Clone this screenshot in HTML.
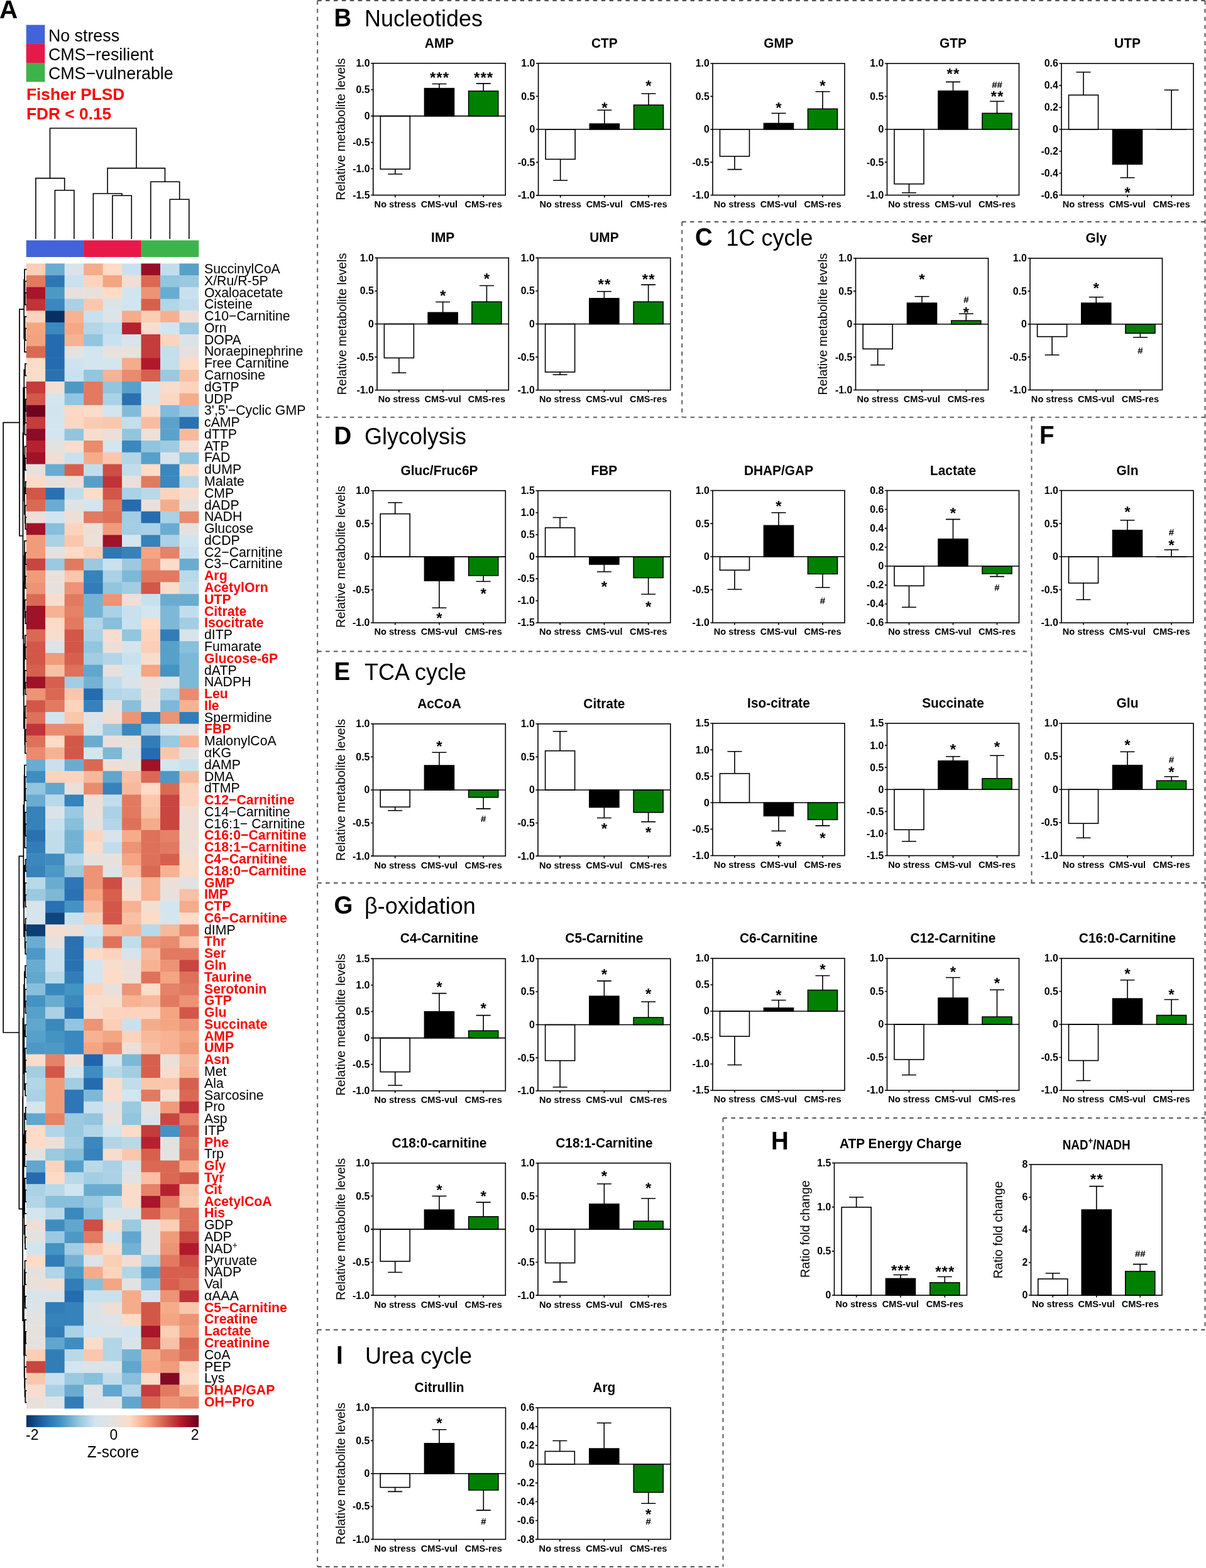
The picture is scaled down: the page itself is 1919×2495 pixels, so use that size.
<!DOCTYPE html><html><head><meta charset="utf-8"><title>Figure</title>
<style>html,body{margin:0;padding:0;background:#fff;}svg{display:block;}text{font-family:'Liberation Sans', Arial, Helvetica, sans-serif;}</style></head><body>
<svg width="1919" height="2495" viewBox="0 0 1919 2495">
<rect width="1919" height="2495" fill="#fff"/>
<text x="-1" y="29.2" font-size="40.5" font-weight="bold">A</text>
<rect x="41.7" y="39.6" width="29.7" height="30.3" fill="#4363d8"/>
<text transform="translate(76.9,65.5) scale(1,1.05)" font-size="26.8">No stress</text>
<rect x="41.7" y="69.8" width="29.7" height="30.3" fill="#e6194b"/>
<text transform="translate(76.9,95.7) scale(1,1.05)" font-size="26.8">CMS−resilient</text>
<rect x="41.7" y="100.0" width="29.7" height="30.3" fill="#3cb44b"/>
<text transform="translate(76.9,125.9) scale(1,1.05)" font-size="26.8">CMS−vulnerable</text>
<text x="42" y="158.5" font-size="26.3" font-weight="bold" fill="#ff0000">Fisher PLSD</text>
<text x="42" y="189.5" font-size="26.3" font-weight="bold" fill="#ff0000">FDR &lt; 0.15</text>
<path d="M79.5,204.0L217.0,204.0M79.5,204.0L79.5,283.6M56.9,283.6L102.7,283.6M56.9,283.6L56.9,379.5M102.7,283.6L102.7,302.7M87.4,302.7L117.9,302.7M87.4,302.7L87.4,379.5M117.9,302.7L117.9,379.5M217.0,204.0L217.0,267.6M171.1,267.6L262.5,267.6M171.1,267.6L171.1,308.0M148.4,308.0L194.0,308.0M148.4,308.0L148.4,379.5M194.0,308.0L194.0,311.3M178.9,311.3L209.3,311.3M178.9,311.3L178.9,379.5M209.3,311.3L209.3,379.5M262.5,267.6L262.5,289.3M239.8,289.3L285.7,289.3M239.8,289.3L239.8,379.5M285.7,289.3L285.7,317.3M270.3,317.3L300.8,317.3M270.3,317.3L270.3,379.5M300.8,317.3L300.8,379.5" stroke="#000" stroke-width="1.6" fill="none" stroke-linecap="square"/>
<rect x="41.70" y="382.4" width="91.74" height="26.6" fill="#4363d8"/>
<rect x="133.14" y="382.4" width="91.74" height="26.6" fill="#e6194b"/>
<rect x="224.58" y="382.4" width="91.74" height="26.6" fill="#3cb44b"/>
<rect x="41.70" y="419.30" width="30.88" height="19.18" fill="#fbceb6"/>
<rect x="72.18" y="419.30" width="30.88" height="19.18" fill="#6aacd0"/>
<rect x="102.66" y="419.30" width="30.88" height="19.18" fill="#d8e4ea"/>
<rect x="133.14" y="419.30" width="30.88" height="19.18" fill="#f5ac8b"/>
<rect x="163.62" y="419.30" width="30.88" height="19.18" fill="#fddbc7"/>
<rect x="194.10" y="419.30" width="30.88" height="19.18" fill="#c9e1ee"/>
<rect x="224.58" y="419.30" width="30.88" height="19.18" fill="#960f26"/>
<rect x="255.06" y="419.30" width="30.88" height="19.18" fill="#c1ddec"/>
<rect x="285.54" y="419.30" width="30.88" height="19.18" fill="#57a0ca"/>
<rect x="41.70" y="438.08" width="30.88" height="19.18" fill="#e17a61"/>
<rect x="72.18" y="438.08" width="30.88" height="19.18" fill="#2e77b5"/>
<rect x="102.66" y="438.08" width="30.88" height="19.18" fill="#c9e1ee"/>
<rect x="133.14" y="438.08" width="30.88" height="19.18" fill="#fcd4be"/>
<rect x="163.62" y="438.08" width="30.88" height="19.18" fill="#f4a582"/>
<rect x="194.10" y="438.08" width="30.88" height="19.18" fill="#f0ded4"/>
<rect x="224.58" y="438.08" width="30.88" height="19.18" fill="#da6954"/>
<rect x="255.06" y="438.08" width="30.88" height="19.18" fill="#92c5de"/>
<rect x="285.54" y="438.08" width="30.88" height="19.18" fill="#9ac9e0"/>
<rect x="41.70" y="456.86" width="30.88" height="19.18" fill="#a9152a"/>
<rect x="72.18" y="456.86" width="30.88" height="19.18" fill="#4d99c6"/>
<rect x="102.66" y="456.86" width="30.88" height="19.18" fill="#e7e1de"/>
<rect x="133.14" y="456.86" width="30.88" height="19.18" fill="#eae0da"/>
<rect x="163.62" y="456.86" width="30.88" height="19.18" fill="#fddbc7"/>
<rect x="194.10" y="456.86" width="30.88" height="19.18" fill="#d1e5f0"/>
<rect x="224.58" y="456.86" width="30.88" height="19.18" fill="#ec9475"/>
<rect x="255.06" y="456.86" width="30.88" height="19.18" fill="#6aacd0"/>
<rect x="285.54" y="456.86" width="30.88" height="19.18" fill="#c9e1ee"/>
<rect x="41.70" y="475.64" width="30.88" height="19.18" fill="#c03338"/>
<rect x="72.18" y="475.64" width="30.88" height="19.18" fill="#3a88bd"/>
<rect x="102.66" y="475.64" width="30.88" height="19.18" fill="#aad1e5"/>
<rect x="133.14" y="475.64" width="30.88" height="19.18" fill="#fac7ad"/>
<rect x="163.62" y="475.64" width="30.88" height="19.18" fill="#dae4e8"/>
<rect x="194.10" y="475.64" width="30.88" height="19.18" fill="#d1e5f0"/>
<rect x="224.58" y="475.64" width="30.88" height="19.18" fill="#d6604d"/>
<rect x="255.06" y="475.64" width="30.88" height="19.18" fill="#b2d5e7"/>
<rect x="285.54" y="475.64" width="30.88" height="19.18" fill="#c1ddec"/>
<rect x="41.70" y="494.42" width="30.88" height="19.18" fill="#fcd4be"/>
<rect x="72.18" y="494.42" width="30.88" height="19.18" fill="#053061"/>
<rect x="102.66" y="494.42" width="30.88" height="19.18" fill="#f6b293"/>
<rect x="133.14" y="494.42" width="30.88" height="19.18" fill="#c9e1ee"/>
<rect x="163.62" y="494.42" width="30.88" height="19.18" fill="#dde3e7"/>
<rect x="194.10" y="494.42" width="30.88" height="19.18" fill="#f5ac8b"/>
<rect x="224.58" y="494.42" width="30.88" height="19.18" fill="#fbceb6"/>
<rect x="255.06" y="494.42" width="30.88" height="19.18" fill="#f6b090"/>
<rect x="285.54" y="494.42" width="30.88" height="19.18" fill="#f0ded4"/>
<rect x="41.70" y="513.20" width="30.88" height="19.18" fill="#f4a582"/>
<rect x="72.18" y="513.20" width="30.88" height="19.18" fill="#3a88bd"/>
<rect x="102.66" y="513.20" width="30.88" height="19.18" fill="#f4a885"/>
<rect x="133.14" y="513.20" width="30.88" height="19.18" fill="#b2d5e7"/>
<rect x="163.62" y="513.20" width="30.88" height="19.18" fill="#c1ddec"/>
<rect x="194.10" y="513.20" width="30.88" height="19.18" fill="#b6212f"/>
<rect x="224.58" y="513.20" width="30.88" height="19.18" fill="#f7ddce"/>
<rect x="255.06" y="513.20" width="30.88" height="19.18" fill="#d1e5f0"/>
<rect x="285.54" y="513.20" width="30.88" height="19.18" fill="#9ac9e0"/>
<rect x="41.70" y="531.98" width="30.88" height="19.18" fill="#f2a27f"/>
<rect x="72.18" y="531.98" width="30.88" height="19.18" fill="#256caf"/>
<rect x="102.66" y="531.98" width="30.88" height="19.18" fill="#f6b293"/>
<rect x="133.14" y="531.98" width="30.88" height="19.18" fill="#92c5de"/>
<rect x="163.62" y="531.98" width="30.88" height="19.18" fill="#c9e1ee"/>
<rect x="194.10" y="531.98" width="30.88" height="19.18" fill="#d8e4ea"/>
<rect x="224.58" y="531.98" width="30.88" height="19.18" fill="#c43c3c"/>
<rect x="255.06" y="531.98" width="30.88" height="19.18" fill="#fcd4be"/>
<rect x="285.54" y="531.98" width="30.88" height="19.18" fill="#dae4e8"/>
<rect x="41.70" y="550.76" width="30.88" height="19.18" fill="#da6954"/>
<rect x="72.18" y="550.76" width="30.88" height="19.18" fill="#256caf"/>
<rect x="102.66" y="550.76" width="30.88" height="19.18" fill="#e4e2e1"/>
<rect x="133.14" y="550.76" width="30.88" height="19.18" fill="#d3e5ee"/>
<rect x="163.62" y="550.76" width="30.88" height="19.18" fill="#e9e1dc"/>
<rect x="194.10" y="550.76" width="30.88" height="19.18" fill="#e9e1dc"/>
<rect x="224.58" y="550.76" width="30.88" height="19.18" fill="#c43c3c"/>
<rect x="255.06" y="550.76" width="30.88" height="19.18" fill="#c4dfec"/>
<rect x="285.54" y="550.76" width="30.88" height="19.18" fill="#e7e1de"/>
<rect x="41.70" y="569.54" width="30.88" height="19.18" fill="#fadcca"/>
<rect x="72.18" y="569.54" width="30.88" height="19.18" fill="#256caf"/>
<rect x="102.66" y="569.54" width="30.88" height="19.18" fill="#cee3ef"/>
<rect x="133.14" y="569.54" width="30.88" height="19.18" fill="#d3e5ee"/>
<rect x="163.62" y="569.54" width="30.88" height="19.18" fill="#d3e5ee"/>
<rect x="194.10" y="569.54" width="30.88" height="19.18" fill="#f5ac8b"/>
<rect x="224.58" y="569.54" width="30.88" height="19.18" fill="#b2182b"/>
<rect x="255.06" y="569.54" width="30.88" height="19.18" fill="#c4dfec"/>
<rect x="285.54" y="569.54" width="30.88" height="19.18" fill="#fddbc7"/>
<rect x="41.70" y="588.32" width="30.88" height="19.18" fill="#fadcca"/>
<rect x="72.18" y="588.32" width="30.88" height="19.18" fill="#2a71b2"/>
<rect x="102.66" y="588.32" width="30.88" height="19.18" fill="#c9e1ee"/>
<rect x="133.14" y="588.32" width="30.88" height="19.18" fill="#92c5de"/>
<rect x="163.62" y="588.32" width="30.88" height="19.18" fill="#f6b293"/>
<rect x="194.10" y="588.32" width="30.88" height="19.18" fill="#e98b6e"/>
<rect x="224.58" y="588.32" width="30.88" height="19.18" fill="#d6604d"/>
<rect x="255.06" y="588.32" width="30.88" height="19.18" fill="#9ac9e0"/>
<rect x="285.54" y="588.32" width="30.88" height="19.18" fill="#f8c0a4"/>
<rect x="41.70" y="607.10" width="30.88" height="19.18" fill="#c43c3c"/>
<rect x="72.18" y="607.10" width="30.88" height="19.18" fill="#f2ded3"/>
<rect x="102.66" y="607.10" width="30.88" height="19.18" fill="#4d99c6"/>
<rect x="133.14" y="607.10" width="30.88" height="19.18" fill="#e17a61"/>
<rect x="163.62" y="607.10" width="30.88" height="19.18" fill="#92c5de"/>
<rect x="194.10" y="607.10" width="30.88" height="19.18" fill="#57a0ca"/>
<rect x="224.58" y="607.10" width="30.88" height="19.18" fill="#d3e5ee"/>
<rect x="255.06" y="607.10" width="30.88" height="19.18" fill="#f8dccc"/>
<rect x="285.54" y="607.10" width="30.88" height="19.18" fill="#fcd4be"/>
<rect x="41.70" y="625.88" width="30.88" height="19.18" fill="#d25749"/>
<rect x="72.18" y="625.88" width="30.88" height="19.18" fill="#d3e5ee"/>
<rect x="102.66" y="625.88" width="30.88" height="19.18" fill="#92c5de"/>
<rect x="133.14" y="625.88" width="30.88" height="19.18" fill="#e17a61"/>
<rect x="163.62" y="625.88" width="30.88" height="19.18" fill="#aad1e5"/>
<rect x="194.10" y="625.88" width="30.88" height="19.18" fill="#2a71b2"/>
<rect x="224.58" y="625.88" width="30.88" height="19.18" fill="#d6e4ec"/>
<rect x="255.06" y="625.88" width="30.88" height="19.18" fill="#fcd7c2"/>
<rect x="285.54" y="625.88" width="30.88" height="19.18" fill="#f5ac8b"/>
<rect x="41.70" y="644.66" width="30.88" height="19.18" fill="#700320"/>
<rect x="72.18" y="644.66" width="30.88" height="19.18" fill="#d2e5ef"/>
<rect x="102.66" y="644.66" width="30.88" height="19.18" fill="#fdd8c4"/>
<rect x="133.14" y="644.66" width="30.88" height="19.18" fill="#fadcca"/>
<rect x="163.62" y="644.66" width="30.88" height="19.18" fill="#d3e5ee"/>
<rect x="194.10" y="644.66" width="30.88" height="19.18" fill="#82bbd9"/>
<rect x="224.58" y="644.66" width="30.88" height="19.18" fill="#fadcca"/>
<rect x="255.06" y="644.66" width="30.88" height="19.18" fill="#82bbd9"/>
<rect x="285.54" y="644.66" width="30.88" height="19.18" fill="#9fcbe2"/>
<rect x="41.70" y="663.44" width="30.88" height="19.18" fill="#c43c3c"/>
<rect x="72.18" y="663.44" width="30.88" height="19.18" fill="#d3e5ee"/>
<rect x="102.66" y="663.44" width="30.88" height="19.18" fill="#fcd7c2"/>
<rect x="133.14" y="663.44" width="30.88" height="19.18" fill="#facbb2"/>
<rect x="163.62" y="663.44" width="30.88" height="19.18" fill="#fac7ad"/>
<rect x="194.10" y="663.44" width="30.88" height="19.18" fill="#c4dfec"/>
<rect x="224.58" y="663.44" width="30.88" height="19.18" fill="#f8bda1"/>
<rect x="255.06" y="663.44" width="30.88" height="19.18" fill="#5ba2cb"/>
<rect x="285.54" y="663.44" width="30.88" height="19.18" fill="#2a71b2"/>
<rect x="41.70" y="682.22" width="30.88" height="19.18" fill="#8c0c25"/>
<rect x="72.18" y="682.22" width="30.88" height="19.18" fill="#d3e5ee"/>
<rect x="102.66" y="682.22" width="30.88" height="19.18" fill="#92c5de"/>
<rect x="133.14" y="682.22" width="30.88" height="19.18" fill="#f7ddce"/>
<rect x="163.62" y="682.22" width="30.88" height="19.18" fill="#eddfd7"/>
<rect x="194.10" y="682.22" width="30.88" height="19.18" fill="#92c5de"/>
<rect x="224.58" y="682.22" width="30.88" height="19.18" fill="#ece0d9"/>
<rect x="255.06" y="682.22" width="30.88" height="19.18" fill="#5ba2cb"/>
<rect x="285.54" y="682.22" width="30.88" height="19.18" fill="#f7b99c"/>
<rect x="41.70" y="701.00" width="30.88" height="19.18" fill="#b6212f"/>
<rect x="72.18" y="701.00" width="30.88" height="19.18" fill="#e2e2e3"/>
<rect x="102.66" y="701.00" width="30.88" height="19.18" fill="#f7ddce"/>
<rect x="133.14" y="701.00" width="30.88" height="19.18" fill="#e98b6e"/>
<rect x="163.62" y="701.00" width="30.88" height="19.18" fill="#d3e5ee"/>
<rect x="194.10" y="701.00" width="30.88" height="19.18" fill="#3a88bd"/>
<rect x="224.58" y="701.00" width="30.88" height="19.18" fill="#92c5de"/>
<rect x="255.06" y="701.00" width="30.88" height="19.18" fill="#9fcbe2"/>
<rect x="285.54" y="701.00" width="30.88" height="19.18" fill="#f4ded1"/>
<rect x="41.70" y="719.78" width="30.88" height="19.18" fill="#9f1228"/>
<rect x="72.18" y="719.78" width="30.88" height="19.18" fill="#f0ded4"/>
<rect x="102.66" y="719.78" width="30.88" height="19.18" fill="#c9e1ee"/>
<rect x="133.14" y="719.78" width="30.88" height="19.18" fill="#f5ac8b"/>
<rect x="163.62" y="719.78" width="30.88" height="19.18" fill="#fac7ad"/>
<rect x="194.10" y="719.78" width="30.88" height="19.18" fill="#b2d5e7"/>
<rect x="224.58" y="719.78" width="30.88" height="19.18" fill="#57a0ca"/>
<rect x="255.06" y="719.78" width="30.88" height="19.18" fill="#d8e4ea"/>
<rect x="285.54" y="719.78" width="30.88" height="19.18" fill="#92c5de"/>
<rect x="41.70" y="738.56" width="30.88" height="19.18" fill="#e7e1de"/>
<rect x="72.18" y="738.56" width="30.88" height="19.18" fill="#6aacd0"/>
<rect x="102.66" y="738.56" width="30.88" height="19.18" fill="#d6604d"/>
<rect x="133.14" y="738.56" width="30.88" height="19.18" fill="#c1ddec"/>
<rect x="163.62" y="738.56" width="30.88" height="19.18" fill="#cd4e44"/>
<rect x="194.10" y="738.56" width="30.88" height="19.18" fill="#c1ddec"/>
<rect x="224.58" y="738.56" width="30.88" height="19.18" fill="#fddbc7"/>
<rect x="255.06" y="738.56" width="30.88" height="19.18" fill="#3a88bd"/>
<rect x="285.54" y="738.56" width="30.88" height="19.18" fill="#fddbc7"/>
<rect x="41.70" y="757.34" width="30.88" height="19.18" fill="#fddbc7"/>
<rect x="72.18" y="757.34" width="30.88" height="19.18" fill="#e7e1de"/>
<rect x="102.66" y="757.34" width="30.88" height="19.18" fill="#eddfd7"/>
<rect x="133.14" y="757.34" width="30.88" height="19.18" fill="#57a0ca"/>
<rect x="163.62" y="757.34" width="30.88" height="19.18" fill="#c03338"/>
<rect x="194.10" y="757.34" width="30.88" height="19.18" fill="#eae0da"/>
<rect x="224.58" y="757.34" width="30.88" height="19.18" fill="#e17a61"/>
<rect x="255.06" y="757.34" width="30.88" height="19.18" fill="#3a88bd"/>
<rect x="285.54" y="757.34" width="30.88" height="19.18" fill="#b9d9e9"/>
<rect x="41.70" y="776.12" width="30.88" height="19.18" fill="#d25749"/>
<rect x="72.18" y="776.12" width="30.88" height="19.18" fill="#2a71b2"/>
<rect x="102.66" y="776.12" width="30.88" height="19.18" fill="#c1ddec"/>
<rect x="133.14" y="776.12" width="30.88" height="19.18" fill="#fadcca"/>
<rect x="163.62" y="776.12" width="30.88" height="19.18" fill="#d25749"/>
<rect x="194.10" y="776.12" width="30.88" height="19.18" fill="#aad1e5"/>
<rect x="224.58" y="776.12" width="30.88" height="19.18" fill="#b9d9e9"/>
<rect x="255.06" y="776.12" width="30.88" height="19.18" fill="#fcd4be"/>
<rect x="285.54" y="776.12" width="30.88" height="19.18" fill="#f7ddce"/>
<rect x="41.70" y="794.90" width="30.88" height="19.18" fill="#da6954"/>
<rect x="72.18" y="794.90" width="30.88" height="19.18" fill="#6aacd0"/>
<rect x="102.66" y="794.90" width="30.88" height="19.18" fill="#dfe3e5"/>
<rect x="133.14" y="794.90" width="30.88" height="19.18" fill="#d3e5ee"/>
<rect x="163.62" y="794.90" width="30.88" height="19.18" fill="#e17a61"/>
<rect x="194.10" y="794.90" width="30.88" height="19.18" fill="#256caf"/>
<rect x="224.58" y="794.90" width="30.88" height="19.18" fill="#eae0da"/>
<rect x="255.06" y="794.90" width="30.88" height="19.18" fill="#f5ac8b"/>
<rect x="285.54" y="794.90" width="30.88" height="19.18" fill="#e7e1de"/>
<rect x="41.70" y="813.68" width="30.88" height="19.18" fill="#eddfd7"/>
<rect x="72.18" y="813.68" width="30.88" height="19.18" fill="#d1e5f0"/>
<rect x="102.66" y="813.68" width="30.88" height="19.18" fill="#f0ded4"/>
<rect x="133.14" y="813.68" width="30.88" height="19.18" fill="#e17a61"/>
<rect x="163.62" y="813.68" width="30.88" height="19.18" fill="#de715a"/>
<rect x="194.10" y="813.68" width="30.88" height="19.18" fill="#a2cde2"/>
<rect x="224.58" y="813.68" width="30.88" height="19.18" fill="#256caf"/>
<rect x="255.06" y="813.68" width="30.88" height="19.18" fill="#aad1e5"/>
<rect x="285.54" y="813.68" width="30.88" height="19.18" fill="#e98b6e"/>
<rect x="41.70" y="832.46" width="30.88" height="19.18" fill="#9f1228"/>
<rect x="72.18" y="832.46" width="30.88" height="19.18" fill="#88bfdb"/>
<rect x="102.66" y="832.46" width="30.88" height="19.18" fill="#fcd4be"/>
<rect x="133.14" y="832.46" width="30.88" height="19.18" fill="#eddfd7"/>
<rect x="163.62" y="832.46" width="30.88" height="19.18" fill="#f09c7b"/>
<rect x="194.10" y="832.46" width="30.88" height="19.18" fill="#a2cde2"/>
<rect x="224.58" y="832.46" width="30.88" height="19.18" fill="#aad1e5"/>
<rect x="255.06" y="832.46" width="30.88" height="19.18" fill="#6aacd0"/>
<rect x="285.54" y="832.46" width="30.88" height="19.18" fill="#e7e1de"/>
<rect x="41.70" y="851.24" width="30.88" height="19.18" fill="#f09c7b"/>
<rect x="72.18" y="851.24" width="30.88" height="19.18" fill="#aad1e5"/>
<rect x="102.66" y="851.24" width="30.88" height="19.18" fill="#fac7ad"/>
<rect x="133.14" y="851.24" width="30.88" height="19.18" fill="#ece0d9"/>
<rect x="163.62" y="851.24" width="30.88" height="19.18" fill="#9f1228"/>
<rect x="194.10" y="851.24" width="30.88" height="19.18" fill="#d3e5ee"/>
<rect x="224.58" y="851.24" width="30.88" height="19.18" fill="#3682ba"/>
<rect x="255.06" y="851.24" width="30.88" height="19.18" fill="#aad1e5"/>
<rect x="285.54" y="851.24" width="30.88" height="19.18" fill="#d1e5f0"/>
<rect x="41.70" y="870.02" width="30.88" height="19.18" fill="#f09c7b"/>
<rect x="72.18" y="870.02" width="30.88" height="19.18" fill="#e7e1de"/>
<rect x="102.66" y="870.02" width="30.88" height="19.18" fill="#fddbc7"/>
<rect x="133.14" y="870.02" width="30.88" height="19.18" fill="#fbceb6"/>
<rect x="163.62" y="870.02" width="30.88" height="19.18" fill="#2e77b5"/>
<rect x="194.10" y="870.02" width="30.88" height="19.18" fill="#3682ba"/>
<rect x="224.58" y="870.02" width="30.88" height="19.18" fill="#f4a582"/>
<rect x="255.06" y="870.02" width="30.88" height="19.18" fill="#e58268"/>
<rect x="285.54" y="870.02" width="30.88" height="19.18" fill="#c9e1ee"/>
<rect x="41.70" y="888.80" width="30.88" height="19.18" fill="#c84540"/>
<rect x="72.18" y="888.80" width="30.88" height="19.18" fill="#9ac9e0"/>
<rect x="102.66" y="888.80" width="30.88" height="19.18" fill="#e17a61"/>
<rect x="133.14" y="888.80" width="30.88" height="19.18" fill="#9ac9e0"/>
<rect x="163.62" y="888.80" width="30.88" height="19.18" fill="#c9e1ee"/>
<rect x="194.10" y="888.80" width="30.88" height="19.18" fill="#9ac9e0"/>
<rect x="224.58" y="888.80" width="30.88" height="19.18" fill="#ec9475"/>
<rect x="255.06" y="888.80" width="30.88" height="19.18" fill="#fadcca"/>
<rect x="285.54" y="888.80" width="30.88" height="19.18" fill="#6aacd0"/>
<rect x="41.70" y="907.58" width="30.88" height="19.18" fill="#f09c7b"/>
<rect x="72.18" y="907.58" width="30.88" height="19.18" fill="#eae0da"/>
<rect x="102.66" y="907.58" width="30.88" height="19.18" fill="#fac7ad"/>
<rect x="133.14" y="907.58" width="30.88" height="19.18" fill="#3682ba"/>
<rect x="163.62" y="907.58" width="30.88" height="19.18" fill="#aad1e5"/>
<rect x="194.10" y="907.58" width="30.88" height="19.18" fill="#7eb8d7"/>
<rect x="224.58" y="907.58" width="30.88" height="19.18" fill="#e17a61"/>
<rect x="255.06" y="907.58" width="30.88" height="19.18" fill="#e17a61"/>
<rect x="285.54" y="907.58" width="30.88" height="19.18" fill="#b9d9e9"/>
<rect x="41.70" y="926.36" width="30.88" height="19.18" fill="#ec9475"/>
<rect x="72.18" y="926.36" width="30.88" height="19.18" fill="#e7e1de"/>
<rect x="102.66" y="926.36" width="30.88" height="19.18" fill="#ec9475"/>
<rect x="133.14" y="926.36" width="30.88" height="19.18" fill="#327db8"/>
<rect x="163.62" y="926.36" width="30.88" height="19.18" fill="#92c5de"/>
<rect x="194.10" y="926.36" width="30.88" height="19.18" fill="#a2cde2"/>
<rect x="224.58" y="926.36" width="30.88" height="19.18" fill="#d25749"/>
<rect x="255.06" y="926.36" width="30.88" height="19.18" fill="#fadcca"/>
<rect x="285.54" y="926.36" width="30.88" height="19.18" fill="#c1ddec"/>
<rect x="41.70" y="945.14" width="30.88" height="19.18" fill="#da6954"/>
<rect x="72.18" y="945.14" width="30.88" height="19.18" fill="#f7ddce"/>
<rect x="102.66" y="945.14" width="30.88" height="19.18" fill="#e17a61"/>
<rect x="133.14" y="945.14" width="30.88" height="19.18" fill="#74b2d4"/>
<rect x="163.62" y="945.14" width="30.88" height="19.18" fill="#ec9475"/>
<rect x="194.10" y="945.14" width="30.88" height="19.18" fill="#eddfd7"/>
<rect x="224.58" y="945.14" width="30.88" height="19.18" fill="#c9e1ee"/>
<rect x="255.06" y="945.14" width="30.88" height="19.18" fill="#6aacd0"/>
<rect x="285.54" y="945.14" width="30.88" height="19.18" fill="#6aacd0"/>
<rect x="41.70" y="963.92" width="30.88" height="19.18" fill="#9f1228"/>
<rect x="72.18" y="963.92" width="30.88" height="19.18" fill="#f6b293"/>
<rect x="102.66" y="963.92" width="30.88" height="19.18" fill="#e58268"/>
<rect x="133.14" y="963.92" width="30.88" height="19.18" fill="#74b2d4"/>
<rect x="163.62" y="963.92" width="30.88" height="19.18" fill="#aad1e5"/>
<rect x="194.10" y="963.92" width="30.88" height="19.18" fill="#c9e1ee"/>
<rect x="224.58" y="963.92" width="30.88" height="19.18" fill="#d3e5ee"/>
<rect x="255.06" y="963.92" width="30.88" height="19.18" fill="#7eb8d7"/>
<rect x="285.54" y="963.92" width="30.88" height="19.18" fill="#c1ddec"/>
<rect x="41.70" y="982.70" width="30.88" height="19.18" fill="#9f1228"/>
<rect x="72.18" y="982.70" width="30.88" height="19.18" fill="#fddbc7"/>
<rect x="102.66" y="982.70" width="30.88" height="19.18" fill="#e17a61"/>
<rect x="133.14" y="982.70" width="30.88" height="19.18" fill="#b2d5e7"/>
<rect x="163.62" y="982.70" width="30.88" height="19.18" fill="#88bfdb"/>
<rect x="194.10" y="982.70" width="30.88" height="19.18" fill="#c9e1ee"/>
<rect x="224.58" y="982.70" width="30.88" height="19.18" fill="#fddbc7"/>
<rect x="255.06" y="982.70" width="30.88" height="19.18" fill="#7eb8d7"/>
<rect x="285.54" y="982.70" width="30.88" height="19.18" fill="#a2cde2"/>
<rect x="41.70" y="1001.48" width="30.88" height="19.18" fill="#da6954"/>
<rect x="72.18" y="1001.48" width="30.88" height="19.18" fill="#f7ddce"/>
<rect x="102.66" y="1001.48" width="30.88" height="19.18" fill="#d25749"/>
<rect x="133.14" y="1001.48" width="30.88" height="19.18" fill="#aad1e5"/>
<rect x="163.62" y="1001.48" width="30.88" height="19.18" fill="#f7ddce"/>
<rect x="194.10" y="1001.48" width="30.88" height="19.18" fill="#92c5de"/>
<rect x="224.58" y="1001.48" width="30.88" height="19.18" fill="#fcd4be"/>
<rect x="255.06" y="1001.48" width="30.88" height="19.18" fill="#327db8"/>
<rect x="285.54" y="1001.48" width="30.88" height="19.18" fill="#d8e4ea"/>
<rect x="41.70" y="1020.26" width="30.88" height="19.18" fill="#d25749"/>
<rect x="72.18" y="1020.26" width="30.88" height="19.18" fill="#dde3e7"/>
<rect x="102.66" y="1020.26" width="30.88" height="19.18" fill="#d25749"/>
<rect x="133.14" y="1020.26" width="30.88" height="19.18" fill="#92c5de"/>
<rect x="163.62" y="1020.26" width="30.88" height="19.18" fill="#eddfd7"/>
<rect x="194.10" y="1020.26" width="30.88" height="19.18" fill="#d6e4ec"/>
<rect x="224.58" y="1020.26" width="30.88" height="19.18" fill="#fbceb6"/>
<rect x="255.06" y="1020.26" width="30.88" height="19.18" fill="#57a0ca"/>
<rect x="285.54" y="1020.26" width="30.88" height="19.18" fill="#88bfdb"/>
<rect x="41.70" y="1039.04" width="30.88" height="19.18" fill="#d25749"/>
<rect x="72.18" y="1039.04" width="30.88" height="19.18" fill="#f09c7b"/>
<rect x="102.66" y="1039.04" width="30.88" height="19.18" fill="#d6604d"/>
<rect x="133.14" y="1039.04" width="30.88" height="19.18" fill="#a2cde2"/>
<rect x="163.62" y="1039.04" width="30.88" height="19.18" fill="#b2d5e7"/>
<rect x="194.10" y="1039.04" width="30.88" height="19.18" fill="#c9e1ee"/>
<rect x="224.58" y="1039.04" width="30.88" height="19.18" fill="#f7ddce"/>
<rect x="255.06" y="1039.04" width="30.88" height="19.18" fill="#57a0ca"/>
<rect x="285.54" y="1039.04" width="30.88" height="19.18" fill="#7eb8d7"/>
<rect x="41.70" y="1057.82" width="30.88" height="19.18" fill="#d6604d"/>
<rect x="72.18" y="1057.82" width="30.88" height="19.18" fill="#f8c0a4"/>
<rect x="102.66" y="1057.82" width="30.88" height="19.18" fill="#de715a"/>
<rect x="133.14" y="1057.82" width="30.88" height="19.18" fill="#61a6cd"/>
<rect x="163.62" y="1057.82" width="30.88" height="19.18" fill="#e7e1de"/>
<rect x="194.10" y="1057.82" width="30.88" height="19.18" fill="#d3e5ee"/>
<rect x="224.58" y="1057.82" width="30.88" height="19.18" fill="#f4a582"/>
<rect x="255.06" y="1057.82" width="30.88" height="19.18" fill="#4393c3"/>
<rect x="285.54" y="1057.82" width="30.88" height="19.18" fill="#7eb8d7"/>
<rect x="41.70" y="1076.60" width="30.88" height="19.18" fill="#9f1228"/>
<rect x="72.18" y="1076.60" width="30.88" height="19.18" fill="#d6604d"/>
<rect x="102.66" y="1076.60" width="30.88" height="19.18" fill="#a2cde2"/>
<rect x="133.14" y="1076.60" width="30.88" height="19.18" fill="#74b2d4"/>
<rect x="163.62" y="1076.60" width="30.88" height="19.18" fill="#c1ddec"/>
<rect x="194.10" y="1076.60" width="30.88" height="19.18" fill="#dae4e8"/>
<rect x="224.58" y="1076.60" width="30.88" height="19.18" fill="#eddfd7"/>
<rect x="255.06" y="1076.60" width="30.88" height="19.18" fill="#dfe3e5"/>
<rect x="285.54" y="1076.60" width="30.88" height="19.18" fill="#7eb8d7"/>
<rect x="41.70" y="1095.38" width="30.88" height="19.18" fill="#ec9475"/>
<rect x="72.18" y="1095.38" width="30.88" height="19.18" fill="#da6954"/>
<rect x="102.66" y="1095.38" width="30.88" height="19.18" fill="#fac7ad"/>
<rect x="133.14" y="1095.38" width="30.88" height="19.18" fill="#256caf"/>
<rect x="163.62" y="1095.38" width="30.88" height="19.18" fill="#b2d5e7"/>
<rect x="194.10" y="1095.38" width="30.88" height="19.18" fill="#b9d9e9"/>
<rect x="224.58" y="1095.38" width="30.88" height="19.18" fill="#eae0da"/>
<rect x="255.06" y="1095.38" width="30.88" height="19.18" fill="#aad1e5"/>
<rect x="285.54" y="1095.38" width="30.88" height="19.18" fill="#e98b6e"/>
<rect x="41.70" y="1114.16" width="30.88" height="19.18" fill="#d25749"/>
<rect x="72.18" y="1114.16" width="30.88" height="19.18" fill="#e17a61"/>
<rect x="102.66" y="1114.16" width="30.88" height="19.18" fill="#fcd4be"/>
<rect x="133.14" y="1114.16" width="30.88" height="19.18" fill="#3682ba"/>
<rect x="163.62" y="1114.16" width="30.88" height="19.18" fill="#e4e2e1"/>
<rect x="194.10" y="1114.16" width="30.88" height="19.18" fill="#88bfdb"/>
<rect x="224.58" y="1114.16" width="30.88" height="19.18" fill="#e4e2e1"/>
<rect x="255.06" y="1114.16" width="30.88" height="19.18" fill="#7eb8d7"/>
<rect x="285.54" y="1114.16" width="30.88" height="19.18" fill="#f6b293"/>
<rect x="41.70" y="1132.94" width="30.88" height="19.18" fill="#de715a"/>
<rect x="72.18" y="1132.94" width="30.88" height="19.18" fill="#d1e5f0"/>
<rect x="102.66" y="1132.94" width="30.88" height="19.18" fill="#fac7ad"/>
<rect x="133.14" y="1132.94" width="30.88" height="19.18" fill="#dde3e7"/>
<rect x="163.62" y="1132.94" width="30.88" height="19.18" fill="#f0ded4"/>
<rect x="194.10" y="1132.94" width="30.88" height="19.18" fill="#ec9475"/>
<rect x="224.58" y="1132.94" width="30.88" height="19.18" fill="#3682ba"/>
<rect x="255.06" y="1132.94" width="30.88" height="19.18" fill="#ec9475"/>
<rect x="285.54" y="1132.94" width="30.88" height="19.18" fill="#327db8"/>
<rect x="41.70" y="1151.72" width="30.88" height="19.18" fill="#c03338"/>
<rect x="72.18" y="1151.72" width="30.88" height="19.18" fill="#e98b6e"/>
<rect x="102.66" y="1151.72" width="30.88" height="19.18" fill="#e98b6e"/>
<rect x="133.14" y="1151.72" width="30.88" height="19.18" fill="#d6e4ec"/>
<rect x="163.62" y="1151.72" width="30.88" height="19.18" fill="#9ac9e0"/>
<rect x="194.10" y="1151.72" width="30.88" height="19.18" fill="#3a88bd"/>
<rect x="224.58" y="1151.72" width="30.88" height="19.18" fill="#a2cde2"/>
<rect x="255.06" y="1151.72" width="30.88" height="19.18" fill="#d3e5ee"/>
<rect x="285.54" y="1151.72" width="30.88" height="19.18" fill="#e7e1de"/>
<rect x="41.70" y="1170.50" width="30.88" height="19.18" fill="#de715a"/>
<rect x="72.18" y="1170.50" width="30.88" height="19.18" fill="#fddbc7"/>
<rect x="102.66" y="1170.50" width="30.88" height="19.18" fill="#d25749"/>
<rect x="133.14" y="1170.50" width="30.88" height="19.18" fill="#6aacd0"/>
<rect x="163.62" y="1170.50" width="30.88" height="19.18" fill="#eae0da"/>
<rect x="194.10" y="1170.50" width="30.88" height="19.18" fill="#eae0da"/>
<rect x="224.58" y="1170.50" width="30.88" height="19.18" fill="#327db8"/>
<rect x="255.06" y="1170.50" width="30.88" height="19.18" fill="#9ac9e0"/>
<rect x="285.54" y="1170.50" width="30.88" height="19.18" fill="#f6b293"/>
<rect x="41.70" y="1189.28" width="30.88" height="19.18" fill="#e98b6e"/>
<rect x="72.18" y="1189.28" width="30.88" height="19.18" fill="#f6b293"/>
<rect x="102.66" y="1189.28" width="30.88" height="19.18" fill="#d25749"/>
<rect x="133.14" y="1189.28" width="30.88" height="19.18" fill="#d6e4ec"/>
<rect x="163.62" y="1189.28" width="30.88" height="19.18" fill="#7eb8d7"/>
<rect x="194.10" y="1189.28" width="30.88" height="19.18" fill="#dae4e8"/>
<rect x="224.58" y="1189.28" width="30.88" height="19.18" fill="#256caf"/>
<rect x="255.06" y="1189.28" width="30.88" height="19.18" fill="#fac7ad"/>
<rect x="285.54" y="1189.28" width="30.88" height="19.18" fill="#e4e2e1"/>
<rect x="41.70" y="1208.06" width="30.88" height="19.18" fill="#6aacd0"/>
<rect x="72.18" y="1208.06" width="30.88" height="19.18" fill="#c9e1ee"/>
<rect x="102.66" y="1208.06" width="30.88" height="19.18" fill="#6aacd0"/>
<rect x="133.14" y="1208.06" width="30.88" height="19.18" fill="#da6954"/>
<rect x="163.62" y="1208.06" width="30.88" height="19.18" fill="#eddfd7"/>
<rect x="194.10" y="1208.06" width="30.88" height="19.18" fill="#eae0da"/>
<rect x="224.58" y="1208.06" width="30.88" height="19.18" fill="#9f1228"/>
<rect x="255.06" y="1208.06" width="30.88" height="19.18" fill="#d3e5ee"/>
<rect x="285.54" y="1208.06" width="30.88" height="19.18" fill="#c9e1ee"/>
<rect x="41.70" y="1226.84" width="30.88" height="19.18" fill="#3f8dc0"/>
<rect x="72.18" y="1226.84" width="30.88" height="19.18" fill="#fcd4be"/>
<rect x="102.66" y="1226.84" width="30.88" height="19.18" fill="#fcd4be"/>
<rect x="133.14" y="1226.84" width="30.88" height="19.18" fill="#f7b99c"/>
<rect x="163.62" y="1226.84" width="30.88" height="19.18" fill="#61a6cd"/>
<rect x="194.10" y="1226.84" width="30.88" height="19.18" fill="#f8c0a4"/>
<rect x="224.58" y="1226.84" width="30.88" height="19.18" fill="#da6954"/>
<rect x="255.06" y="1226.84" width="30.88" height="19.18" fill="#4d99c6"/>
<rect x="285.54" y="1226.84" width="30.88" height="19.18" fill="#f7b99c"/>
<rect x="41.70" y="1245.62" width="30.88" height="19.18" fill="#92c5de"/>
<rect x="72.18" y="1245.62" width="30.88" height="19.18" fill="#61a6cd"/>
<rect x="102.66" y="1245.62" width="30.88" height="19.18" fill="#eae0da"/>
<rect x="133.14" y="1245.62" width="30.88" height="19.18" fill="#e98b6e"/>
<rect x="163.62" y="1245.62" width="30.88" height="19.18" fill="#3682ba"/>
<rect x="194.10" y="1245.62" width="30.88" height="19.18" fill="#f7b99c"/>
<rect x="224.58" y="1245.62" width="30.88" height="19.18" fill="#fddbc7"/>
<rect x="255.06" y="1245.62" width="30.88" height="19.18" fill="#da6954"/>
<rect x="285.54" y="1245.62" width="30.88" height="19.18" fill="#fcd4be"/>
<rect x="41.70" y="1264.40" width="30.88" height="19.18" fill="#6aacd0"/>
<rect x="72.18" y="1264.40" width="30.88" height="19.18" fill="#b9d9e9"/>
<rect x="102.66" y="1264.40" width="30.88" height="19.18" fill="#3682ba"/>
<rect x="133.14" y="1264.40" width="30.88" height="19.18" fill="#eddfd7"/>
<rect x="163.62" y="1264.40" width="30.88" height="19.18" fill="#c1ddec"/>
<rect x="194.10" y="1264.40" width="30.88" height="19.18" fill="#e17a61"/>
<rect x="224.58" y="1264.40" width="30.88" height="19.18" fill="#fac7ad"/>
<rect x="255.06" y="1264.40" width="30.88" height="19.18" fill="#c84540"/>
<rect x="285.54" y="1264.40" width="30.88" height="19.18" fill="#fcd4be"/>
<rect x="41.70" y="1283.18" width="30.88" height="19.18" fill="#3682ba"/>
<rect x="72.18" y="1283.18" width="30.88" height="19.18" fill="#dae4e8"/>
<rect x="102.66" y="1283.18" width="30.88" height="19.18" fill="#9ac9e0"/>
<rect x="133.14" y="1283.18" width="30.88" height="19.18" fill="#eddfd7"/>
<rect x="163.62" y="1283.18" width="30.88" height="19.18" fill="#aad1e5"/>
<rect x="194.10" y="1283.18" width="30.88" height="19.18" fill="#e17a61"/>
<rect x="224.58" y="1283.18" width="30.88" height="19.18" fill="#f8c0a4"/>
<rect x="255.06" y="1283.18" width="30.88" height="19.18" fill="#c84540"/>
<rect x="285.54" y="1283.18" width="30.88" height="19.18" fill="#f0ded4"/>
<rect x="41.70" y="1301.96" width="30.88" height="19.18" fill="#3682ba"/>
<rect x="72.18" y="1301.96" width="30.88" height="19.18" fill="#c9e1ee"/>
<rect x="102.66" y="1301.96" width="30.88" height="19.18" fill="#88bfdb"/>
<rect x="133.14" y="1301.96" width="30.88" height="19.18" fill="#e7e1de"/>
<rect x="163.62" y="1301.96" width="30.88" height="19.18" fill="#b2d5e7"/>
<rect x="194.10" y="1301.96" width="30.88" height="19.18" fill="#de715a"/>
<rect x="224.58" y="1301.96" width="30.88" height="19.18" fill="#f5ac8b"/>
<rect x="255.06" y="1301.96" width="30.88" height="19.18" fill="#c84540"/>
<rect x="285.54" y="1301.96" width="30.88" height="19.18" fill="#eddfd7"/>
<rect x="41.70" y="1320.74" width="30.88" height="19.18" fill="#2a71b2"/>
<rect x="72.18" y="1320.74" width="30.88" height="19.18" fill="#c1ddec"/>
<rect x="102.66" y="1320.74" width="30.88" height="19.18" fill="#74b2d4"/>
<rect x="133.14" y="1320.74" width="30.88" height="19.18" fill="#fcd4be"/>
<rect x="163.62" y="1320.74" width="30.88" height="19.18" fill="#d8e4ea"/>
<rect x="194.10" y="1320.74" width="30.88" height="19.18" fill="#f5ac8b"/>
<rect x="224.58" y="1320.74" width="30.88" height="19.18" fill="#de715a"/>
<rect x="255.06" y="1320.74" width="30.88" height="19.18" fill="#e58268"/>
<rect x="285.54" y="1320.74" width="30.88" height="19.18" fill="#f0ded4"/>
<rect x="41.70" y="1339.52" width="30.88" height="19.18" fill="#327db8"/>
<rect x="72.18" y="1339.52" width="30.88" height="19.18" fill="#c1ddec"/>
<rect x="102.66" y="1339.52" width="30.88" height="19.18" fill="#74b2d4"/>
<rect x="133.14" y="1339.52" width="30.88" height="19.18" fill="#fadcca"/>
<rect x="163.62" y="1339.52" width="30.88" height="19.18" fill="#c1ddec"/>
<rect x="194.10" y="1339.52" width="30.88" height="19.18" fill="#ec9475"/>
<rect x="224.58" y="1339.52" width="30.88" height="19.18" fill="#de715a"/>
<rect x="255.06" y="1339.52" width="30.88" height="19.18" fill="#e17a61"/>
<rect x="285.54" y="1339.52" width="30.88" height="19.18" fill="#eddfd7"/>
<rect x="41.70" y="1358.30" width="30.88" height="19.18" fill="#3a88bd"/>
<rect x="72.18" y="1358.30" width="30.88" height="19.18" fill="#3f8dc0"/>
<rect x="102.66" y="1358.30" width="30.88" height="19.18" fill="#b2d5e7"/>
<rect x="133.14" y="1358.30" width="30.88" height="19.18" fill="#e7e1de"/>
<rect x="163.62" y="1358.30" width="30.88" height="19.18" fill="#e7e1de"/>
<rect x="194.10" y="1358.30" width="30.88" height="19.18" fill="#f4a582"/>
<rect x="224.58" y="1358.30" width="30.88" height="19.18" fill="#de715a"/>
<rect x="255.06" y="1358.30" width="30.88" height="19.18" fill="#d6604d"/>
<rect x="285.54" y="1358.30" width="30.88" height="19.18" fill="#f7ddce"/>
<rect x="41.70" y="1377.08" width="30.88" height="19.18" fill="#3682ba"/>
<rect x="72.18" y="1377.08" width="30.88" height="19.18" fill="#4d99c6"/>
<rect x="102.66" y="1377.08" width="30.88" height="19.18" fill="#9ac9e0"/>
<rect x="133.14" y="1377.08" width="30.88" height="19.18" fill="#ec9475"/>
<rect x="163.62" y="1377.08" width="30.88" height="19.18" fill="#dfe3e5"/>
<rect x="194.10" y="1377.08" width="30.88" height="19.18" fill="#f8c0a4"/>
<rect x="224.58" y="1377.08" width="30.88" height="19.18" fill="#da6954"/>
<rect x="255.06" y="1377.08" width="30.88" height="19.18" fill="#f6b293"/>
<rect x="285.54" y="1377.08" width="30.88" height="19.18" fill="#fadcca"/>
<rect x="41.70" y="1395.86" width="30.88" height="19.18" fill="#b9d9e9"/>
<rect x="72.18" y="1395.86" width="30.88" height="19.18" fill="#6aacd0"/>
<rect x="102.66" y="1395.86" width="30.88" height="19.18" fill="#2e77b5"/>
<rect x="133.14" y="1395.86" width="30.88" height="19.18" fill="#ec9475"/>
<rect x="163.62" y="1395.86" width="30.88" height="19.18" fill="#cd4e44"/>
<rect x="194.10" y="1395.86" width="30.88" height="19.18" fill="#eddfd7"/>
<rect x="224.58" y="1395.86" width="30.88" height="19.18" fill="#f6b293"/>
<rect x="255.06" y="1395.86" width="30.88" height="19.18" fill="#eddfd7"/>
<rect x="285.54" y="1395.86" width="30.88" height="19.18" fill="#e2e2e3"/>
<rect x="41.70" y="1414.64" width="30.88" height="19.18" fill="#9ac9e0"/>
<rect x="72.18" y="1414.64" width="30.88" height="19.18" fill="#7eb8d7"/>
<rect x="102.66" y="1414.64" width="30.88" height="19.18" fill="#2a71b2"/>
<rect x="133.14" y="1414.64" width="30.88" height="19.18" fill="#f4a582"/>
<rect x="163.62" y="1414.64" width="30.88" height="19.18" fill="#d6604d"/>
<rect x="194.10" y="1414.64" width="30.88" height="19.18" fill="#f7ddce"/>
<rect x="224.58" y="1414.64" width="30.88" height="19.18" fill="#f6b293"/>
<rect x="255.06" y="1414.64" width="30.88" height="19.18" fill="#e7e1de"/>
<rect x="285.54" y="1414.64" width="30.88" height="19.18" fill="#f8c0a4"/>
<rect x="41.70" y="1433.42" width="30.88" height="19.18" fill="#d8e4ea"/>
<rect x="72.18" y="1433.42" width="30.88" height="19.18" fill="#2a71b2"/>
<rect x="102.66" y="1433.42" width="30.88" height="19.18" fill="#4393c3"/>
<rect x="133.14" y="1433.42" width="30.88" height="19.18" fill="#f7b99c"/>
<rect x="163.62" y="1433.42" width="30.88" height="19.18" fill="#d25749"/>
<rect x="194.10" y="1433.42" width="30.88" height="19.18" fill="#f6b293"/>
<rect x="224.58" y="1433.42" width="30.88" height="19.18" fill="#f4ded1"/>
<rect x="255.06" y="1433.42" width="30.88" height="19.18" fill="#d3e5ee"/>
<rect x="285.54" y="1433.42" width="30.88" height="19.18" fill="#f5ac8b"/>
<rect x="41.70" y="1452.20" width="30.88" height="19.18" fill="#d6e4ec"/>
<rect x="72.18" y="1452.20" width="30.88" height="19.18" fill="#0f447d"/>
<rect x="102.66" y="1452.20" width="30.88" height="19.18" fill="#c9e1ee"/>
<rect x="133.14" y="1452.20" width="30.88" height="19.18" fill="#fbceb6"/>
<rect x="163.62" y="1452.20" width="30.88" height="19.18" fill="#d25749"/>
<rect x="194.10" y="1452.20" width="30.88" height="19.18" fill="#f8c0a4"/>
<rect x="224.58" y="1452.20" width="30.88" height="19.18" fill="#fddbc7"/>
<rect x="255.06" y="1452.20" width="30.88" height="19.18" fill="#d3e5ee"/>
<rect x="285.54" y="1452.20" width="30.88" height="19.18" fill="#fddbc7"/>
<rect x="41.70" y="1470.98" width="30.88" height="19.18" fill="#0c3e74"/>
<rect x="72.18" y="1470.98" width="30.88" height="19.18" fill="#f4ded1"/>
<rect x="102.66" y="1470.98" width="30.88" height="19.18" fill="#eddfd7"/>
<rect x="133.14" y="1470.98" width="30.88" height="19.18" fill="#d1e5f0"/>
<rect x="163.62" y="1470.98" width="30.88" height="19.18" fill="#f7b99c"/>
<rect x="194.10" y="1470.98" width="30.88" height="19.18" fill="#f6b293"/>
<rect x="224.58" y="1470.98" width="30.88" height="19.18" fill="#b9d9e9"/>
<rect x="255.06" y="1470.98" width="30.88" height="19.18" fill="#f7b99c"/>
<rect x="285.54" y="1470.98" width="30.88" height="19.18" fill="#e98b6e"/>
<rect x="41.70" y="1489.76" width="30.88" height="19.18" fill="#6aacd0"/>
<rect x="72.18" y="1489.76" width="30.88" height="19.18" fill="#e7e1de"/>
<rect x="102.66" y="1489.76" width="30.88" height="19.18" fill="#2a71b2"/>
<rect x="133.14" y="1489.76" width="30.88" height="19.18" fill="#c1ddec"/>
<rect x="163.62" y="1489.76" width="30.88" height="19.18" fill="#de715a"/>
<rect x="194.10" y="1489.76" width="30.88" height="19.18" fill="#c1ddec"/>
<rect x="224.58" y="1489.76" width="30.88" height="19.18" fill="#ec9475"/>
<rect x="255.06" y="1489.76" width="30.88" height="19.18" fill="#e98b6e"/>
<rect x="285.54" y="1489.76" width="30.88" height="19.18" fill="#f8c0a4"/>
<rect x="41.70" y="1508.54" width="30.88" height="19.18" fill="#4d99c6"/>
<rect x="72.18" y="1508.54" width="30.88" height="19.18" fill="#c9e1ee"/>
<rect x="102.66" y="1508.54" width="30.88" height="19.18" fill="#2a71b2"/>
<rect x="133.14" y="1508.54" width="30.88" height="19.18" fill="#fddbc7"/>
<rect x="163.62" y="1508.54" width="30.88" height="19.18" fill="#fcd4be"/>
<rect x="194.10" y="1508.54" width="30.88" height="19.18" fill="#d6e4ec"/>
<rect x="224.58" y="1508.54" width="30.88" height="19.18" fill="#f7b99c"/>
<rect x="255.06" y="1508.54" width="30.88" height="19.18" fill="#e17a61"/>
<rect x="285.54" y="1508.54" width="30.88" height="19.18" fill="#e17a61"/>
<rect x="41.70" y="1527.32" width="30.88" height="19.18" fill="#6aacd0"/>
<rect x="72.18" y="1527.32" width="30.88" height="19.18" fill="#c9e1ee"/>
<rect x="102.66" y="1527.32" width="30.88" height="19.18" fill="#2a71b2"/>
<rect x="133.14" y="1527.32" width="30.88" height="19.18" fill="#d3e5ee"/>
<rect x="163.62" y="1527.32" width="30.88" height="19.18" fill="#f7ddce"/>
<rect x="194.10" y="1527.32" width="30.88" height="19.18" fill="#eddfd7"/>
<rect x="224.58" y="1527.32" width="30.88" height="19.18" fill="#f6b293"/>
<rect x="255.06" y="1527.32" width="30.88" height="19.18" fill="#ec9475"/>
<rect x="285.54" y="1527.32" width="30.88" height="19.18" fill="#c84540"/>
<rect x="41.70" y="1546.10" width="30.88" height="19.18" fill="#61a6cd"/>
<rect x="72.18" y="1546.10" width="30.88" height="19.18" fill="#b9d9e9"/>
<rect x="102.66" y="1546.10" width="30.88" height="19.18" fill="#327db8"/>
<rect x="133.14" y="1546.10" width="30.88" height="19.18" fill="#d3e5ee"/>
<rect x="163.62" y="1546.10" width="30.88" height="19.18" fill="#fddbc7"/>
<rect x="194.10" y="1546.10" width="30.88" height="19.18" fill="#eddfd7"/>
<rect x="224.58" y="1546.10" width="30.88" height="19.18" fill="#de715a"/>
<rect x="255.06" y="1546.10" width="30.88" height="19.18" fill="#f4a582"/>
<rect x="285.54" y="1546.10" width="30.88" height="19.18" fill="#de715a"/>
<rect x="41.70" y="1564.88" width="30.88" height="19.18" fill="#88bfdb"/>
<rect x="72.18" y="1564.88" width="30.88" height="19.18" fill="#3a88bd"/>
<rect x="102.66" y="1564.88" width="30.88" height="19.18" fill="#4393c3"/>
<rect x="133.14" y="1564.88" width="30.88" height="19.18" fill="#fcd4be"/>
<rect x="163.62" y="1564.88" width="30.88" height="19.18" fill="#eae0da"/>
<rect x="194.10" y="1564.88" width="30.88" height="19.18" fill="#ec9475"/>
<rect x="224.58" y="1564.88" width="30.88" height="19.18" fill="#fadcca"/>
<rect x="255.06" y="1564.88" width="30.88" height="19.18" fill="#e58268"/>
<rect x="285.54" y="1564.88" width="30.88" height="19.18" fill="#e17a61"/>
<rect x="41.70" y="1583.66" width="30.88" height="19.18" fill="#4393c3"/>
<rect x="72.18" y="1583.66" width="30.88" height="19.18" fill="#6aacd0"/>
<rect x="102.66" y="1583.66" width="30.88" height="19.18" fill="#3a88bd"/>
<rect x="133.14" y="1583.66" width="30.88" height="19.18" fill="#f7ddce"/>
<rect x="163.62" y="1583.66" width="30.88" height="19.18" fill="#f7ddce"/>
<rect x="194.10" y="1583.66" width="30.88" height="19.18" fill="#f6b293"/>
<rect x="224.58" y="1583.66" width="30.88" height="19.18" fill="#f7b99c"/>
<rect x="255.06" y="1583.66" width="30.88" height="19.18" fill="#e17a61"/>
<rect x="285.54" y="1583.66" width="30.88" height="19.18" fill="#ec9475"/>
<rect x="41.70" y="1602.44" width="30.88" height="19.18" fill="#57a0ca"/>
<rect x="72.18" y="1602.44" width="30.88" height="19.18" fill="#aad1e5"/>
<rect x="102.66" y="1602.44" width="30.88" height="19.18" fill="#2e77b5"/>
<rect x="133.14" y="1602.44" width="30.88" height="19.18" fill="#f4ded1"/>
<rect x="163.62" y="1602.44" width="30.88" height="19.18" fill="#fcd4be"/>
<rect x="194.10" y="1602.44" width="30.88" height="19.18" fill="#fcd4be"/>
<rect x="224.58" y="1602.44" width="30.88" height="19.18" fill="#fcd4be"/>
<rect x="255.06" y="1602.44" width="30.88" height="19.18" fill="#f4a582"/>
<rect x="285.54" y="1602.44" width="30.88" height="19.18" fill="#d25749"/>
<rect x="41.70" y="1621.22" width="30.88" height="19.18" fill="#61a6cd"/>
<rect x="72.18" y="1621.22" width="30.88" height="19.18" fill="#3a88bd"/>
<rect x="102.66" y="1621.22" width="30.88" height="19.18" fill="#92c5de"/>
<rect x="133.14" y="1621.22" width="30.88" height="19.18" fill="#ec9475"/>
<rect x="163.62" y="1621.22" width="30.88" height="19.18" fill="#fbceb6"/>
<rect x="194.10" y="1621.22" width="30.88" height="19.18" fill="#c9e1ee"/>
<rect x="224.58" y="1621.22" width="30.88" height="19.18" fill="#f5ac8b"/>
<rect x="255.06" y="1621.22" width="30.88" height="19.18" fill="#f4a582"/>
<rect x="285.54" y="1621.22" width="30.88" height="19.18" fill="#ec9475"/>
<rect x="41.70" y="1640.00" width="30.88" height="19.18" fill="#57a0ca"/>
<rect x="72.18" y="1640.00" width="30.88" height="19.18" fill="#4393c3"/>
<rect x="102.66" y="1640.00" width="30.88" height="19.18" fill="#3a88bd"/>
<rect x="133.14" y="1640.00" width="30.88" height="19.18" fill="#f6b293"/>
<rect x="163.62" y="1640.00" width="30.88" height="19.18" fill="#f4a582"/>
<rect x="194.10" y="1640.00" width="30.88" height="19.18" fill="#fcd4be"/>
<rect x="224.58" y="1640.00" width="30.88" height="19.18" fill="#f7b99c"/>
<rect x="255.06" y="1640.00" width="30.88" height="19.18" fill="#f6b293"/>
<rect x="285.54" y="1640.00" width="30.88" height="19.18" fill="#f4a582"/>
<rect x="41.70" y="1658.78" width="30.88" height="19.18" fill="#4d99c6"/>
<rect x="72.18" y="1658.78" width="30.88" height="19.18" fill="#4d99c6"/>
<rect x="102.66" y="1658.78" width="30.88" height="19.18" fill="#3a88bd"/>
<rect x="133.14" y="1658.78" width="30.88" height="19.18" fill="#f4a582"/>
<rect x="163.62" y="1658.78" width="30.88" height="19.18" fill="#e98b6e"/>
<rect x="194.10" y="1658.78" width="30.88" height="19.18" fill="#eae0da"/>
<rect x="224.58" y="1658.78" width="30.88" height="19.18" fill="#f8c0a4"/>
<rect x="255.06" y="1658.78" width="30.88" height="19.18" fill="#f6b293"/>
<rect x="285.54" y="1658.78" width="30.88" height="19.18" fill="#f09c7b"/>
<rect x="41.70" y="1677.56" width="30.88" height="19.18" fill="#fadcca"/>
<rect x="72.18" y="1677.56" width="30.88" height="19.18" fill="#e58268"/>
<rect x="102.66" y="1677.56" width="30.88" height="19.18" fill="#eddfd7"/>
<rect x="133.14" y="1677.56" width="30.88" height="19.18" fill="#2166ac"/>
<rect x="163.62" y="1677.56" width="30.88" height="19.18" fill="#d1e5f0"/>
<rect x="194.10" y="1677.56" width="30.88" height="19.18" fill="#7eb8d7"/>
<rect x="224.58" y="1677.56" width="30.88" height="19.18" fill="#d6604d"/>
<rect x="255.06" y="1677.56" width="30.88" height="19.18" fill="#eae0da"/>
<rect x="285.54" y="1677.56" width="30.88" height="19.18" fill="#f7b99c"/>
<rect x="41.70" y="1696.34" width="30.88" height="19.18" fill="#a2cde2"/>
<rect x="72.18" y="1696.34" width="30.88" height="19.18" fill="#d25749"/>
<rect x="102.66" y="1696.34" width="30.88" height="19.18" fill="#d3e5ee"/>
<rect x="133.14" y="1696.34" width="30.88" height="19.18" fill="#3f8dc0"/>
<rect x="163.62" y="1696.34" width="30.88" height="19.18" fill="#b9d9e9"/>
<rect x="194.10" y="1696.34" width="30.88" height="19.18" fill="#a2cde2"/>
<rect x="224.58" y="1696.34" width="30.88" height="19.18" fill="#d6604d"/>
<rect x="255.06" y="1696.34" width="30.88" height="19.18" fill="#f7ddce"/>
<rect x="285.54" y="1696.34" width="30.88" height="19.18" fill="#f6b293"/>
<rect x="41.70" y="1715.12" width="30.88" height="19.18" fill="#b2d5e7"/>
<rect x="72.18" y="1715.12" width="30.88" height="19.18" fill="#f09c7b"/>
<rect x="102.66" y="1715.12" width="30.88" height="19.18" fill="#a2cde2"/>
<rect x="133.14" y="1715.12" width="30.88" height="19.18" fill="#256caf"/>
<rect x="163.62" y="1715.12" width="30.88" height="19.18" fill="#f7ddce"/>
<rect x="194.10" y="1715.12" width="30.88" height="19.18" fill="#c1ddec"/>
<rect x="224.58" y="1715.12" width="30.88" height="19.18" fill="#fac7ad"/>
<rect x="255.06" y="1715.12" width="30.88" height="19.18" fill="#fac7ad"/>
<rect x="285.54" y="1715.12" width="30.88" height="19.18" fill="#d6604d"/>
<rect x="41.70" y="1733.90" width="30.88" height="19.18" fill="#aad1e5"/>
<rect x="72.18" y="1733.90" width="30.88" height="19.18" fill="#f09c7b"/>
<rect x="102.66" y="1733.90" width="30.88" height="19.18" fill="#2e77b5"/>
<rect x="133.14" y="1733.90" width="30.88" height="19.18" fill="#7eb8d7"/>
<rect x="163.62" y="1733.90" width="30.88" height="19.18" fill="#f7ddce"/>
<rect x="194.10" y="1733.90" width="30.88" height="19.18" fill="#d3e5ee"/>
<rect x="224.58" y="1733.90" width="30.88" height="19.18" fill="#e17a61"/>
<rect x="255.06" y="1733.90" width="30.88" height="19.18" fill="#f4ded1"/>
<rect x="285.54" y="1733.90" width="30.88" height="19.18" fill="#da6954"/>
<rect x="41.70" y="1752.68" width="30.88" height="19.18" fill="#d6e4ec"/>
<rect x="72.18" y="1752.68" width="30.88" height="19.18" fill="#f09c7b"/>
<rect x="102.66" y="1752.68" width="30.88" height="19.18" fill="#2e77b5"/>
<rect x="133.14" y="1752.68" width="30.88" height="19.18" fill="#c9e1ee"/>
<rect x="163.62" y="1752.68" width="30.88" height="19.18" fill="#dfe3e5"/>
<rect x="194.10" y="1752.68" width="30.88" height="19.18" fill="#9ac9e0"/>
<rect x="224.58" y="1752.68" width="30.88" height="19.18" fill="#e4e2e1"/>
<rect x="255.06" y="1752.68" width="30.88" height="19.18" fill="#f09c7b"/>
<rect x="285.54" y="1752.68" width="30.88" height="19.18" fill="#c03338"/>
<rect x="41.70" y="1771.46" width="30.88" height="19.18" fill="#61a6cd"/>
<rect x="72.18" y="1771.46" width="30.88" height="19.18" fill="#e58268"/>
<rect x="102.66" y="1771.46" width="30.88" height="19.18" fill="#9ac9e0"/>
<rect x="133.14" y="1771.46" width="30.88" height="19.18" fill="#92c5de"/>
<rect x="163.62" y="1771.46" width="30.88" height="19.18" fill="#e7e1de"/>
<rect x="194.10" y="1771.46" width="30.88" height="19.18" fill="#92c5de"/>
<rect x="224.58" y="1771.46" width="30.88" height="19.18" fill="#dae4e8"/>
<rect x="255.06" y="1771.46" width="30.88" height="19.18" fill="#c84540"/>
<rect x="285.54" y="1771.46" width="30.88" height="19.18" fill="#e58268"/>
<rect x="41.70" y="1790.24" width="30.88" height="19.18" fill="#fddbc7"/>
<rect x="72.18" y="1790.24" width="30.88" height="19.18" fill="#b2d5e7"/>
<rect x="102.66" y="1790.24" width="30.88" height="19.18" fill="#9ac9e0"/>
<rect x="133.14" y="1790.24" width="30.88" height="19.18" fill="#b2d5e7"/>
<rect x="163.62" y="1790.24" width="30.88" height="19.18" fill="#d3e5ee"/>
<rect x="194.10" y="1790.24" width="30.88" height="19.18" fill="#fddbc7"/>
<rect x="224.58" y="1790.24" width="30.88" height="19.18" fill="#c43c3c"/>
<rect x="255.06" y="1790.24" width="30.88" height="19.18" fill="#4393c3"/>
<rect x="285.54" y="1790.24" width="30.88" height="19.18" fill="#d6604d"/>
<rect x="41.70" y="1809.02" width="30.88" height="19.18" fill="#fddbc7"/>
<rect x="72.18" y="1809.02" width="30.88" height="19.18" fill="#eddfd7"/>
<rect x="102.66" y="1809.02" width="30.88" height="19.18" fill="#a2cde2"/>
<rect x="133.14" y="1809.02" width="30.88" height="19.18" fill="#3a88bd"/>
<rect x="163.62" y="1809.02" width="30.88" height="19.18" fill="#b2d5e7"/>
<rect x="194.10" y="1809.02" width="30.88" height="19.18" fill="#b9d9e9"/>
<rect x="224.58" y="1809.02" width="30.88" height="19.18" fill="#b6212f"/>
<rect x="255.06" y="1809.02" width="30.88" height="19.18" fill="#e4e2e1"/>
<rect x="285.54" y="1809.02" width="30.88" height="19.18" fill="#e17a61"/>
<rect x="41.70" y="1827.80" width="30.88" height="19.18" fill="#e4e2e1"/>
<rect x="72.18" y="1827.80" width="30.88" height="19.18" fill="#9ac9e0"/>
<rect x="102.66" y="1827.80" width="30.88" height="19.18" fill="#88bfdb"/>
<rect x="133.14" y="1827.80" width="30.88" height="19.18" fill="#3682ba"/>
<rect x="163.62" y="1827.80" width="30.88" height="19.18" fill="#f7ddce"/>
<rect x="194.10" y="1827.80" width="30.88" height="19.18" fill="#fac7ad"/>
<rect x="224.58" y="1827.80" width="30.88" height="19.18" fill="#d6604d"/>
<rect x="255.06" y="1827.80" width="30.88" height="19.18" fill="#e4e2e1"/>
<rect x="285.54" y="1827.80" width="30.88" height="19.18" fill="#de715a"/>
<rect x="41.70" y="1846.58" width="30.88" height="19.18" fill="#61a6cd"/>
<rect x="72.18" y="1846.58" width="30.88" height="19.18" fill="#fcd4be"/>
<rect x="102.66" y="1846.58" width="30.88" height="19.18" fill="#57a0ca"/>
<rect x="133.14" y="1846.58" width="30.88" height="19.18" fill="#b9d9e9"/>
<rect x="163.62" y="1846.58" width="30.88" height="19.18" fill="#aad1e5"/>
<rect x="194.10" y="1846.58" width="30.88" height="19.18" fill="#d8e4ea"/>
<rect x="224.58" y="1846.58" width="30.88" height="19.18" fill="#da6954"/>
<rect x="255.06" y="1846.58" width="30.88" height="19.18" fill="#da6954"/>
<rect x="285.54" y="1846.58" width="30.88" height="19.18" fill="#f5ac8b"/>
<rect x="41.70" y="1865.36" width="30.88" height="19.18" fill="#256caf"/>
<rect x="72.18" y="1865.36" width="30.88" height="19.18" fill="#fddbc7"/>
<rect x="102.66" y="1865.36" width="30.88" height="19.18" fill="#b9d9e9"/>
<rect x="133.14" y="1865.36" width="30.88" height="19.18" fill="#a2cde2"/>
<rect x="163.62" y="1865.36" width="30.88" height="19.18" fill="#aad1e5"/>
<rect x="194.10" y="1865.36" width="30.88" height="19.18" fill="#e4e2e1"/>
<rect x="224.58" y="1865.36" width="30.88" height="19.18" fill="#f8c0a4"/>
<rect x="255.06" y="1865.36" width="30.88" height="19.18" fill="#da6954"/>
<rect x="285.54" y="1865.36" width="30.88" height="19.18" fill="#d25749"/>
<rect x="41.70" y="1884.14" width="30.88" height="19.18" fill="#aad1e5"/>
<rect x="72.18" y="1884.14" width="30.88" height="19.18" fill="#b9d9e9"/>
<rect x="102.66" y="1884.14" width="30.88" height="19.18" fill="#d1e5f0"/>
<rect x="133.14" y="1884.14" width="30.88" height="19.18" fill="#6aacd0"/>
<rect x="163.62" y="1884.14" width="30.88" height="19.18" fill="#6aacd0"/>
<rect x="194.10" y="1884.14" width="30.88" height="19.18" fill="#fadcca"/>
<rect x="224.58" y="1884.14" width="30.88" height="19.18" fill="#e58268"/>
<rect x="255.06" y="1884.14" width="30.88" height="19.18" fill="#b6212f"/>
<rect x="285.54" y="1884.14" width="30.88" height="19.18" fill="#f8c0a4"/>
<rect x="41.70" y="1902.92" width="30.88" height="19.18" fill="#b2d5e7"/>
<rect x="72.18" y="1902.92" width="30.88" height="19.18" fill="#88bfdb"/>
<rect x="102.66" y="1902.92" width="30.88" height="19.18" fill="#88bfdb"/>
<rect x="133.14" y="1902.92" width="30.88" height="19.18" fill="#9ac9e0"/>
<rect x="163.62" y="1902.92" width="30.88" height="19.18" fill="#c1ddec"/>
<rect x="194.10" y="1902.92" width="30.88" height="19.18" fill="#fadcca"/>
<rect x="224.58" y="1902.92" width="30.88" height="19.18" fill="#a9152a"/>
<rect x="255.06" y="1902.92" width="30.88" height="19.18" fill="#e17a61"/>
<rect x="285.54" y="1902.92" width="30.88" height="19.18" fill="#fac7ad"/>
<rect x="41.70" y="1921.70" width="30.88" height="19.18" fill="#d3e5ee"/>
<rect x="72.18" y="1921.70" width="30.88" height="19.18" fill="#b9d9e9"/>
<rect x="102.66" y="1921.70" width="30.88" height="19.18" fill="#3a88bd"/>
<rect x="133.14" y="1921.70" width="30.88" height="19.18" fill="#88bfdb"/>
<rect x="163.62" y="1921.70" width="30.88" height="19.18" fill="#d6e4ec"/>
<rect x="194.10" y="1921.70" width="30.88" height="19.18" fill="#dae4e8"/>
<rect x="224.58" y="1921.70" width="30.88" height="19.18" fill="#d6604d"/>
<rect x="255.06" y="1921.70" width="30.88" height="19.18" fill="#ec9475"/>
<rect x="285.54" y="1921.70" width="30.88" height="19.18" fill="#de715a"/>
<rect x="41.70" y="1940.48" width="30.88" height="19.18" fill="#eddfd7"/>
<rect x="72.18" y="1940.48" width="30.88" height="19.18" fill="#3f8dc0"/>
<rect x="102.66" y="1940.48" width="30.88" height="19.18" fill="#61a6cd"/>
<rect x="133.14" y="1940.48" width="30.88" height="19.18" fill="#cd4e44"/>
<rect x="163.62" y="1940.48" width="30.88" height="19.18" fill="#f7ddce"/>
<rect x="194.10" y="1940.48" width="30.88" height="19.18" fill="#9ac9e0"/>
<rect x="224.58" y="1940.48" width="30.88" height="19.18" fill="#e4e2e1"/>
<rect x="255.06" y="1940.48" width="30.88" height="19.18" fill="#fbceb6"/>
<rect x="285.54" y="1940.48" width="30.88" height="19.18" fill="#de715a"/>
<rect x="41.70" y="1959.26" width="30.88" height="19.18" fill="#e4e2e1"/>
<rect x="72.18" y="1959.26" width="30.88" height="19.18" fill="#9ac9e0"/>
<rect x="102.66" y="1959.26" width="30.88" height="19.18" fill="#4d99c6"/>
<rect x="133.14" y="1959.26" width="30.88" height="19.18" fill="#e17a61"/>
<rect x="163.62" y="1959.26" width="30.88" height="19.18" fill="#d6e4ec"/>
<rect x="194.10" y="1959.26" width="30.88" height="19.18" fill="#61a6cd"/>
<rect x="224.58" y="1959.26" width="30.88" height="19.18" fill="#e2e2e3"/>
<rect x="255.06" y="1959.26" width="30.88" height="19.18" fill="#f09c7b"/>
<rect x="285.54" y="1959.26" width="30.88" height="19.18" fill="#c84540"/>
<rect x="41.70" y="1978.04" width="30.88" height="19.18" fill="#d1e5f0"/>
<rect x="72.18" y="1978.04" width="30.88" height="19.18" fill="#4393c3"/>
<rect x="102.66" y="1978.04" width="30.88" height="19.18" fill="#a2cde2"/>
<rect x="133.14" y="1978.04" width="30.88" height="19.18" fill="#fac7ad"/>
<rect x="163.62" y="1978.04" width="30.88" height="19.18" fill="#fadcca"/>
<rect x="194.10" y="1978.04" width="30.88" height="19.18" fill="#74b2d4"/>
<rect x="224.58" y="1978.04" width="30.88" height="19.18" fill="#e4e2e1"/>
<rect x="255.06" y="1978.04" width="30.88" height="19.18" fill="#ec9475"/>
<rect x="285.54" y="1978.04" width="30.88" height="19.18" fill="#b2182b"/>
<rect x="41.70" y="1996.82" width="30.88" height="19.18" fill="#fddbc7"/>
<rect x="72.18" y="1996.82" width="30.88" height="19.18" fill="#327db8"/>
<rect x="102.66" y="1996.82" width="30.88" height="19.18" fill="#74b2d4"/>
<rect x="133.14" y="1996.82" width="30.88" height="19.18" fill="#dde3e7"/>
<rect x="163.62" y="1996.82" width="30.88" height="19.18" fill="#fbceb6"/>
<rect x="194.10" y="1996.82" width="30.88" height="19.18" fill="#f0ded4"/>
<rect x="224.58" y="1996.82" width="30.88" height="19.18" fill="#aad1e5"/>
<rect x="255.06" y="1996.82" width="30.88" height="19.18" fill="#e17a61"/>
<rect x="285.54" y="1996.82" width="30.88" height="19.18" fill="#cd4e44"/>
<rect x="41.70" y="2015.60" width="30.88" height="19.18" fill="#e7e1de"/>
<rect x="72.18" y="2015.60" width="30.88" height="19.18" fill="#b2d5e7"/>
<rect x="102.66" y="2015.60" width="30.88" height="19.18" fill="#4d99c6"/>
<rect x="133.14" y="2015.60" width="30.88" height="19.18" fill="#f5ac8b"/>
<rect x="163.62" y="2015.60" width="30.88" height="19.18" fill="#fcd4be"/>
<rect x="194.10" y="2015.60" width="30.88" height="19.18" fill="#b2d5e7"/>
<rect x="224.58" y="2015.60" width="30.88" height="19.18" fill="#57a0ca"/>
<rect x="255.06" y="2015.60" width="30.88" height="19.18" fill="#d6604d"/>
<rect x="285.54" y="2015.60" width="30.88" height="19.18" fill="#d6604d"/>
<rect x="41.70" y="2034.38" width="30.88" height="19.18" fill="#eae0da"/>
<rect x="72.18" y="2034.38" width="30.88" height="19.18" fill="#f0ded4"/>
<rect x="102.66" y="2034.38" width="30.88" height="19.18" fill="#327db8"/>
<rect x="133.14" y="2034.38" width="30.88" height="19.18" fill="#88bfdb"/>
<rect x="163.62" y="2034.38" width="30.88" height="19.18" fill="#f4a582"/>
<rect x="194.10" y="2034.38" width="30.88" height="19.18" fill="#e2e2e3"/>
<rect x="224.58" y="2034.38" width="30.88" height="19.18" fill="#88bfdb"/>
<rect x="255.06" y="2034.38" width="30.88" height="19.18" fill="#d6604d"/>
<rect x="285.54" y="2034.38" width="30.88" height="19.18" fill="#de715a"/>
<rect x="41.70" y="2053.16" width="30.88" height="19.18" fill="#d8e4ea"/>
<rect x="72.18" y="2053.16" width="30.88" height="19.18" fill="#d6e4ec"/>
<rect x="102.66" y="2053.16" width="30.88" height="19.18" fill="#256caf"/>
<rect x="133.14" y="2053.16" width="30.88" height="19.18" fill="#c9e1ee"/>
<rect x="163.62" y="2053.16" width="30.88" height="19.18" fill="#c9e1ee"/>
<rect x="194.10" y="2053.16" width="30.88" height="19.18" fill="#f5ac8b"/>
<rect x="224.58" y="2053.16" width="30.88" height="19.18" fill="#d6e4ec"/>
<rect x="255.06" y="2053.16" width="30.88" height="19.18" fill="#ec9475"/>
<rect x="285.54" y="2053.16" width="30.88" height="19.18" fill="#c03338"/>
<rect x="41.70" y="2071.94" width="30.88" height="19.18" fill="#dde3e7"/>
<rect x="72.18" y="2071.94" width="30.88" height="19.18" fill="#327db8"/>
<rect x="102.66" y="2071.94" width="30.88" height="19.18" fill="#3682ba"/>
<rect x="133.14" y="2071.94" width="30.88" height="19.18" fill="#dae4e8"/>
<rect x="163.62" y="2071.94" width="30.88" height="19.18" fill="#f0ded4"/>
<rect x="194.10" y="2071.94" width="30.88" height="19.18" fill="#f5ac8b"/>
<rect x="224.58" y="2071.94" width="30.88" height="19.18" fill="#d25749"/>
<rect x="255.06" y="2071.94" width="30.88" height="19.18" fill="#f5ac8b"/>
<rect x="285.54" y="2071.94" width="30.88" height="19.18" fill="#fac7ad"/>
<rect x="41.70" y="2090.72" width="30.88" height="19.18" fill="#e4e2e1"/>
<rect x="72.18" y="2090.72" width="30.88" height="19.18" fill="#3682ba"/>
<rect x="102.66" y="2090.72" width="30.88" height="19.18" fill="#3682ba"/>
<rect x="133.14" y="2090.72" width="30.88" height="19.18" fill="#dae4e8"/>
<rect x="163.62" y="2090.72" width="30.88" height="19.18" fill="#dde3e7"/>
<rect x="194.10" y="2090.72" width="30.88" height="19.18" fill="#fddbc7"/>
<rect x="224.58" y="2090.72" width="30.88" height="19.18" fill="#d25749"/>
<rect x="255.06" y="2090.72" width="30.88" height="19.18" fill="#f4a582"/>
<rect x="285.54" y="2090.72" width="30.88" height="19.18" fill="#ec9475"/>
<rect x="41.70" y="2109.50" width="30.88" height="19.18" fill="#e7e1de"/>
<rect x="72.18" y="2109.50" width="30.88" height="19.18" fill="#327db8"/>
<rect x="102.66" y="2109.50" width="30.88" height="19.18" fill="#aad1e5"/>
<rect x="133.14" y="2109.50" width="30.88" height="19.18" fill="#d3e5ee"/>
<rect x="163.62" y="2109.50" width="30.88" height="19.18" fill="#dae4e8"/>
<rect x="194.10" y="2109.50" width="30.88" height="19.18" fill="#d1e5f0"/>
<rect x="224.58" y="2109.50" width="30.88" height="19.18" fill="#a9152a"/>
<rect x="255.06" y="2109.50" width="30.88" height="19.18" fill="#fbceb6"/>
<rect x="285.54" y="2109.50" width="30.88" height="19.18" fill="#f09c7b"/>
<rect x="41.70" y="2128.28" width="30.88" height="19.18" fill="#e7e1de"/>
<rect x="72.18" y="2128.28" width="30.88" height="19.18" fill="#61a6cd"/>
<rect x="102.66" y="2128.28" width="30.88" height="19.18" fill="#3f8dc0"/>
<rect x="133.14" y="2128.28" width="30.88" height="19.18" fill="#fadcca"/>
<rect x="163.62" y="2128.28" width="30.88" height="19.18" fill="#b2d5e7"/>
<rect x="194.10" y="2128.28" width="30.88" height="19.18" fill="#dae4e8"/>
<rect x="224.58" y="2128.28" width="30.88" height="19.18" fill="#cd4e44"/>
<rect x="255.06" y="2128.28" width="30.88" height="19.18" fill="#f8c0a4"/>
<rect x="285.54" y="2128.28" width="30.88" height="19.18" fill="#da6954"/>
<rect x="41.70" y="2147.06" width="30.88" height="19.18" fill="#fbceb6"/>
<rect x="72.18" y="2147.06" width="30.88" height="19.18" fill="#327db8"/>
<rect x="102.66" y="2147.06" width="30.88" height="19.18" fill="#b9d9e9"/>
<rect x="133.14" y="2147.06" width="30.88" height="19.18" fill="#fac7ad"/>
<rect x="163.62" y="2147.06" width="30.88" height="19.18" fill="#b2d5e7"/>
<rect x="194.10" y="2147.06" width="30.88" height="19.18" fill="#74b2d4"/>
<rect x="224.58" y="2147.06" width="30.88" height="19.18" fill="#f5ac8b"/>
<rect x="255.06" y="2147.06" width="30.88" height="19.18" fill="#e98b6e"/>
<rect x="285.54" y="2147.06" width="30.88" height="19.18" fill="#de715a"/>
<rect x="41.70" y="2165.84" width="30.88" height="19.18" fill="#c84540"/>
<rect x="72.18" y="2165.84" width="30.88" height="19.18" fill="#327db8"/>
<rect x="102.66" y="2165.84" width="30.88" height="19.18" fill="#d3e5ee"/>
<rect x="133.14" y="2165.84" width="30.88" height="19.18" fill="#dae4e8"/>
<rect x="163.62" y="2165.84" width="30.88" height="19.18" fill="#dae4e8"/>
<rect x="194.10" y="2165.84" width="30.88" height="19.18" fill="#61a6cd"/>
<rect x="224.58" y="2165.84" width="30.88" height="19.18" fill="#f4a582"/>
<rect x="255.06" y="2165.84" width="30.88" height="19.18" fill="#f09c7b"/>
<rect x="285.54" y="2165.84" width="30.88" height="19.18" fill="#fcd4be"/>
<rect x="41.70" y="2184.62" width="30.88" height="19.18" fill="#fac7ad"/>
<rect x="72.18" y="2184.62" width="30.88" height="19.18" fill="#c9e1ee"/>
<rect x="102.66" y="2184.62" width="30.88" height="19.18" fill="#9ac9e0"/>
<rect x="133.14" y="2184.62" width="30.88" height="19.18" fill="#88bfdb"/>
<rect x="163.62" y="2184.62" width="30.88" height="19.18" fill="#c1ddec"/>
<rect x="194.10" y="2184.62" width="30.88" height="19.18" fill="#88bfdb"/>
<rect x="224.58" y="2184.62" width="30.88" height="19.18" fill="#fadcca"/>
<rect x="255.06" y="2184.62" width="30.88" height="19.18" fill="#830924"/>
<rect x="285.54" y="2184.62" width="30.88" height="19.18" fill="#fddbc7"/>
<rect x="41.70" y="2203.40" width="30.88" height="19.18" fill="#f7ddce"/>
<rect x="72.18" y="2203.40" width="30.88" height="19.18" fill="#aad1e5"/>
<rect x="102.66" y="2203.40" width="30.88" height="19.18" fill="#6aacd0"/>
<rect x="133.14" y="2203.40" width="30.88" height="19.18" fill="#dde3e7"/>
<rect x="163.62" y="2203.40" width="30.88" height="19.18" fill="#61a6cd"/>
<rect x="194.10" y="2203.40" width="30.88" height="19.18" fill="#b2d5e7"/>
<rect x="224.58" y="2203.40" width="30.88" height="19.18" fill="#c43c3c"/>
<rect x="255.06" y="2203.40" width="30.88" height="19.18" fill="#e17a61"/>
<rect x="285.54" y="2203.40" width="30.88" height="19.18" fill="#f7b99c"/>
<rect x="41.70" y="2222.18" width="30.88" height="19.18" fill="#eae0da"/>
<rect x="72.18" y="2222.18" width="30.88" height="19.18" fill="#dde3e7"/>
<rect x="102.66" y="2222.18" width="30.88" height="19.18" fill="#327db8"/>
<rect x="133.14" y="2222.18" width="30.88" height="19.18" fill="#dae4e8"/>
<rect x="163.62" y="2222.18" width="30.88" height="19.18" fill="#dfe3e5"/>
<rect x="194.10" y="2222.18" width="30.88" height="19.18" fill="#61a6cd"/>
<rect x="224.58" y="2222.18" width="30.88" height="19.18" fill="#da6954"/>
<rect x="255.06" y="2222.18" width="30.88" height="19.18" fill="#ec9475"/>
<rect x="285.54" y="2222.18" width="30.88" height="19.18" fill="#e98b6e"/>
<text transform="translate(325,434.99) scale(1,1.06)" font-size="21.3">SuccinylCoA</text>
<text transform="translate(325,453.77) scale(1,1.06)" font-size="21.3">X/Ru/R-5P</text>
<text transform="translate(325,472.55) scale(1,1.06)" font-size="21.3">Oxaloacetate</text>
<text transform="translate(325,491.33) scale(1,1.06)" font-size="21.3">Cisteine</text>
<text transform="translate(325,510.11) scale(1,1.06)" font-size="21.3">C10−Carnitine</text>
<text transform="translate(325,528.89) scale(1,1.06)" font-size="21.3">Orn</text>
<text transform="translate(325,547.67) scale(1,1.06)" font-size="21.3">DOPA</text>
<text transform="translate(325,566.45) scale(1,1.06)" font-size="21.3">Noraepinephrine</text>
<text transform="translate(325,585.23) scale(1,1.06)" font-size="21.3">Free Carnitine</text>
<text transform="translate(325,604.01) scale(1,1.06)" font-size="21.3">Carnosine</text>
<text transform="translate(325,622.79) scale(1,1.06)" font-size="21.3">dGTP</text>
<text transform="translate(325,641.57) scale(1,1.06)" font-size="21.3">UDP</text>
<text transform="translate(325,660.35) scale(1,1.06)" font-size="21.3">3',5'−Cyclic GMP</text>
<text transform="translate(325,679.13) scale(1,1.06)" font-size="21.3">cAMP</text>
<text transform="translate(325,697.91) scale(1,1.06)" font-size="21.3">dTTP</text>
<text transform="translate(325,716.69) scale(1,1.06)" font-size="21.3">ATP</text>
<text transform="translate(325,735.47) scale(1,1.06)" font-size="21.3">FAD</text>
<text transform="translate(325,754.25) scale(1,1.06)" font-size="21.3">dUMP</text>
<text transform="translate(325,773.03) scale(1,1.06)" font-size="21.3">Malate</text>
<text transform="translate(325,791.81) scale(1,1.06)" font-size="21.3">CMP</text>
<text transform="translate(325,810.59) scale(1,1.06)" font-size="21.3">dADP</text>
<text transform="translate(325,829.37) scale(1,1.06)" font-size="21.3">NADH</text>
<text transform="translate(325,848.15) scale(1,1.06)" font-size="21.3">Glucose</text>
<text transform="translate(325,866.93) scale(1,1.06)" font-size="21.3">dCDP</text>
<text transform="translate(325,885.71) scale(1,1.06)" font-size="21.3">C2−Carnitine</text>
<text transform="translate(325,904.49) scale(1,1.06)" font-size="21.3">C3−Carnitine</text>
<text transform="translate(325,923.27) scale(1,1.06)" font-size="21.3" font-weight="bold" fill="#ff0000">Arg</text>
<text transform="translate(325,942.05) scale(1,1.06)" font-size="21.3" font-weight="bold" fill="#ff0000">AcetylOrn</text>
<text transform="translate(325,960.83) scale(1,1.06)" font-size="21.3" font-weight="bold" fill="#ff0000">UTP</text>
<text transform="translate(325,979.61) scale(1,1.06)" font-size="21.3" font-weight="bold" fill="#ff0000">Citrate</text>
<text transform="translate(325,998.39) scale(1,1.06)" font-size="21.3" font-weight="bold" fill="#ff0000">Isocitrate</text>
<text transform="translate(325,1017.17) scale(1,1.06)" font-size="21.3">dITP</text>
<text transform="translate(325,1035.95) scale(1,1.06)" font-size="21.3">Fumarate</text>
<text transform="translate(325,1054.73) scale(1,1.06)" font-size="21.3" font-weight="bold" fill="#ff0000">Glucose-6P</text>
<text transform="translate(325,1073.51) scale(1,1.06)" font-size="21.3">dATP</text>
<text transform="translate(325,1092.29) scale(1,1.06)" font-size="21.3">NADPH</text>
<text transform="translate(325,1111.07) scale(1,1.06)" font-size="21.3" font-weight="bold" fill="#ff0000">Leu</text>
<text transform="translate(325,1129.85) scale(1,1.06)" font-size="21.3" font-weight="bold" fill="#ff0000">Ile</text>
<text transform="translate(325,1148.63) scale(1,1.06)" font-size="21.3">Spermidine</text>
<text transform="translate(325,1167.41) scale(1,1.06)" font-size="21.3" font-weight="bold" fill="#ff0000">FBP</text>
<text transform="translate(325,1186.19) scale(1,1.06)" font-size="21.3">MalonylCoA</text>
<text transform="translate(325,1204.97) scale(1,1.06)" font-size="21.3">αKG</text>
<text transform="translate(325,1223.75) scale(1,1.06)" font-size="21.3">dAMP</text>
<text transform="translate(325,1242.53) scale(1,1.06)" font-size="21.3">DMA</text>
<text transform="translate(325,1261.31) scale(1,1.06)" font-size="21.3">dTMP</text>
<text transform="translate(325,1280.09) scale(1,1.06)" font-size="21.3" font-weight="bold" fill="#ff0000">C12−Carnitine</text>
<text transform="translate(325,1298.87) scale(1,1.06)" font-size="21.3">C14−Carnitine</text>
<text transform="translate(325,1317.65) scale(1,1.06)" font-size="21.3">C16:1− Carnitine</text>
<text transform="translate(325,1336.43) scale(1,1.06)" font-size="21.3" font-weight="bold" fill="#ff0000">C16:0−Carnitine</text>
<text transform="translate(325,1355.21) scale(1,1.06)" font-size="21.3" font-weight="bold" fill="#ff0000">C18:1−Carnitine</text>
<text transform="translate(325,1373.99) scale(1,1.06)" font-size="21.3" font-weight="bold" fill="#ff0000">C4−Carnitine</text>
<text transform="translate(325,1392.77) scale(1,1.06)" font-size="21.3" font-weight="bold" fill="#ff0000">C18:0−Carnitine</text>
<text transform="translate(325,1411.55) scale(1,1.06)" font-size="21.3" font-weight="bold" fill="#ff0000">GMP</text>
<text transform="translate(325,1430.33) scale(1,1.06)" font-size="21.3" font-weight="bold" fill="#ff0000">IMP</text>
<text transform="translate(325,1449.11) scale(1,1.06)" font-size="21.3" font-weight="bold" fill="#ff0000">CTP</text>
<text transform="translate(325,1467.89) scale(1,1.06)" font-size="21.3" font-weight="bold" fill="#ff0000">C6−Carnitine</text>
<text transform="translate(325,1486.67) scale(1,1.06)" font-size="21.3">dIMP</text>
<text transform="translate(325,1505.45) scale(1,1.06)" font-size="21.3" font-weight="bold" fill="#ff0000">Thr</text>
<text transform="translate(325,1524.23) scale(1,1.06)" font-size="21.3" font-weight="bold" fill="#ff0000">Ser</text>
<text transform="translate(325,1543.01) scale(1,1.06)" font-size="21.3" font-weight="bold" fill="#ff0000">Gln</text>
<text transform="translate(325,1561.79) scale(1,1.06)" font-size="21.3" font-weight="bold" fill="#ff0000">Taurine</text>
<text transform="translate(325,1580.57) scale(1,1.06)" font-size="21.3" font-weight="bold" fill="#ff0000">Serotonin</text>
<text transform="translate(325,1599.35) scale(1,1.06)" font-size="21.3" font-weight="bold" fill="#ff0000">GTP</text>
<text transform="translate(325,1618.13) scale(1,1.06)" font-size="21.3" font-weight="bold" fill="#ff0000">Glu</text>
<text transform="translate(325,1636.91) scale(1,1.06)" font-size="21.3" font-weight="bold" fill="#ff0000">Succinate</text>
<text transform="translate(325,1655.69) scale(1,1.06)" font-size="21.3" font-weight="bold" fill="#ff0000">AMP</text>
<text transform="translate(325,1674.47) scale(1,1.06)" font-size="21.3" font-weight="bold" fill="#ff0000">UMP</text>
<text transform="translate(325,1693.25) scale(1,1.06)" font-size="21.3" font-weight="bold" fill="#ff0000">Asn</text>
<text transform="translate(325,1712.03) scale(1,1.06)" font-size="21.3">Met</text>
<text transform="translate(325,1730.81) scale(1,1.06)" font-size="21.3">Ala</text>
<text transform="translate(325,1749.59) scale(1,1.06)" font-size="21.3">Sarcosine</text>
<text transform="translate(325,1768.37) scale(1,1.06)" font-size="21.3">Pro</text>
<text transform="translate(325,1787.15) scale(1,1.06)" font-size="21.3">Asp</text>
<text transform="translate(325,1805.93) scale(1,1.06)" font-size="21.3">ITP</text>
<text transform="translate(325,1824.71) scale(1,1.06)" font-size="21.3" font-weight="bold" fill="#ff0000">Phe</text>
<text transform="translate(325,1843.49) scale(1,1.06)" font-size="21.3">Trp</text>
<text transform="translate(325,1862.27) scale(1,1.06)" font-size="21.3" font-weight="bold" fill="#ff0000">Gly</text>
<text transform="translate(325,1881.05) scale(1,1.06)" font-size="21.3" font-weight="bold" fill="#ff0000">Tyr</text>
<text transform="translate(325,1899.83) scale(1,1.06)" font-size="21.3" font-weight="bold" fill="#ff0000">Cit</text>
<text transform="translate(325,1918.61) scale(1,1.06)" font-size="21.3" font-weight="bold" fill="#ff0000">AcetylCoA</text>
<text transform="translate(325,1937.39) scale(1,1.06)" font-size="21.3" font-weight="bold" fill="#ff0000">His</text>
<text transform="translate(325,1956.17) scale(1,1.06)" font-size="21.3">GDP</text>
<text transform="translate(325,1974.95) scale(1,1.06)" font-size="21.3">ADP</text>
<text transform="translate(325,1993.73) scale(1,1.06)" font-size="21.3">NAD<tspan font-size="13" dy="-7">+</tspan></text>
<text transform="translate(325,2012.51) scale(1,1.06)" font-size="21.3">Pyruvate</text>
<text transform="translate(325,2031.29) scale(1,1.06)" font-size="21.3">NADP</text>
<text transform="translate(325,2050.07) scale(1,1.06)" font-size="21.3">Val</text>
<text transform="translate(325,2068.85) scale(1,1.06)" font-size="21.3">αAAA</text>
<text transform="translate(325,2087.63) scale(1,1.06)" font-size="21.3" font-weight="bold" fill="#ff0000">C5−Carnitine</text>
<text transform="translate(325,2106.41) scale(1,1.06)" font-size="21.3" font-weight="bold" fill="#ff0000">Creatine</text>
<text transform="translate(325,2125.19) scale(1,1.06)" font-size="21.3" font-weight="bold" fill="#ff0000">Lactate</text>
<text transform="translate(325,2143.97) scale(1,1.06)" font-size="21.3" font-weight="bold" fill="#ff0000">Creatinine</text>
<text transform="translate(325,2162.75) scale(1,1.06)" font-size="21.3">CoA</text>
<text transform="translate(325,2181.53) scale(1,1.06)" font-size="21.3">PEP</text>
<text transform="translate(325,2200.31) scale(1,1.06)" font-size="21.3">Lys</text>
<text transform="translate(325,2219.09) scale(1,1.06)" font-size="21.3" font-weight="bold" fill="#ff0000">DHAP/GAP</text>
<text transform="translate(325,2237.87) scale(1,1.06)" font-size="21.3" font-weight="bold" fill="#ff0000">OH−Pro</text>
<path d="M41.5,466.2L40.0,466.2M41.5,485.0L40.0,485.0M40.0,466.2L40.0,485.0M41.5,447.5L39.6,447.5M40.0,475.6L39.6,475.6M39.6,447.5L39.6,475.6M41.5,428.7L39.1,428.7M39.6,461.6L39.1,461.6M39.1,428.7L39.1,461.6M41.5,522.6L40.1,522.6M41.5,541.4L40.1,541.4M40.1,522.6L40.1,541.4M41.5,503.8L39.5,503.8M40.1,532.0L39.5,532.0M39.5,503.8L39.5,532.0M39.5,517.9L39.1,517.9M41.5,560.2L39.1,560.2M39.1,517.9L39.1,560.2M39.1,445.1L38.2,445.1M39.1,539.0L38.2,539.0M38.2,445.1L38.2,539.0M41.5,578.9L40.0,578.9M41.5,597.7L40.0,597.7M40.0,578.9L40.0,597.7M41.5,635.3L40.7,635.3M41.5,654.0L40.7,654.0M40.7,635.3L40.7,654.0M40.7,644.7L39.9,644.7M41.5,672.8L39.9,672.8M39.9,644.7L39.9,672.8M39.9,658.7L39.3,658.7M41.5,691.6L39.3,691.6M39.3,658.7L39.3,691.6M41.5,616.5L38.9,616.5M39.3,675.2L38.9,675.2M38.9,616.5L38.9,675.2M40.0,588.3L38.3,588.3M38.9,645.8L38.3,645.8M38.3,588.3L38.3,645.8M41.5,729.2L40.1,729.2M41.5,748.0L40.1,748.0M40.1,729.2L40.1,748.0M41.5,710.4L39.5,710.4M40.1,738.6L39.5,738.6M39.5,710.4L39.5,738.6M41.5,766.7L40.6,766.7M41.5,785.5L40.6,785.5M40.6,766.7L40.6,785.5M41.5,823.1L40.4,823.1M41.5,841.9L40.4,841.9M40.4,823.1L40.4,841.9M41.5,804.3L39.9,804.3M40.4,832.5L39.9,832.5M39.9,804.3L39.9,832.5M40.6,776.1L39.0,776.1M39.9,818.4L39.0,818.4M39.0,776.1L39.0,818.4M39.5,724.5L38.5,724.5M39.0,797.2L38.5,797.2M38.5,724.5L38.5,797.2M38.3,617.1L37.2,617.1M38.5,760.9L37.2,760.9M37.2,617.1L37.2,760.9M41.5,879.4L40.4,879.4M41.5,898.2L40.4,898.2M40.4,879.4L40.4,898.2M41.5,917.0L40.3,917.0M41.5,935.8L40.3,935.8M40.3,917.0L40.3,935.8M40.4,888.8L39.7,888.8M40.3,926.4L39.7,926.4M39.7,888.8L39.7,926.4M41.5,860.6L39.0,860.6M39.7,907.6L39.0,907.6M39.0,860.6L39.0,907.6M41.5,973.3L40.5,973.3M41.5,992.1L40.5,992.1M40.5,973.3L40.5,992.1M41.5,954.5L39.6,954.5M40.5,982.7L39.6,982.7M39.6,954.5L39.6,982.7M39.0,884.1L38.5,884.1M39.6,968.6L38.5,968.6M38.5,884.1L38.5,968.6M41.5,1029.7L40.3,1029.7M41.5,1048.4L40.3,1048.4M40.3,1029.7L40.3,1048.4M41.5,1010.9L39.9,1010.9M40.3,1039.0L39.9,1039.0M39.9,1010.9L39.9,1039.0M41.5,1086.0L40.4,1086.0M41.5,1104.8L40.4,1104.8M40.4,1086.0L40.4,1104.8M41.5,1067.2L39.5,1067.2M40.4,1095.4L39.5,1095.4M39.5,1067.2L39.5,1095.4M39.9,1025.0L38.7,1025.0M39.5,1081.3L38.7,1081.3M38.7,1025.0L38.7,1081.3M41.5,1123.5L40.0,1123.5M41.5,1142.3L40.0,1142.3M40.0,1123.5L40.0,1142.3M41.5,1161.1L40.6,1161.1M41.5,1179.9L40.6,1179.9M40.6,1161.1L40.6,1179.9M40.6,1170.5L39.9,1170.5M41.5,1198.7L39.9,1198.7M39.9,1170.5L39.9,1198.7M40.0,1132.9L39.4,1132.9M39.9,1184.6L39.4,1184.6M39.4,1132.9L39.4,1184.6M38.7,1053.1L37.9,1053.1M39.4,1158.8L37.9,1158.8M37.9,1053.1L37.9,1158.8M38.5,926.4L37.4,926.4M37.9,1105.9L37.4,1105.9M37.4,926.4L37.4,1105.9M37.2,689.0L36.5,689.0M37.4,1016.2L36.5,1016.2M36.5,689.0L36.5,1016.2M41.5,1255.0L40.3,1255.0M41.5,1273.8L40.3,1273.8M40.3,1255.0L40.3,1273.8M41.5,1236.2L39.9,1236.2M40.3,1264.4L39.9,1264.4M39.9,1236.2L39.9,1264.4M41.5,1217.5L39.0,1217.5M39.9,1250.3L39.0,1250.3M39.0,1217.5L39.0,1250.3M41.5,1311.4L40.4,1311.4M41.5,1330.1L40.4,1330.1M40.4,1311.4L40.4,1330.1M41.5,1292.6L39.9,1292.6M40.4,1320.7L39.9,1320.7M39.9,1292.6L39.9,1320.7M39.9,1306.7L39.4,1306.7M41.5,1348.9L39.4,1348.9M39.4,1306.7L39.4,1348.9M39.0,1233.9L38.6,1233.9M39.4,1327.8L38.6,1327.8M38.6,1233.9L38.6,1327.8M41.5,1367.7L40.7,1367.7M41.5,1386.5L40.7,1386.5M40.7,1367.7L40.7,1386.5M41.5,1424.0L40.4,1424.0M41.5,1442.8L40.4,1442.8M40.4,1424.0L40.4,1442.8M41.5,1405.2L39.8,1405.2M40.4,1433.4L39.8,1433.4M39.8,1405.2L39.8,1433.4M40.7,1377.1L38.9,1377.1M39.8,1419.3L38.9,1419.3M38.9,1377.1L38.9,1419.3M41.5,1461.6L40.5,1461.6M41.5,1480.4L40.5,1480.4M40.5,1461.6L40.5,1480.4M41.5,1499.2L40.3,1499.2M41.5,1517.9L40.3,1517.9M40.3,1499.2L40.3,1517.9M40.5,1471.0L39.7,1471.0M40.3,1508.5L39.7,1508.5M39.7,1471.0L39.7,1508.5M38.9,1398.2L38.0,1398.2M39.7,1489.8L38.0,1489.8M38.0,1398.2L38.0,1489.8M38.6,1280.8L37.4,1280.8M38.0,1444.0L37.4,1444.0M37.4,1280.8L37.4,1444.0M41.5,1536.7L40.2,1536.7M41.5,1555.5L40.2,1555.5M40.2,1536.7L40.2,1555.5M41.5,1593.0L40.5,1593.0M41.5,1611.8L40.5,1611.8M40.5,1593.0L40.5,1611.8M41.5,1574.3L39.7,1574.3M40.5,1602.4L39.7,1602.4M39.7,1574.3L39.7,1602.4M40.2,1546.1L38.9,1546.1M39.7,1588.4L38.9,1588.4M38.9,1546.1L38.9,1588.4M41.5,1630.6L40.1,1630.6M41.5,1649.4L40.1,1649.4M40.1,1630.6L40.1,1649.4M41.5,1687.0L40.3,1687.0M41.5,1705.7L40.3,1705.7M40.3,1687.0L40.3,1705.7M41.5,1668.2L39.9,1668.2M40.3,1696.3L39.9,1696.3M39.9,1668.2L39.9,1696.3M41.5,1724.5L40.2,1724.5M41.5,1743.3L40.2,1743.3M40.2,1724.5L40.2,1743.3M39.9,1682.3L38.8,1682.3M40.2,1733.9L38.8,1733.9M38.8,1682.3L38.8,1733.9M40.1,1640.0L38.4,1640.0M38.8,1708.1L38.4,1708.1M38.4,1640.0L38.4,1708.1M38.9,1567.2L38.0,1567.2M38.4,1674.0L38.0,1674.0M38.0,1567.2L38.0,1674.0M41.5,1762.1L40.6,1762.1M41.5,1780.9L40.6,1780.9M40.6,1762.1L40.6,1780.9M41.5,1799.6L40.5,1799.6M41.5,1818.4L40.5,1818.4M40.5,1799.6L40.5,1818.4M40.5,1809.0L39.8,1809.0M41.5,1837.2L39.8,1837.2M39.8,1809.0L39.8,1837.2M39.8,1823.1L39.4,1823.1M41.5,1856.0L39.4,1856.0M39.4,1823.1L39.4,1856.0M40.6,1771.5L39.0,1771.5M39.4,1839.5L39.0,1839.5M39.0,1771.5L39.0,1839.5M41.5,1893.5L40.3,1893.5M41.5,1912.3L40.3,1912.3M40.3,1893.5L40.3,1912.3M41.5,1874.8L39.5,1874.8M40.3,1902.9L39.5,1902.9M39.5,1874.8L39.5,1902.9M39.5,1888.8L39.1,1888.8M41.5,1931.1L39.1,1931.1M39.1,1888.8L39.1,1931.1M41.5,1968.7L40.0,1968.7M41.5,1987.4L40.0,1987.4M40.0,1968.7L40.0,1987.4M41.5,1949.9L39.6,1949.9M40.0,1978.0L39.6,1978.0M39.6,1949.9L39.6,1978.0M39.1,1910.0L38.4,1910.0M39.6,1964.0L38.4,1964.0M38.4,1910.0L38.4,1964.0M39.0,1805.5L37.7,1805.5M38.4,1937.0L37.7,1937.0M37.7,1805.5L37.7,1937.0M38.0,1620.6L36.5,1620.6M37.7,1871.2L36.5,1871.2M36.5,1620.6L36.5,1871.2M41.5,2025.0L40.0,2025.0M41.5,2043.8L40.0,2043.8M40.0,2025.0L40.0,2043.8M41.5,2006.2L39.6,2006.2M40.0,2034.4L39.6,2034.4M39.6,2006.2L39.6,2034.4M41.5,2062.6L40.0,2062.6M41.5,2081.3L40.0,2081.3M40.0,2062.6L40.0,2081.3M39.6,2020.3L38.9,2020.3M40.0,2071.9L38.9,2071.9M38.9,2020.3L38.9,2071.9M41.5,2118.9L40.7,2118.9M41.5,2137.7L40.7,2137.7M40.7,2118.9L40.7,2137.7M40.7,2128.3L39.9,2128.3M41.5,2156.5L39.9,2156.5M39.9,2128.3L39.9,2156.5M41.5,2100.1L39.4,2100.1M39.9,2142.4L39.4,2142.4M39.4,2100.1L39.4,2142.4M41.5,2212.8L40.3,2212.8M41.5,2231.6L40.3,2231.6M40.3,2212.8L40.3,2231.6M41.5,2194.0L39.6,2194.0M40.3,2222.2L39.6,2222.2M39.6,2194.0L39.6,2222.2M41.5,2175.2L39.1,2175.2M39.6,2208.1L39.1,2208.1M39.1,2175.2L39.1,2208.1M39.4,2121.2L38.6,2121.2M39.1,2191.7L38.6,2191.7M38.6,2121.2L38.6,2191.7M38.9,2046.1L38.0,2046.1M38.6,2156.5L38.0,2156.5M38.0,2046.1L38.0,2156.5M36.5,1745.9L36.1,1745.9M38.0,2101.3L36.1,2101.3M36.1,1745.9L36.1,2101.3M38.2,492.1L36.0,492.1M38.2,492.1L31.0,492.1M36.5,852.6L31.0,852.6M31.0,492.1L31.0,852.6M37.4,1362.4L30.4,1362.4M36.1,1923.6L30.4,1923.6M30.4,1362.4L30.4,1923.6M31.0,672.3L5.2,672.3M30.4,1643.0L5.2,1643.0M5.2,672.3L5.2,1643.0" stroke="#000" stroke-width="1.7" fill="none" stroke-linecap="square"/>
<defs><linearGradient id="zk" x1="0" x2="1" y1="0" y2="0"><stop offset="0.00" stop-color="#053061"/><stop offset="0.10" stop-color="#2166ac"/><stop offset="0.20" stop-color="#4393c3"/><stop offset="0.30" stop-color="#92c5de"/><stop offset="0.40" stop-color="#d1e5f0"/><stop offset="0.50" stop-color="#e4e2e1"/><stop offset="0.60" stop-color="#fddbc7"/><stop offset="0.70" stop-color="#f4a582"/><stop offset="0.80" stop-color="#d6604d"/><stop offset="0.90" stop-color="#b2182b"/><stop offset="1.00" stop-color="#67001f"/></linearGradient></defs>
<rect x="41.9" y="2251.9" width="274.3" height="19" fill="url(#zk)"/>
<text x="41" y="2291" font-size="23">-2</text>
<text x="180.8" y="2291" font-size="23" text-anchor="middle">0</text>
<text x="316.5" y="2291" font-size="23" text-anchor="end">2</text>
<text transform="translate(180,2319.3) scale(1,1.04)" font-size="24.3" text-anchor="middle">Z-score</text>
<path d="M505.2,1L1917.5,1" stroke="#555" stroke-width="1.9" stroke-dasharray="6.5 6.4" fill="none"/>
<path d="M505.2,1L505.2,2493" stroke="#555" stroke-width="1.9" stroke-dasharray="6.5 6.4" fill="none"/>
<path d="M1917.5,1L1917.5,2116" stroke="#555" stroke-width="1.9" stroke-dasharray="6.5 6.4" fill="none"/>
<path d="M505.2,663.9L1917.5,663.9" stroke="#555" stroke-width="1.9" stroke-dasharray="6.5 6.4" fill="none"/>
<path d="M1085.2,353L1917.5,353" stroke="#555" stroke-width="1.9" stroke-dasharray="6.5 6.4" fill="none"/>
<path d="M1085.2,353L1085.2,663.9" stroke="#555" stroke-width="1.9" stroke-dasharray="6.5 6.4" fill="none"/>
<path d="M505.2,1036.5L1641.5,1036.5" stroke="#555" stroke-width="1.9" stroke-dasharray="6.5 6.4" fill="none"/>
<path d="M1641.5,663.9L1641.5,1405" stroke="#555" stroke-width="1.9" stroke-dasharray="6.5 6.4" fill="none"/>
<path d="M505.2,1405L1917.5,1405" stroke="#555" stroke-width="1.9" stroke-dasharray="6.5 6.4" fill="none"/>
<path d="M1150.5,1779L1917.5,1779" stroke="#555" stroke-width="1.9" stroke-dasharray="6.5 6.4" fill="none"/>
<path d="M1150.5,1779L1150.5,2493" stroke="#555" stroke-width="1.9" stroke-dasharray="6.5 6.4" fill="none"/>
<path d="M505.2,2116L1917.5,2116" stroke="#555" stroke-width="1.9" stroke-dasharray="6.5 6.4" fill="none"/>
<path d="M505.2,2493L1150.5,2493" stroke="#555" stroke-width="1.9" stroke-dasharray="6.5 6.4" fill="none"/>
<text transform="translate(531.5,42) scale(1,1.04)" font-size="38.5" font-weight="bold">B</text>
<text x="580" y="42" font-size="36">Nucleotides</text>
<text transform="translate(1106,390.6) scale(1,1.04)" font-size="38.5" font-weight="bold">C</text>
<text x="1155.5" y="390.6" font-size="36">1C cycle</text>
<text transform="translate(531.5,707.0) scale(1,1.04)" font-size="38.5" font-weight="bold">D</text>
<text x="580" y="707.0" font-size="36">Glycolysis</text>
<text transform="translate(531.5,1081.8) scale(1,1.04)" font-size="38.5" font-weight="bold">E</text>
<text x="580" y="1081.8" font-size="36">TCA cycle</text>
<text transform="translate(1654,706.3) scale(1,1.04)" font-size="38.5" font-weight="bold">F</text>
<text transform="translate(531.5,1453.6) scale(1,1.04)" font-size="38.5" font-weight="bold">G</text>
<text x="580" y="1453.6" font-size="36">β-oxidation</text>
<text transform="translate(1227,1829.3) scale(1,1.04)" font-size="38.5" font-weight="bold">H</text>
<text transform="translate(535,2170) scale(1,1.04)" font-size="38.5" font-weight="bold">I</text>
<text x="581" y="2170" font-size="36">Urea cycle</text>
<rect x="605.33" y="184.62" width="47.00" height="84.51" fill="#ffffff" stroke="#000" stroke-width="1.6"/>
<path d="M628.83,269.13V276.93M617.33,276.93H640.33" stroke="#000" stroke-width="1.6" fill="none"/>
<rect x="675.50" y="140.65" width="47.00" height="43.97" fill="#000000" stroke="#000" stroke-width="1.6"/>
<path d="M699.00,140.65V133.43M687.50,133.43H710.50" stroke="#000" stroke-width="1.6" fill="none"/>
<rect x="745.67" y="144.93" width="47.00" height="39.69" fill="#008000" stroke="#000" stroke-width="1.6"/>
<path d="M769.17,144.93V132.84M757.67,132.84H780.67" stroke="#000" stroke-width="1.6" fill="none"/>
<rect x="593.75" y="100.70" width="210.50" height="209.80" fill="none" stroke="#000" stroke-width="1.6"/>
<path d="M593.75,184.62H804.25" stroke="#000" stroke-width="1.6"/>
<path d="M590.15,100.70H593.75M590.15,142.66H593.75M590.15,184.62H593.75M590.15,226.58H593.75M590.15,268.54H593.75M590.15,310.50H593.75M628.83,310.50V314.10M699.00,310.50V314.10M769.17,310.50V314.10" stroke="#000" stroke-width="1.6"/>
<text transform="translate(588.55,106.12) scale(1,1.065)" font-size="15.9" font-weight="bold" text-anchor="end">1.0</text>
<text transform="translate(588.55,148.08) scale(1,1.065)" font-size="15.9" font-weight="bold" text-anchor="end">0.5</text>
<text transform="translate(588.55,190.04) scale(1,1.065)" font-size="15.9" font-weight="bold" text-anchor="end">0</text>
<text transform="translate(588.55,232.00) scale(1,1.065)" font-size="15.9" font-weight="bold" text-anchor="end">-0.5</text>
<text transform="translate(588.55,273.96) scale(1,1.065)" font-size="15.9" font-weight="bold" text-anchor="end">-1.0</text>
<text transform="translate(588.55,315.92) scale(1,1.065)" font-size="15.9" font-weight="bold" text-anchor="end">-1.5</text>
<text transform="translate(628.83,329.90) scale(1,1.04)" font-size="14.6" font-weight="bold" text-anchor="middle">No stress</text>
<text transform="translate(699.00,329.90) scale(1,1.04)" font-size="14.6" font-weight="bold" text-anchor="middle">CMS-vul</text>
<text transform="translate(769.17,329.90) scale(1,1.04)" font-size="14.6" font-weight="bold" text-anchor="middle">CMS-res</text>
<text transform="translate(699.00,75.70) scale(1,1.045)" font-size="20.9" font-weight="bold" text-anchor="middle">AMP</text>
<text transform="translate(548.70,205.60) rotate(-90)" font-size="19.95" text-anchor="middle">Relative metabolite levels</text>
<text x="699.50" y="132.08" font-size="24.2" font-weight="bold" text-anchor="middle" letter-spacing="1.0">***</text>
<text x="769.67" y="132.08" font-size="24.2" font-weight="bold" text-anchor="middle" letter-spacing="1.0">***</text>
<rect x="868.18" y="205.80" width="47.00" height="47.61" fill="#ffffff" stroke="#000" stroke-width="1.6"/>
<path d="M891.68,253.41V287.04M880.18,287.04H903.18" stroke="#000" stroke-width="1.6" fill="none"/>
<rect x="938.35" y="197.08" width="47.00" height="8.72" fill="#000000" stroke="#000" stroke-width="1.6"/>
<path d="M961.85,197.08V175.22M950.35,175.22H973.35" stroke="#000" stroke-width="1.6" fill="none"/>
<rect x="1008.52" y="167.12" width="47.00" height="38.68" fill="#008000" stroke="#000" stroke-width="1.6"/>
<path d="M1032.02,167.12V148.94M1020.52,148.94H1043.52" stroke="#000" stroke-width="1.6" fill="none"/>
<rect x="856.60" y="100.70" width="210.50" height="210.20" fill="none" stroke="#000" stroke-width="1.6"/>
<path d="M856.60,205.80H1067.10" stroke="#000" stroke-width="1.6"/>
<path d="M853.00,100.70H856.60M853.00,153.25H856.60M853.00,205.80H856.60M853.00,258.35H856.60M853.00,310.90H856.60M891.68,310.90V314.50M961.85,310.90V314.50M1032.02,310.90V314.50" stroke="#000" stroke-width="1.6"/>
<text transform="translate(851.40,106.12) scale(1,1.065)" font-size="15.9" font-weight="bold" text-anchor="end">1.0</text>
<text transform="translate(851.40,158.67) scale(1,1.065)" font-size="15.9" font-weight="bold" text-anchor="end">0.5</text>
<text transform="translate(851.40,211.22) scale(1,1.065)" font-size="15.9" font-weight="bold" text-anchor="end">0</text>
<text transform="translate(851.40,263.77) scale(1,1.065)" font-size="15.9" font-weight="bold" text-anchor="end">-0.5</text>
<text transform="translate(851.40,316.32) scale(1,1.065)" font-size="15.9" font-weight="bold" text-anchor="end">-1.0</text>
<text transform="translate(891.68,330.30) scale(1,1.04)" font-size="14.6" font-weight="bold" text-anchor="middle">No stress</text>
<text transform="translate(961.85,330.30) scale(1,1.04)" font-size="14.6" font-weight="bold" text-anchor="middle">CMS-vul</text>
<text transform="translate(1032.02,330.30) scale(1,1.04)" font-size="14.6" font-weight="bold" text-anchor="middle">CMS-res</text>
<text transform="translate(961.85,75.70) scale(1,1.045)" font-size="20.9" font-weight="bold" text-anchor="middle">CTP</text>
<text x="962.35" y="179.98" font-size="24.2" font-weight="bold" text-anchor="middle" letter-spacing="1.0">*</text>
<text x="1032.52" y="144.58" font-size="24.2" font-weight="bold" text-anchor="middle" letter-spacing="1.0">*</text>
<rect x="1145.50" y="205.75" width="47.00" height="42.95" fill="#ffffff" stroke="#000" stroke-width="1.6"/>
<path d="M1169.00,248.70V269.65M1157.50,269.65H1180.50" stroke="#000" stroke-width="1.6" fill="none"/>
<rect x="1215.50" y="196.32" width="47.00" height="9.43" fill="#000000" stroke="#000" stroke-width="1.6"/>
<path d="M1239.00,196.32V180.30M1227.50,180.30H1250.50" stroke="#000" stroke-width="1.6" fill="none"/>
<rect x="1285.50" y="173.28" width="47.00" height="32.47" fill="#008000" stroke="#000" stroke-width="1.6"/>
<path d="M1309.00,173.28V145.73M1297.50,145.73H1320.50" stroke="#000" stroke-width="1.6" fill="none"/>
<rect x="1134.00" y="101.00" width="210.00" height="209.50" fill="none" stroke="#000" stroke-width="1.6"/>
<path d="M1134.00,205.75H1344.00" stroke="#000" stroke-width="1.6"/>
<path d="M1130.40,101.00H1134.00M1130.40,153.38H1134.00M1130.40,205.75H1134.00M1130.40,258.12H1134.00M1130.40,310.50H1134.00M1169.00,310.50V314.10M1239.00,310.50V314.10M1309.00,310.50V314.10" stroke="#000" stroke-width="1.6"/>
<text transform="translate(1128.80,106.42) scale(1,1.065)" font-size="15.9" font-weight="bold" text-anchor="end">1.0</text>
<text transform="translate(1128.80,158.79) scale(1,1.065)" font-size="15.9" font-weight="bold" text-anchor="end">0.5</text>
<text transform="translate(1128.80,211.17) scale(1,1.065)" font-size="15.9" font-weight="bold" text-anchor="end">0</text>
<text transform="translate(1128.80,263.54) scale(1,1.065)" font-size="15.9" font-weight="bold" text-anchor="end">-0.5</text>
<text transform="translate(1128.80,315.92) scale(1,1.065)" font-size="15.9" font-weight="bold" text-anchor="end">-1.0</text>
<text transform="translate(1169.00,329.90) scale(1,1.04)" font-size="14.6" font-weight="bold" text-anchor="middle">No stress</text>
<text transform="translate(1239.00,329.90) scale(1,1.04)" font-size="14.6" font-weight="bold" text-anchor="middle">CMS-vul</text>
<text transform="translate(1309.00,329.90) scale(1,1.04)" font-size="14.6" font-weight="bold" text-anchor="middle">CMS-res</text>
<text transform="translate(1239.00,76.00) scale(1,1.045)" font-size="20.9" font-weight="bold" text-anchor="middle">GMP</text>
<text x="1239.50" y="179.78" font-size="24.2" font-weight="bold" text-anchor="middle" letter-spacing="1.0">*</text>
<text x="1309.50" y="144.78" font-size="24.2" font-weight="bold" text-anchor="middle" letter-spacing="1.0">*</text>
<rect x="1423.00" y="205.75" width="47.00" height="86.94" fill="#ffffff" stroke="#000" stroke-width="1.6"/>
<path d="M1446.50,292.69V306.73M1435.00,306.73H1458.00" stroke="#000" stroke-width="1.6" fill="none"/>
<rect x="1493.00" y="144.79" width="47.00" height="60.96" fill="#000000" stroke="#000" stroke-width="1.6"/>
<path d="M1516.50,144.79V130.33M1505.00,130.33H1528.00" stroke="#000" stroke-width="1.6" fill="none"/>
<rect x="1563.00" y="180.30" width="47.00" height="25.45" fill="#008000" stroke="#000" stroke-width="1.6"/>
<path d="M1586.50,180.30V161.23M1575.00,161.23H1598.00" stroke="#000" stroke-width="1.6" fill="none"/>
<rect x="1411.50" y="101.00" width="210.00" height="209.50" fill="none" stroke="#000" stroke-width="1.6"/>
<path d="M1411.50,205.75H1621.50" stroke="#000" stroke-width="1.6"/>
<path d="M1407.90,101.00H1411.50M1407.90,153.38H1411.50M1407.90,205.75H1411.50M1407.90,258.12H1411.50M1407.90,310.50H1411.50M1446.50,310.50V314.10M1516.50,310.50V314.10M1586.50,310.50V314.10" stroke="#000" stroke-width="1.6"/>
<text transform="translate(1406.30,106.42) scale(1,1.065)" font-size="15.9" font-weight="bold" text-anchor="end">1.0</text>
<text transform="translate(1406.30,158.79) scale(1,1.065)" font-size="15.9" font-weight="bold" text-anchor="end">0.5</text>
<text transform="translate(1406.30,211.17) scale(1,1.065)" font-size="15.9" font-weight="bold" text-anchor="end">0</text>
<text transform="translate(1406.30,263.54) scale(1,1.065)" font-size="15.9" font-weight="bold" text-anchor="end">-0.5</text>
<text transform="translate(1406.30,315.92) scale(1,1.065)" font-size="15.9" font-weight="bold" text-anchor="end">-1.0</text>
<text transform="translate(1446.50,329.90) scale(1,1.04)" font-size="14.6" font-weight="bold" text-anchor="middle">No stress</text>
<text transform="translate(1516.50,329.90) scale(1,1.04)" font-size="14.6" font-weight="bold" text-anchor="middle">CMS-vul</text>
<text transform="translate(1586.50,329.90) scale(1,1.04)" font-size="14.6" font-weight="bold" text-anchor="middle">CMS-res</text>
<text transform="translate(1516.50,76.00) scale(1,1.045)" font-size="20.9" font-weight="bold" text-anchor="middle">GTP</text>
<text x="1517.00" y="126.28" font-size="24.2" font-weight="bold" text-anchor="middle" letter-spacing="1.0">**</text>
<text x="1587.00" y="162.28" font-size="24.2" font-weight="bold" text-anchor="middle" letter-spacing="1.0">**</text>
<text x="1586.50" y="140.40" font-size="15.0" font-weight="bold" text-anchor="middle">##</text>
<rect x="1700.50" y="151.28" width="47.00" height="54.47" fill="#ffffff" stroke="#000" stroke-width="1.6"/>
<path d="M1724.00,151.28V114.79M1712.50,114.79H1735.50" stroke="#000" stroke-width="1.6" fill="none"/>
<rect x="1770.50" y="205.75" width="47.00" height="55.52" fill="#000000" stroke="#000" stroke-width="1.6"/>
<path d="M1794.00,261.27V282.74M1782.50,282.74H1805.50" stroke="#000" stroke-width="1.6" fill="none"/>
<rect x="1840.50" y="205.75" width="47.00" height="0.01" fill="#008000" stroke="#000" stroke-width="1.6"/>
<path d="M1864.00,205.75V143.25M1852.50,143.25H1875.50" stroke="#000" stroke-width="1.6" fill="none"/>
<rect x="1689.00" y="101.00" width="210.00" height="209.50" fill="none" stroke="#000" stroke-width="1.6"/>
<path d="M1689.00,205.75H1899.00" stroke="#000" stroke-width="1.6"/>
<path d="M1685.40,101.00H1689.00M1685.40,135.92H1689.00M1685.40,170.83H1689.00M1685.40,205.75H1689.00M1685.40,240.67H1689.00M1685.40,275.58H1689.00M1685.40,310.50H1689.00M1724.00,310.50V314.10M1794.00,310.50V314.10M1864.00,310.50V314.10" stroke="#000" stroke-width="1.6"/>
<text transform="translate(1683.80,106.42) scale(1,1.065)" font-size="15.9" font-weight="bold" text-anchor="end">0.6</text>
<text transform="translate(1683.80,141.34) scale(1,1.065)" font-size="15.9" font-weight="bold" text-anchor="end">0.4</text>
<text transform="translate(1683.80,176.25) scale(1,1.065)" font-size="15.9" font-weight="bold" text-anchor="end">0.2</text>
<text transform="translate(1683.80,211.17) scale(1,1.065)" font-size="15.9" font-weight="bold" text-anchor="end">0</text>
<text transform="translate(1683.80,246.09) scale(1,1.065)" font-size="15.9" font-weight="bold" text-anchor="end">-0.2</text>
<text transform="translate(1683.80,281.00) scale(1,1.065)" font-size="15.9" font-weight="bold" text-anchor="end">-0.4</text>
<text transform="translate(1683.80,315.92) scale(1,1.065)" font-size="15.9" font-weight="bold" text-anchor="end">-0.6</text>
<text transform="translate(1724.00,329.90) scale(1,1.04)" font-size="14.6" font-weight="bold" text-anchor="middle">No stress</text>
<text transform="translate(1794.00,329.90) scale(1,1.04)" font-size="14.6" font-weight="bold" text-anchor="middle">CMS-vul</text>
<text transform="translate(1864.00,329.90) scale(1,1.04)" font-size="14.6" font-weight="bold" text-anchor="middle">CMS-res</text>
<text transform="translate(1794.00,76.00) scale(1,1.045)" font-size="20.9" font-weight="bold" text-anchor="middle">UTP</text>
<text x="1794.50" y="314.78" font-size="24.2" font-weight="bold" text-anchor="middle" letter-spacing="1.0">*</text>
<rect x="611.38" y="515.55" width="47.00" height="53.94" fill="#ffffff" stroke="#000" stroke-width="1.6"/>
<path d="M634.88,569.49V593.26M623.38,593.26H646.38" stroke="#000" stroke-width="1.6" fill="none"/>
<rect x="681.15" y="497.36" width="47.00" height="18.19" fill="#000000" stroke="#000" stroke-width="1.6"/>
<path d="M704.65,497.36V480.54M693.15,480.54H716.15" stroke="#000" stroke-width="1.6" fill="none"/>
<rect x="750.92" y="480.22" width="47.00" height="35.33" fill="#008000" stroke="#000" stroke-width="1.6"/>
<path d="M774.42,480.22V454.46M762.92,454.46H785.92" stroke="#000" stroke-width="1.6" fill="none"/>
<rect x="600.00" y="410.40" width="209.30" height="210.30" fill="none" stroke="#000" stroke-width="1.6"/>
<path d="M600.00,515.55H809.30" stroke="#000" stroke-width="1.6"/>
<path d="M596.40,410.40H600.00M596.40,462.97H600.00M596.40,515.55H600.00M596.40,568.12H600.00M596.40,620.70H600.00M634.88,620.70V624.30M704.65,620.70V624.30M774.42,620.70V624.30" stroke="#000" stroke-width="1.6"/>
<text transform="translate(594.80,415.82) scale(1,1.065)" font-size="15.9" font-weight="bold" text-anchor="end">1.0</text>
<text transform="translate(594.80,468.39) scale(1,1.065)" font-size="15.9" font-weight="bold" text-anchor="end">0.5</text>
<text transform="translate(594.80,520.97) scale(1,1.065)" font-size="15.9" font-weight="bold" text-anchor="end">0</text>
<text transform="translate(594.80,573.54) scale(1,1.065)" font-size="15.9" font-weight="bold" text-anchor="end">-0.5</text>
<text transform="translate(594.80,626.12) scale(1,1.065)" font-size="15.9" font-weight="bold" text-anchor="end">-1.0</text>
<text transform="translate(634.88,640.10) scale(1,1.04)" font-size="14.6" font-weight="bold" text-anchor="middle">No stress</text>
<text transform="translate(704.65,640.10) scale(1,1.04)" font-size="14.6" font-weight="bold" text-anchor="middle">CMS-vul</text>
<text transform="translate(774.42,640.10) scale(1,1.04)" font-size="14.6" font-weight="bold" text-anchor="middle">CMS-res</text>
<text transform="translate(704.65,385.40) scale(1,1.045)" font-size="20.9" font-weight="bold" text-anchor="middle">IMP</text>
<text transform="translate(550.50,515.55) rotate(-90)" font-size="19.95" text-anchor="middle">Relative metabolite levels</text>
<text x="705.15" y="479.08" font-size="24.2" font-weight="bold" text-anchor="middle" letter-spacing="1.0">*</text>
<text x="774.92" y="452.28" font-size="24.2" font-weight="bold" text-anchor="middle" letter-spacing="1.0">*</text>
<rect x="867.63" y="515.55" width="47.00" height="76.44" fill="#ffffff" stroke="#000" stroke-width="1.6"/>
<path d="M891.13,591.99V596.31M879.63,596.31H902.63" stroke="#000" stroke-width="1.6" fill="none"/>
<rect x="937.90" y="474.86" width="47.00" height="40.69" fill="#000000" stroke="#000" stroke-width="1.6"/>
<path d="M961.40,474.86V463.71M949.90,463.71H972.90" stroke="#000" stroke-width="1.6" fill="none"/>
<rect x="1008.17" y="480.22" width="47.00" height="35.33" fill="#008000" stroke="#000" stroke-width="1.6"/>
<path d="M1031.67,480.22V453.09M1020.17,453.09H1043.17" stroke="#000" stroke-width="1.6" fill="none"/>
<rect x="856.00" y="410.40" width="210.80" height="210.30" fill="none" stroke="#000" stroke-width="1.6"/>
<path d="M856.00,515.55H1066.80" stroke="#000" stroke-width="1.6"/>
<path d="M852.40,410.40H856.00M852.40,462.97H856.00M852.40,515.55H856.00M852.40,568.12H856.00M852.40,620.70H856.00M891.13,620.70V624.30M961.40,620.70V624.30M1031.67,620.70V624.30" stroke="#000" stroke-width="1.6"/>
<text transform="translate(850.80,415.82) scale(1,1.065)" font-size="15.9" font-weight="bold" text-anchor="end">1.0</text>
<text transform="translate(850.80,468.39) scale(1,1.065)" font-size="15.9" font-weight="bold" text-anchor="end">0.5</text>
<text transform="translate(850.80,520.97) scale(1,1.065)" font-size="15.9" font-weight="bold" text-anchor="end">0</text>
<text transform="translate(850.80,573.54) scale(1,1.065)" font-size="15.9" font-weight="bold" text-anchor="end">-0.5</text>
<text transform="translate(850.80,626.12) scale(1,1.065)" font-size="15.9" font-weight="bold" text-anchor="end">-1.0</text>
<text transform="translate(891.13,640.10) scale(1,1.04)" font-size="14.6" font-weight="bold" text-anchor="middle">No stress</text>
<text transform="translate(961.40,640.10) scale(1,1.04)" font-size="14.6" font-weight="bold" text-anchor="middle">CMS-vul</text>
<text transform="translate(1031.67,640.10) scale(1,1.04)" font-size="14.6" font-weight="bold" text-anchor="middle">CMS-res</text>
<text transform="translate(961.40,385.40) scale(1,1.045)" font-size="20.9" font-weight="bold" text-anchor="middle">UMP</text>
<text x="961.90" y="461.18" font-size="24.2" font-weight="bold" text-anchor="middle" letter-spacing="1.0">**</text>
<text x="1032.17" y="453.28" font-size="24.2" font-weight="bold" text-anchor="middle" letter-spacing="1.0">**</text>
<rect x="1373.17" y="515.75" width="47.00" height="39.49" fill="#ffffff" stroke="#000" stroke-width="1.6"/>
<path d="M1396.67,555.24V580.70M1385.17,580.70H1408.17" stroke="#000" stroke-width="1.6" fill="none"/>
<rect x="1443.50" y="482.23" width="47.00" height="33.52" fill="#000000" stroke="#000" stroke-width="1.6"/>
<path d="M1467.00,482.23V471.75M1455.50,471.75H1478.50" stroke="#000" stroke-width="1.6" fill="none"/>
<rect x="1513.83" y="510.20" width="47.00" height="5.55" fill="#008000" stroke="#000" stroke-width="1.6"/>
<path d="M1537.33,510.20V499.20M1525.83,499.20H1548.83" stroke="#000" stroke-width="1.6" fill="none"/>
<rect x="1361.50" y="411.00" width="211.00" height="209.50" fill="none" stroke="#000" stroke-width="1.6"/>
<path d="M1361.50,515.75H1572.50" stroke="#000" stroke-width="1.6"/>
<path d="M1357.90,411.00H1361.50M1357.90,463.38H1361.50M1357.90,515.75H1361.50M1357.90,568.12H1361.50M1357.90,620.50H1361.50M1396.67,620.50V624.10M1467.00,620.50V624.10M1537.33,620.50V624.10" stroke="#000" stroke-width="1.6"/>
<text transform="translate(1356.30,416.42) scale(1,1.065)" font-size="15.9" font-weight="bold" text-anchor="end">1.0</text>
<text transform="translate(1356.30,468.79) scale(1,1.065)" font-size="15.9" font-weight="bold" text-anchor="end">0.5</text>
<text transform="translate(1356.30,521.17) scale(1,1.065)" font-size="15.9" font-weight="bold" text-anchor="end">0</text>
<text transform="translate(1356.30,573.54) scale(1,1.065)" font-size="15.9" font-weight="bold" text-anchor="end">-0.5</text>
<text transform="translate(1356.30,625.92) scale(1,1.065)" font-size="15.9" font-weight="bold" text-anchor="end">-1.0</text>
<text transform="translate(1396.67,639.90) scale(1,1.04)" font-size="14.6" font-weight="bold" text-anchor="middle">No stress</text>
<text transform="translate(1467.00,639.90) scale(1,1.04)" font-size="14.6" font-weight="bold" text-anchor="middle">CMS-vul</text>
<text transform="translate(1537.33,639.90) scale(1,1.04)" font-size="14.6" font-weight="bold" text-anchor="middle">CMS-res</text>
<text transform="translate(1467.00,386.00) scale(1,1.045)" font-size="20.9" font-weight="bold" text-anchor="middle">Ser</text>
<text transform="translate(1316.00,515.75) rotate(-90)" font-size="19.95" text-anchor="middle">Relative metabolite levels</text>
<text x="1467.50" y="453.28" font-size="24.2" font-weight="bold" text-anchor="middle" letter-spacing="1.0">*</text>
<text x="1537.83" y="505.78" font-size="24.2" font-weight="bold" text-anchor="middle" letter-spacing="1.0">*</text>
<text x="1537.33" y="481.60" font-size="15.0" font-weight="bold" text-anchor="middle">#</text>
<rect x="1650.58" y="515.75" width="47.00" height="19.90" fill="#ffffff" stroke="#000" stroke-width="1.6"/>
<path d="M1674.08,535.65V564.77M1662.58,564.77H1685.58" stroke="#000" stroke-width="1.6" fill="none"/>
<rect x="1720.75" y="482.23" width="47.00" height="33.52" fill="#000000" stroke="#000" stroke-width="1.6"/>
<path d="M1744.25,482.23V472.80M1732.75,472.80H1755.75" stroke="#000" stroke-width="1.6" fill="none"/>
<rect x="1790.92" y="515.75" width="47.00" height="14.46" fill="#008000" stroke="#000" stroke-width="1.6"/>
<path d="M1814.42,530.21V536.70M1802.92,536.70H1825.92" stroke="#000" stroke-width="1.6" fill="none"/>
<rect x="1639.00" y="411.00" width="210.50" height="209.50" fill="none" stroke="#000" stroke-width="1.6"/>
<path d="M1639.00,515.75H1849.50" stroke="#000" stroke-width="1.6"/>
<path d="M1635.40,411.00H1639.00M1635.40,463.38H1639.00M1635.40,515.75H1639.00M1635.40,568.12H1639.00M1635.40,620.50H1639.00M1674.08,620.50V624.10M1744.25,620.50V624.10M1814.42,620.50V624.10" stroke="#000" stroke-width="1.6"/>
<text transform="translate(1633.80,416.42) scale(1,1.065)" font-size="15.9" font-weight="bold" text-anchor="end">1.0</text>
<text transform="translate(1633.80,468.79) scale(1,1.065)" font-size="15.9" font-weight="bold" text-anchor="end">0.5</text>
<text transform="translate(1633.80,521.17) scale(1,1.065)" font-size="15.9" font-weight="bold" text-anchor="end">0</text>
<text transform="translate(1633.80,573.54) scale(1,1.065)" font-size="15.9" font-weight="bold" text-anchor="end">-0.5</text>
<text transform="translate(1633.80,625.92) scale(1,1.065)" font-size="15.9" font-weight="bold" text-anchor="end">-1.0</text>
<text transform="translate(1674.08,639.90) scale(1,1.04)" font-size="14.6" font-weight="bold" text-anchor="middle">No stress</text>
<text transform="translate(1744.25,639.90) scale(1,1.04)" font-size="14.6" font-weight="bold" text-anchor="middle">CMS-vul</text>
<text transform="translate(1814.42,639.90) scale(1,1.04)" font-size="14.6" font-weight="bold" text-anchor="middle">CMS-res</text>
<text transform="translate(1744.25,386.00) scale(1,1.045)" font-size="20.9" font-weight="bold" text-anchor="middle">Gly</text>
<text x="1744.75" y="467.28" font-size="24.2" font-weight="bold" text-anchor="middle" letter-spacing="1.0">*</text>
<text x="1814.42" y="562.60" font-size="15.0" font-weight="bold" text-anchor="middle">#</text>
<rect x="605.22" y="817.61" width="47.00" height="68.24" fill="#ffffff" stroke="#000" stroke-width="1.6"/>
<path d="M628.72,817.61V799.73M617.22,799.73H640.22" stroke="#000" stroke-width="1.6" fill="none"/>
<rect x="675.45" y="885.85" width="47.00" height="38.17" fill="#000000" stroke="#000" stroke-width="1.6"/>
<path d="M698.95,924.02V967.24M687.45,967.24H710.45" stroke="#000" stroke-width="1.6" fill="none"/>
<rect x="745.68" y="885.85" width="47.00" height="29.97" fill="#008000" stroke="#000" stroke-width="1.6"/>
<path d="M769.18,915.82V925.18M757.68,925.18H780.68" stroke="#000" stroke-width="1.6" fill="none"/>
<rect x="593.60" y="780.70" width="210.70" height="210.30" fill="none" stroke="#000" stroke-width="1.6"/>
<path d="M593.60,885.85H804.30" stroke="#000" stroke-width="1.6"/>
<path d="M590.00,780.70H593.60M590.00,833.28H593.60M590.00,885.85H593.60M590.00,938.43H593.60M590.00,991.00H593.60M628.72,991.00V994.60M698.95,991.00V994.60M769.18,991.00V994.60" stroke="#000" stroke-width="1.6"/>
<text transform="translate(588.40,786.12) scale(1,1.065)" font-size="15.9" font-weight="bold" text-anchor="end">1.0</text>
<text transform="translate(588.40,838.69) scale(1,1.065)" font-size="15.9" font-weight="bold" text-anchor="end">0.5</text>
<text transform="translate(588.40,891.27) scale(1,1.065)" font-size="15.9" font-weight="bold" text-anchor="end">0</text>
<text transform="translate(588.40,943.84) scale(1,1.065)" font-size="15.9" font-weight="bold" text-anchor="end">-0.5</text>
<text transform="translate(588.40,996.42) scale(1,1.065)" font-size="15.9" font-weight="bold" text-anchor="end">-1.0</text>
<text transform="translate(628.72,1010.40) scale(1,1.04)" font-size="14.6" font-weight="bold" text-anchor="middle">No stress</text>
<text transform="translate(698.95,1010.40) scale(1,1.04)" font-size="14.6" font-weight="bold" text-anchor="middle">CMS-vul</text>
<text transform="translate(769.18,1010.40) scale(1,1.04)" font-size="14.6" font-weight="bold" text-anchor="middle">CMS-res</text>
<text transform="translate(698.95,755.70) scale(1,1.045)" font-size="20.9" font-weight="bold" text-anchor="middle">Gluc/Fruc6P</text>
<text transform="translate(548.70,885.85) rotate(-90)" font-size="19.95" text-anchor="middle">Relative metabolite levels</text>
<text x="699.45" y="991.88" font-size="24.2" font-weight="bold" text-anchor="middle" letter-spacing="1.0">*</text>
<text x="769.68" y="952.68" font-size="24.2" font-weight="bold" text-anchor="middle" letter-spacing="1.0">*</text>
<rect x="867.63" y="839.72" width="47.00" height="46.13" fill="#ffffff" stroke="#000" stroke-width="1.6"/>
<path d="M891.13,839.72V823.46M879.63,823.46H902.63" stroke="#000" stroke-width="1.6" fill="none"/>
<rect x="937.90" y="885.85" width="47.00" height="12.13" fill="#000000" stroke="#000" stroke-width="1.6"/>
<path d="M961.40,897.98V909.75M949.90,909.75H972.90" stroke="#000" stroke-width="1.6" fill="none"/>
<rect x="1008.17" y="885.85" width="47.00" height="33.51" fill="#008000" stroke="#000" stroke-width="1.6"/>
<path d="M1031.67,919.36V945.44M1020.17,945.44H1043.17" stroke="#000" stroke-width="1.6" fill="none"/>
<rect x="856.00" y="780.70" width="210.80" height="210.30" fill="none" stroke="#000" stroke-width="1.6"/>
<path d="M856.00,885.85H1066.80" stroke="#000" stroke-width="1.6"/>
<path d="M852.40,780.70H856.00M852.40,815.75H856.00M852.40,850.80H856.00M852.40,885.85H856.00M852.40,920.90H856.00M852.40,955.95H856.00M852.40,991.00H856.00M891.13,991.00V994.60M961.40,991.00V994.60M1031.67,991.00V994.60" stroke="#000" stroke-width="1.6"/>
<text transform="translate(850.80,786.12) scale(1,1.065)" font-size="15.9" font-weight="bold" text-anchor="end">1.5</text>
<text transform="translate(850.80,821.17) scale(1,1.065)" font-size="15.9" font-weight="bold" text-anchor="end">1.0</text>
<text transform="translate(850.80,856.22) scale(1,1.065)" font-size="15.9" font-weight="bold" text-anchor="end">0.5</text>
<text transform="translate(850.80,891.27) scale(1,1.065)" font-size="15.9" font-weight="bold" text-anchor="end">0</text>
<text transform="translate(850.80,926.32) scale(1,1.065)" font-size="15.9" font-weight="bold" text-anchor="end">-0.5</text>
<text transform="translate(850.80,961.37) scale(1,1.065)" font-size="15.9" font-weight="bold" text-anchor="end">-1.0</text>
<text transform="translate(850.80,996.42) scale(1,1.065)" font-size="15.9" font-weight="bold" text-anchor="end">-1.5</text>
<text transform="translate(891.13,1010.40) scale(1,1.04)" font-size="14.6" font-weight="bold" text-anchor="middle">No stress</text>
<text transform="translate(961.40,1010.40) scale(1,1.04)" font-size="14.6" font-weight="bold" text-anchor="middle">CMS-vul</text>
<text transform="translate(1031.67,1010.40) scale(1,1.04)" font-size="14.6" font-weight="bold" text-anchor="middle">CMS-res</text>
<text transform="translate(961.40,755.70) scale(1,1.045)" font-size="20.9" font-weight="bold" text-anchor="middle">FBP</text>
<text x="961.90" y="941.88" font-size="24.2" font-weight="bold" text-anchor="middle" letter-spacing="1.0">*</text>
<text x="1032.17" y="974.08" font-size="24.2" font-weight="bold" text-anchor="middle" letter-spacing="1.0">*</text>
<rect x="1145.50" y="885.75" width="47.00" height="21.47" fill="#ffffff" stroke="#000" stroke-width="1.6"/>
<path d="M1169.00,907.22V937.74M1157.50,937.74H1180.50" stroke="#000" stroke-width="1.6" fill="none"/>
<rect x="1215.50" y="836.28" width="47.00" height="49.47" fill="#000000" stroke="#000" stroke-width="1.6"/>
<path d="M1239.00,836.28V815.76M1227.50,815.76H1250.50" stroke="#000" stroke-width="1.6" fill="none"/>
<rect x="1285.50" y="885.75" width="47.00" height="27.47" fill="#008000" stroke="#000" stroke-width="1.6"/>
<path d="M1309.00,913.22V934.80M1297.50,934.80H1320.50" stroke="#000" stroke-width="1.6" fill="none"/>
<rect x="1134.00" y="780.50" width="210.00" height="210.50" fill="none" stroke="#000" stroke-width="1.6"/>
<path d="M1134.00,885.75H1344.00" stroke="#000" stroke-width="1.6"/>
<path d="M1130.40,780.50H1134.00M1130.40,833.12H1134.00M1130.40,885.75H1134.00M1130.40,938.38H1134.00M1130.40,991.00H1134.00M1169.00,991.00V994.60M1239.00,991.00V994.60M1309.00,991.00V994.60" stroke="#000" stroke-width="1.6"/>
<text transform="translate(1128.80,785.92) scale(1,1.065)" font-size="15.9" font-weight="bold" text-anchor="end">1.0</text>
<text transform="translate(1128.80,838.54) scale(1,1.065)" font-size="15.9" font-weight="bold" text-anchor="end">0.5</text>
<text transform="translate(1128.80,891.17) scale(1,1.065)" font-size="15.9" font-weight="bold" text-anchor="end">0</text>
<text transform="translate(1128.80,943.79) scale(1,1.065)" font-size="15.9" font-weight="bold" text-anchor="end">-0.5</text>
<text transform="translate(1128.80,996.42) scale(1,1.065)" font-size="15.9" font-weight="bold" text-anchor="end">-1.0</text>
<text transform="translate(1169.00,1010.40) scale(1,1.04)" font-size="14.6" font-weight="bold" text-anchor="middle">No stress</text>
<text transform="translate(1239.00,1010.40) scale(1,1.04)" font-size="14.6" font-weight="bold" text-anchor="middle">CMS-vul</text>
<text transform="translate(1309.00,1010.40) scale(1,1.04)" font-size="14.6" font-weight="bold" text-anchor="middle">CMS-res</text>
<text transform="translate(1239.00,755.50) scale(1,1.045)" font-size="20.9" font-weight="bold" text-anchor="middle">DHAP/GAP</text>
<text x="1239.50" y="813.78" font-size="24.2" font-weight="bold" text-anchor="middle" letter-spacing="1.0">*</text>
<text x="1309.00" y="961.10" font-size="15.0" font-weight="bold" text-anchor="middle">#</text>
<rect x="1423.00" y="900.79" width="47.00" height="31.42" fill="#ffffff" stroke="#000" stroke-width="1.6"/>
<path d="M1446.50,932.21V966.19M1435.00,966.19H1458.00" stroke="#000" stroke-width="1.6" fill="none"/>
<rect x="1493.00" y="857.78" width="47.00" height="43.00" fill="#000000" stroke="#000" stroke-width="1.6"/>
<path d="M1516.50,857.78V826.36M1505.00,826.36H1528.00" stroke="#000" stroke-width="1.6" fill="none"/>
<rect x="1563.00" y="900.79" width="47.00" height="12.03" fill="#008000" stroke="#000" stroke-width="1.6"/>
<path d="M1586.50,912.81V917.33M1575.00,917.33H1598.00" stroke="#000" stroke-width="1.6" fill="none"/>
<rect x="1411.50" y="780.50" width="210.00" height="210.50" fill="none" stroke="#000" stroke-width="1.6"/>
<path d="M1411.50,900.79H1621.50" stroke="#000" stroke-width="1.6"/>
<path d="M1407.90,780.50H1411.50M1407.90,810.57H1411.50M1407.90,840.64H1411.50M1407.90,870.71H1411.50M1407.90,900.79H1411.50M1407.90,930.86H1411.50M1407.90,960.93H1411.50M1407.90,991.00H1411.50M1446.50,991.00V994.60M1516.50,991.00V994.60M1586.50,991.00V994.60" stroke="#000" stroke-width="1.6"/>
<text transform="translate(1406.30,785.92) scale(1,1.065)" font-size="15.9" font-weight="bold" text-anchor="end">0.8</text>
<text transform="translate(1406.30,815.99) scale(1,1.065)" font-size="15.9" font-weight="bold" text-anchor="end">0.6</text>
<text transform="translate(1406.30,846.06) scale(1,1.065)" font-size="15.9" font-weight="bold" text-anchor="end">0.4</text>
<text transform="translate(1406.30,876.13) scale(1,1.065)" font-size="15.9" font-weight="bold" text-anchor="end">0.2</text>
<text transform="translate(1406.30,906.20) scale(1,1.065)" font-size="15.9" font-weight="bold" text-anchor="end">0</text>
<text transform="translate(1406.30,936.28) scale(1,1.065)" font-size="15.9" font-weight="bold" text-anchor="end">-0.2</text>
<text transform="translate(1406.30,966.35) scale(1,1.065)" font-size="15.9" font-weight="bold" text-anchor="end">-0.4</text>
<text transform="translate(1406.30,996.42) scale(1,1.065)" font-size="15.9" font-weight="bold" text-anchor="end">-0.6</text>
<text transform="translate(1446.50,1010.40) scale(1,1.04)" font-size="14.6" font-weight="bold" text-anchor="middle">No stress</text>
<text transform="translate(1516.50,1010.40) scale(1,1.04)" font-size="14.6" font-weight="bold" text-anchor="middle">CMS-vul</text>
<text transform="translate(1586.50,1010.40) scale(1,1.04)" font-size="14.6" font-weight="bold" text-anchor="middle">CMS-res</text>
<text transform="translate(1516.50,755.50) scale(1,1.045)" font-size="20.9" font-weight="bold" text-anchor="middle">Lactate</text>
<text x="1517.00" y="824.78" font-size="24.2" font-weight="bold" text-anchor="middle" letter-spacing="1.0">*</text>
<text x="1586.50" y="940.10" font-size="15.0" font-weight="bold" text-anchor="middle">#</text>
<rect x="1700.50" y="885.75" width="47.00" height="41.99" fill="#ffffff" stroke="#000" stroke-width="1.6"/>
<path d="M1724.00,927.74V954.27M1712.50,954.27H1735.50" stroke="#000" stroke-width="1.6" fill="none"/>
<rect x="1770.50" y="843.76" width="47.00" height="41.99" fill="#000000" stroke="#000" stroke-width="1.6"/>
<path d="M1794.00,843.76V827.76M1782.50,827.76H1805.50" stroke="#000" stroke-width="1.6" fill="none"/>
<rect x="1840.50" y="885.75" width="47.00" height="0.01" fill="#008000" stroke="#000" stroke-width="1.6"/>
<path d="M1864.00,885.75V874.70M1852.50,874.70H1875.50" stroke="#000" stroke-width="1.6" fill="none"/>
<rect x="1689.00" y="780.50" width="210.00" height="210.50" fill="none" stroke="#000" stroke-width="1.6"/>
<path d="M1689.00,885.75H1899.00" stroke="#000" stroke-width="1.6"/>
<path d="M1685.40,780.50H1689.00M1685.40,833.12H1689.00M1685.40,885.75H1689.00M1685.40,938.38H1689.00M1685.40,991.00H1689.00M1724.00,991.00V994.60M1794.00,991.00V994.60M1864.00,991.00V994.60" stroke="#000" stroke-width="1.6"/>
<text transform="translate(1683.80,785.92) scale(1,1.065)" font-size="15.9" font-weight="bold" text-anchor="end">1.0</text>
<text transform="translate(1683.80,838.54) scale(1,1.065)" font-size="15.9" font-weight="bold" text-anchor="end">0.5</text>
<text transform="translate(1683.80,891.17) scale(1,1.065)" font-size="15.9" font-weight="bold" text-anchor="end">0</text>
<text transform="translate(1683.80,943.79) scale(1,1.065)" font-size="15.9" font-weight="bold" text-anchor="end">-0.5</text>
<text transform="translate(1683.80,996.42) scale(1,1.065)" font-size="15.9" font-weight="bold" text-anchor="end">-1.0</text>
<text transform="translate(1724.00,1010.40) scale(1,1.04)" font-size="14.6" font-weight="bold" text-anchor="middle">No stress</text>
<text transform="translate(1794.00,1010.40) scale(1,1.04)" font-size="14.6" font-weight="bold" text-anchor="middle">CMS-vul</text>
<text transform="translate(1864.00,1010.40) scale(1,1.04)" font-size="14.6" font-weight="bold" text-anchor="middle">CMS-res</text>
<text transform="translate(1794.00,755.50) scale(1,1.045)" font-size="20.9" font-weight="bold" text-anchor="middle">Gln</text>
<text x="1794.50" y="823.28" font-size="24.2" font-weight="bold" text-anchor="middle" letter-spacing="1.0">*</text>
<text x="1864.50" y="876.28" font-size="24.2" font-weight="bold" text-anchor="middle" letter-spacing="1.0">*</text>
<text x="1864.00" y="851.60" font-size="15.0" font-weight="bold" text-anchor="middle">#</text>
<rect x="605.22" y="1256.95" width="47.00" height="27.13" fill="#ffffff" stroke="#000" stroke-width="1.6"/>
<path d="M628.72,1284.08V1289.76M617.22,1289.76H640.22" stroke="#000" stroke-width="1.6" fill="none"/>
<rect x="675.45" y="1218.04" width="47.00" height="38.91" fill="#000000" stroke="#000" stroke-width="1.6"/>
<path d="M698.95,1218.04V1197.22M687.45,1197.22H710.45" stroke="#000" stroke-width="1.6" fill="none"/>
<rect x="745.68" y="1256.95" width="47.00" height="11.78" fill="#008000" stroke="#000" stroke-width="1.6"/>
<path d="M769.18,1268.73V1286.92M757.68,1286.92H780.68" stroke="#000" stroke-width="1.6" fill="none"/>
<rect x="593.60" y="1151.80" width="210.70" height="210.30" fill="none" stroke="#000" stroke-width="1.6"/>
<path d="M593.60,1256.95H804.30" stroke="#000" stroke-width="1.6"/>
<path d="M590.00,1151.80H593.60M590.00,1204.38H593.60M590.00,1256.95H593.60M590.00,1309.53H593.60M590.00,1362.10H593.60M628.72,1362.10V1365.70M698.95,1362.10V1365.70M769.18,1362.10V1365.70" stroke="#000" stroke-width="1.6"/>
<text transform="translate(588.40,1157.22) scale(1,1.065)" font-size="15.9" font-weight="bold" text-anchor="end">1.0</text>
<text transform="translate(588.40,1209.79) scale(1,1.065)" font-size="15.9" font-weight="bold" text-anchor="end">0.5</text>
<text transform="translate(588.40,1262.37) scale(1,1.065)" font-size="15.9" font-weight="bold" text-anchor="end">0</text>
<text transform="translate(588.40,1314.94) scale(1,1.065)" font-size="15.9" font-weight="bold" text-anchor="end">-0.5</text>
<text transform="translate(588.40,1367.52) scale(1,1.065)" font-size="15.9" font-weight="bold" text-anchor="end">-1.0</text>
<text transform="translate(628.72,1381.50) scale(1,1.04)" font-size="14.6" font-weight="bold" text-anchor="middle">No stress</text>
<text transform="translate(698.95,1381.50) scale(1,1.04)" font-size="14.6" font-weight="bold" text-anchor="middle">CMS-vul</text>
<text transform="translate(769.18,1381.50) scale(1,1.04)" font-size="14.6" font-weight="bold" text-anchor="middle">CMS-res</text>
<text transform="translate(698.95,1126.80) scale(1,1.045)" font-size="20.9" font-weight="bold" text-anchor="middle">AcCoA</text>
<text transform="translate(548.70,1256.95) rotate(-90)" font-size="19.95" text-anchor="middle">Relative metabolite levels</text>
<text x="699.45" y="1195.88" font-size="24.2" font-weight="bold" text-anchor="middle" letter-spacing="1.0">*</text>
<text x="769.18" y="1307.60" font-size="15.0" font-weight="bold" text-anchor="middle">#</text>
<rect x="867.63" y="1194.70" width="47.00" height="62.25" fill="#ffffff" stroke="#000" stroke-width="1.6"/>
<path d="M891.13,1194.70V1163.79M879.63,1163.79H902.63" stroke="#000" stroke-width="1.6" fill="none"/>
<rect x="937.90" y="1256.95" width="47.00" height="27.55" fill="#000000" stroke="#000" stroke-width="1.6"/>
<path d="M961.40,1284.50V1301.53M949.90,1301.53H972.90" stroke="#000" stroke-width="1.6" fill="none"/>
<rect x="1008.17" y="1256.95" width="47.00" height="35.75" fill="#008000" stroke="#000" stroke-width="1.6"/>
<path d="M1031.67,1292.70V1307.63M1020.17,1307.63H1043.17" stroke="#000" stroke-width="1.6" fill="none"/>
<rect x="856.00" y="1151.80" width="210.80" height="210.30" fill="none" stroke="#000" stroke-width="1.6"/>
<path d="M856.00,1256.95H1066.80" stroke="#000" stroke-width="1.6"/>
<path d="M852.40,1151.80H856.00M852.40,1204.38H856.00M852.40,1256.95H856.00M852.40,1309.53H856.00M852.40,1362.10H856.00M891.13,1362.10V1365.70M961.40,1362.10V1365.70M1031.67,1362.10V1365.70" stroke="#000" stroke-width="1.6"/>
<text transform="translate(850.80,1157.22) scale(1,1.065)" font-size="15.9" font-weight="bold" text-anchor="end">1.0</text>
<text transform="translate(850.80,1209.79) scale(1,1.065)" font-size="15.9" font-weight="bold" text-anchor="end">0.5</text>
<text transform="translate(850.80,1262.37) scale(1,1.065)" font-size="15.9" font-weight="bold" text-anchor="end">0</text>
<text transform="translate(850.80,1314.94) scale(1,1.065)" font-size="15.9" font-weight="bold" text-anchor="end">-0.5</text>
<text transform="translate(850.80,1367.52) scale(1,1.065)" font-size="15.9" font-weight="bold" text-anchor="end">-1.0</text>
<text transform="translate(891.13,1381.50) scale(1,1.04)" font-size="14.6" font-weight="bold" text-anchor="middle">No stress</text>
<text transform="translate(961.40,1381.50) scale(1,1.04)" font-size="14.6" font-weight="bold" text-anchor="middle">CMS-vul</text>
<text transform="translate(1031.67,1381.50) scale(1,1.04)" font-size="14.6" font-weight="bold" text-anchor="middle">CMS-res</text>
<text transform="translate(961.40,1126.80) scale(1,1.045)" font-size="20.9" font-weight="bold" text-anchor="middle">Citrate</text>
<text x="961.90" y="1326.88" font-size="24.2" font-weight="bold" text-anchor="middle" letter-spacing="1.0">*</text>
<text x="1032.17" y="1333.28" font-size="24.2" font-weight="bold" text-anchor="middle" letter-spacing="1.0">*</text>
<rect x="1145.50" y="1230.82" width="47.00" height="46.48" fill="#ffffff" stroke="#000" stroke-width="1.6"/>
<path d="M1169.00,1230.82V1195.79M1157.50,1195.79H1180.50" stroke="#000" stroke-width="1.6" fill="none"/>
<rect x="1215.50" y="1277.30" width="47.00" height="20.97" fill="#000000" stroke="#000" stroke-width="1.6"/>
<path d="M1239.00,1298.27V1322.26M1227.50,1322.26H1250.50" stroke="#000" stroke-width="1.6" fill="none"/>
<rect x="1285.50" y="1277.30" width="47.00" height="26.94" fill="#008000" stroke="#000" stroke-width="1.6"/>
<path d="M1309.00,1304.24V1313.84M1297.50,1313.84H1320.50" stroke="#000" stroke-width="1.6" fill="none"/>
<rect x="1134.00" y="1151.00" width="210.00" height="210.50" fill="none" stroke="#000" stroke-width="1.6"/>
<path d="M1134.00,1277.30H1344.00" stroke="#000" stroke-width="1.6"/>
<path d="M1130.40,1151.00H1134.00M1130.40,1193.10H1134.00M1130.40,1235.20H1134.00M1130.40,1277.30H1134.00M1130.40,1319.40H1134.00M1130.40,1361.50H1134.00M1169.00,1361.50V1365.10M1239.00,1361.50V1365.10M1309.00,1361.50V1365.10" stroke="#000" stroke-width="1.6"/>
<text transform="translate(1128.80,1156.42) scale(1,1.065)" font-size="15.9" font-weight="bold" text-anchor="end">1.5</text>
<text transform="translate(1128.80,1198.52) scale(1,1.065)" font-size="15.9" font-weight="bold" text-anchor="end">1.0</text>
<text transform="translate(1128.80,1240.62) scale(1,1.065)" font-size="15.9" font-weight="bold" text-anchor="end">0.5</text>
<text transform="translate(1128.80,1282.72) scale(1,1.065)" font-size="15.9" font-weight="bold" text-anchor="end">0</text>
<text transform="translate(1128.80,1324.82) scale(1,1.065)" font-size="15.9" font-weight="bold" text-anchor="end">-0.5</text>
<text transform="translate(1128.80,1366.92) scale(1,1.065)" font-size="15.9" font-weight="bold" text-anchor="end">-1.0</text>
<text transform="translate(1169.00,1380.90) scale(1,1.04)" font-size="14.6" font-weight="bold" text-anchor="middle">No stress</text>
<text transform="translate(1239.00,1380.90) scale(1,1.04)" font-size="14.6" font-weight="bold" text-anchor="middle">CMS-vul</text>
<text transform="translate(1309.00,1380.90) scale(1,1.04)" font-size="14.6" font-weight="bold" text-anchor="middle">CMS-res</text>
<text transform="translate(1239.00,1126.00) scale(1,1.045)" font-size="20.9" font-weight="bold" text-anchor="middle">Iso-citrate</text>
<text x="1239.50" y="1354.78" font-size="24.2" font-weight="bold" text-anchor="middle" letter-spacing="1.0">*</text>
<text x="1309.50" y="1342.28" font-size="24.2" font-weight="bold" text-anchor="middle" letter-spacing="1.0">*</text>
<rect x="1423.00" y="1256.25" width="47.00" height="63.99" fill="#ffffff" stroke="#000" stroke-width="1.6"/>
<path d="M1446.50,1320.24V1338.77M1435.00,1338.77H1458.00" stroke="#000" stroke-width="1.6" fill="none"/>
<rect x="1493.00" y="1210.78" width="47.00" height="45.47" fill="#000000" stroke="#000" stroke-width="1.6"/>
<path d="M1516.50,1210.78V1203.77M1505.00,1203.77H1528.00" stroke="#000" stroke-width="1.6" fill="none"/>
<rect x="1563.00" y="1238.78" width="47.00" height="17.47" fill="#008000" stroke="#000" stroke-width="1.6"/>
<path d="M1586.50,1238.78V1202.22M1575.00,1202.22H1598.00" stroke="#000" stroke-width="1.6" fill="none"/>
<rect x="1411.50" y="1151.00" width="210.00" height="210.50" fill="none" stroke="#000" stroke-width="1.6"/>
<path d="M1411.50,1256.25H1621.50" stroke="#000" stroke-width="1.6"/>
<path d="M1407.90,1151.00H1411.50M1407.90,1186.08H1411.50M1407.90,1221.17H1411.50M1407.90,1256.25H1411.50M1407.90,1291.33H1411.50M1407.90,1326.42H1411.50M1407.90,1361.50H1411.50M1446.50,1361.50V1365.10M1516.50,1361.50V1365.10M1586.50,1361.50V1365.10" stroke="#000" stroke-width="1.6"/>
<text transform="translate(1406.30,1156.42) scale(1,1.065)" font-size="15.9" font-weight="bold" text-anchor="end">1.5</text>
<text transform="translate(1406.30,1191.50) scale(1,1.065)" font-size="15.9" font-weight="bold" text-anchor="end">1.0</text>
<text transform="translate(1406.30,1226.59) scale(1,1.065)" font-size="15.9" font-weight="bold" text-anchor="end">0.5</text>
<text transform="translate(1406.30,1261.67) scale(1,1.065)" font-size="15.9" font-weight="bold" text-anchor="end">0</text>
<text transform="translate(1406.30,1296.75) scale(1,1.065)" font-size="15.9" font-weight="bold" text-anchor="end">-0.5</text>
<text transform="translate(1406.30,1331.84) scale(1,1.065)" font-size="15.9" font-weight="bold" text-anchor="end">-1.0</text>
<text transform="translate(1406.30,1366.92) scale(1,1.065)" font-size="15.9" font-weight="bold" text-anchor="end">-1.5</text>
<text transform="translate(1446.50,1380.90) scale(1,1.04)" font-size="14.6" font-weight="bold" text-anchor="middle">No stress</text>
<text transform="translate(1516.50,1380.90) scale(1,1.04)" font-size="14.6" font-weight="bold" text-anchor="middle">CMS-vul</text>
<text transform="translate(1586.50,1380.90) scale(1,1.04)" font-size="14.6" font-weight="bold" text-anchor="middle">CMS-res</text>
<text transform="translate(1516.50,1126.00) scale(1,1.045)" font-size="20.9" font-weight="bold" text-anchor="middle">Succinate</text>
<text x="1517.00" y="1201.28" font-size="24.2" font-weight="bold" text-anchor="middle" letter-spacing="1.0">*</text>
<text x="1587.00" y="1197.28" font-size="24.2" font-weight="bold" text-anchor="middle" letter-spacing="1.0">*</text>
<rect x="1700.50" y="1256.25" width="47.00" height="53.99" fill="#ffffff" stroke="#000" stroke-width="1.6"/>
<path d="M1724.00,1310.24V1333.29M1712.50,1333.29H1735.50" stroke="#000" stroke-width="1.6" fill="none"/>
<rect x="1770.50" y="1217.73" width="47.00" height="38.52" fill="#000000" stroke="#000" stroke-width="1.6"/>
<path d="M1794.00,1217.73V1196.26M1782.50,1196.26H1805.50" stroke="#000" stroke-width="1.6" fill="none"/>
<rect x="1840.50" y="1242.25" width="47.00" height="14.00" fill="#008000" stroke="#000" stroke-width="1.6"/>
<path d="M1864.00,1242.25V1235.73M1852.50,1235.73H1875.50" stroke="#000" stroke-width="1.6" fill="none"/>
<rect x="1689.00" y="1151.00" width="210.00" height="210.50" fill="none" stroke="#000" stroke-width="1.6"/>
<path d="M1689.00,1256.25H1899.00" stroke="#000" stroke-width="1.6"/>
<path d="M1685.40,1151.00H1689.00M1685.40,1203.62H1689.00M1685.40,1256.25H1689.00M1685.40,1308.88H1689.00M1685.40,1361.50H1689.00M1724.00,1361.50V1365.10M1794.00,1361.50V1365.10M1864.00,1361.50V1365.10" stroke="#000" stroke-width="1.6"/>
<text transform="translate(1683.80,1156.42) scale(1,1.065)" font-size="15.9" font-weight="bold" text-anchor="end">1.0</text>
<text transform="translate(1683.80,1209.04) scale(1,1.065)" font-size="15.9" font-weight="bold" text-anchor="end">0.5</text>
<text transform="translate(1683.80,1261.67) scale(1,1.065)" font-size="15.9" font-weight="bold" text-anchor="end">0</text>
<text transform="translate(1683.80,1314.29) scale(1,1.065)" font-size="15.9" font-weight="bold" text-anchor="end">-0.5</text>
<text transform="translate(1683.80,1366.92) scale(1,1.065)" font-size="15.9" font-weight="bold" text-anchor="end">-1.0</text>
<text transform="translate(1724.00,1380.90) scale(1,1.04)" font-size="14.6" font-weight="bold" text-anchor="middle">No stress</text>
<text transform="translate(1794.00,1380.90) scale(1,1.04)" font-size="14.6" font-weight="bold" text-anchor="middle">CMS-vul</text>
<text transform="translate(1864.00,1380.90) scale(1,1.04)" font-size="14.6" font-weight="bold" text-anchor="middle">CMS-res</text>
<text transform="translate(1794.00,1126.00) scale(1,1.045)" font-size="20.9" font-weight="bold" text-anchor="middle">Glu</text>
<text x="1794.50" y="1193.78" font-size="24.2" font-weight="bold" text-anchor="middle" letter-spacing="1.0">*</text>
<text x="1864.50" y="1237.28" font-size="24.2" font-weight="bold" text-anchor="middle" letter-spacing="1.0">*</text>
<text x="1864.00" y="1214.10" font-size="15.0" font-weight="bold" text-anchor="middle">#</text>
<rect x="605.22" y="1651.58" width="47.00" height="54.01" fill="#ffffff" stroke="#000" stroke-width="1.6"/>
<path d="M628.72,1705.59V1727.04M617.22,1727.04H640.22" stroke="#000" stroke-width="1.6" fill="none"/>
<rect x="675.45" y="1609.77" width="47.00" height="41.81" fill="#000000" stroke="#000" stroke-width="1.6"/>
<path d="M698.95,1609.77V1580.58M687.45,1580.58H710.45" stroke="#000" stroke-width="1.6" fill="none"/>
<rect x="745.68" y="1640.14" width="47.00" height="11.44" fill="#008000" stroke="#000" stroke-width="1.6"/>
<path d="M769.18,1640.14V1615.58M757.68,1615.58H780.68" stroke="#000" stroke-width="1.6" fill="none"/>
<rect x="593.60" y="1525.40" width="210.70" height="210.30" fill="none" stroke="#000" stroke-width="1.6"/>
<path d="M593.60,1651.58H804.30" stroke="#000" stroke-width="1.6"/>
<path d="M590.00,1525.40H593.60M590.00,1567.46H593.60M590.00,1609.52H593.60M590.00,1651.58H593.60M590.00,1693.64H593.60M590.00,1735.70H593.60M628.72,1735.70V1739.30M698.95,1735.70V1739.30M769.18,1735.70V1739.30" stroke="#000" stroke-width="1.6"/>
<text transform="translate(588.40,1530.82) scale(1,1.065)" font-size="15.9" font-weight="bold" text-anchor="end">1.5</text>
<text transform="translate(588.40,1572.88) scale(1,1.065)" font-size="15.9" font-weight="bold" text-anchor="end">1.0</text>
<text transform="translate(588.40,1614.94) scale(1,1.065)" font-size="15.9" font-weight="bold" text-anchor="end">0.5</text>
<text transform="translate(588.40,1657.00) scale(1,1.065)" font-size="15.9" font-weight="bold" text-anchor="end">0</text>
<text transform="translate(588.40,1699.06) scale(1,1.065)" font-size="15.9" font-weight="bold" text-anchor="end">-0.5</text>
<text transform="translate(588.40,1741.12) scale(1,1.065)" font-size="15.9" font-weight="bold" text-anchor="end">-1.0</text>
<text transform="translate(628.72,1755.10) scale(1,1.04)" font-size="14.6" font-weight="bold" text-anchor="middle">No stress</text>
<text transform="translate(698.95,1755.10) scale(1,1.04)" font-size="14.6" font-weight="bold" text-anchor="middle">CMS-vul</text>
<text transform="translate(769.18,1755.10) scale(1,1.04)" font-size="14.6" font-weight="bold" text-anchor="middle">CMS-res</text>
<text transform="translate(698.95,1500.40) scale(1,1.045)" font-size="20.9" font-weight="bold" text-anchor="middle">C4-Carnitine</text>
<text transform="translate(548.70,1630.55) rotate(-90)" font-size="19.95" text-anchor="middle">Relative metabolite levels</text>
<text x="699.45" y="1579.38" font-size="24.2" font-weight="bold" text-anchor="middle" letter-spacing="1.0">*</text>
<text x="769.68" y="1613.28" font-size="24.2" font-weight="bold" text-anchor="middle" letter-spacing="1.0">*</text>
<rect x="867.63" y="1630.55" width="47.00" height="57.10" fill="#ffffff" stroke="#000" stroke-width="1.6"/>
<path d="M891.13,1687.65V1729.71M879.63,1729.71H902.63" stroke="#000" stroke-width="1.6" fill="none"/>
<rect x="937.90" y="1585.13" width="47.00" height="45.42" fill="#000000" stroke="#000" stroke-width="1.6"/>
<path d="M961.40,1585.13V1560.84M949.90,1560.84H972.90" stroke="#000" stroke-width="1.6" fill="none"/>
<rect x="1008.17" y="1619.09" width="47.00" height="11.46" fill="#008000" stroke="#000" stroke-width="1.6"/>
<path d="M1031.67,1619.09V1594.06M1020.17,1594.06H1043.17" stroke="#000" stroke-width="1.6" fill="none"/>
<rect x="856.00" y="1525.40" width="210.80" height="210.30" fill="none" stroke="#000" stroke-width="1.6"/>
<path d="M856.00,1630.55H1066.80" stroke="#000" stroke-width="1.6"/>
<path d="M852.40,1525.40H856.00M852.40,1577.98H856.00M852.40,1630.55H856.00M852.40,1683.12H856.00M852.40,1735.70H856.00M891.13,1735.70V1739.30M961.40,1735.70V1739.30M1031.67,1735.70V1739.30" stroke="#000" stroke-width="1.6"/>
<text transform="translate(850.80,1530.82) scale(1,1.065)" font-size="15.9" font-weight="bold" text-anchor="end">1.0</text>
<text transform="translate(850.80,1583.39) scale(1,1.065)" font-size="15.9" font-weight="bold" text-anchor="end">0.5</text>
<text transform="translate(850.80,1635.97) scale(1,1.065)" font-size="15.9" font-weight="bold" text-anchor="end">0</text>
<text transform="translate(850.80,1688.54) scale(1,1.065)" font-size="15.9" font-weight="bold" text-anchor="end">-0.5</text>
<text transform="translate(850.80,1741.12) scale(1,1.065)" font-size="15.9" font-weight="bold" text-anchor="end">-1.0</text>
<text transform="translate(891.13,1755.10) scale(1,1.04)" font-size="14.6" font-weight="bold" text-anchor="middle">No stress</text>
<text transform="translate(961.40,1755.10) scale(1,1.04)" font-size="14.6" font-weight="bold" text-anchor="middle">CMS-vul</text>
<text transform="translate(1031.67,1755.10) scale(1,1.04)" font-size="14.6" font-weight="bold" text-anchor="middle">CMS-res</text>
<text transform="translate(961.40,1500.40) scale(1,1.045)" font-size="20.9" font-weight="bold" text-anchor="middle">C5-Carnitine</text>
<text x="961.90" y="1559.38" font-size="24.2" font-weight="bold" text-anchor="middle" letter-spacing="1.0">*</text>
<text x="1032.17" y="1590.18" font-size="24.2" font-weight="bold" text-anchor="middle" letter-spacing="1.0">*</text>
<rect x="1145.50" y="1609.00" width="47.00" height="39.98" fill="#ffffff" stroke="#000" stroke-width="1.6"/>
<path d="M1169.00,1648.98V1694.51M1157.50,1694.51H1180.50" stroke="#000" stroke-width="1.6" fill="none"/>
<rect x="1215.50" y="1603.96" width="47.00" height="5.04" fill="#000000" stroke="#000" stroke-width="1.6"/>
<path d="M1239.00,1603.96V1591.53M1227.50,1591.53H1250.50" stroke="#000" stroke-width="1.6" fill="none"/>
<rect x="1285.50" y="1575.48" width="47.00" height="33.52" fill="#008000" stroke="#000" stroke-width="1.6"/>
<path d="M1309.00,1575.48V1552.47M1297.50,1552.47H1320.50" stroke="#000" stroke-width="1.6" fill="none"/>
<rect x="1134.00" y="1525.00" width="210.00" height="210.00" fill="none" stroke="#000" stroke-width="1.6"/>
<path d="M1134.00,1609.00H1344.00" stroke="#000" stroke-width="1.6"/>
<path d="M1130.40,1525.00H1134.00M1130.40,1567.00H1134.00M1130.40,1609.00H1134.00M1130.40,1651.00H1134.00M1130.40,1693.00H1134.00M1130.40,1735.00H1134.00M1169.00,1735.00V1738.60M1239.00,1735.00V1738.60M1309.00,1735.00V1738.60" stroke="#000" stroke-width="1.6"/>
<text transform="translate(1128.80,1530.42) scale(1,1.065)" font-size="15.9" font-weight="bold" text-anchor="end">1.0</text>
<text transform="translate(1128.80,1572.42) scale(1,1.065)" font-size="15.9" font-weight="bold" text-anchor="end">0.5</text>
<text transform="translate(1128.80,1614.42) scale(1,1.065)" font-size="15.9" font-weight="bold" text-anchor="end">0</text>
<text transform="translate(1128.80,1656.42) scale(1,1.065)" font-size="15.9" font-weight="bold" text-anchor="end">-0.5</text>
<text transform="translate(1128.80,1698.42) scale(1,1.065)" font-size="15.9" font-weight="bold" text-anchor="end">-1.0</text>
<text transform="translate(1128.80,1740.42) scale(1,1.065)" font-size="15.9" font-weight="bold" text-anchor="end">-1.5</text>
<text transform="translate(1169.00,1754.40) scale(1,1.04)" font-size="14.6" font-weight="bold" text-anchor="middle">No stress</text>
<text transform="translate(1239.00,1754.40) scale(1,1.04)" font-size="14.6" font-weight="bold" text-anchor="middle">CMS-vul</text>
<text transform="translate(1309.00,1754.40) scale(1,1.04)" font-size="14.6" font-weight="bold" text-anchor="middle">CMS-res</text>
<text transform="translate(1239.00,1500.00) scale(1,1.045)" font-size="20.9" font-weight="bold" text-anchor="middle">C6-Carnitine</text>
<text x="1239.50" y="1592.28" font-size="24.2" font-weight="bold" text-anchor="middle" letter-spacing="1.0">*</text>
<text x="1309.50" y="1551.28" font-size="24.2" font-weight="bold" text-anchor="middle" letter-spacing="1.0">*</text>
<rect x="1423.00" y="1630.00" width="47.00" height="55.96" fill="#ffffff" stroke="#000" stroke-width="1.6"/>
<path d="M1446.50,1685.96V1710.54M1435.00,1710.54H1458.00" stroke="#000" stroke-width="1.6" fill="none"/>
<rect x="1493.00" y="1588.00" width="47.00" height="42.00" fill="#000000" stroke="#000" stroke-width="1.6"/>
<path d="M1516.50,1588.00V1555.45M1505.00,1555.45H1528.00" stroke="#000" stroke-width="1.6" fill="none"/>
<rect x="1563.00" y="1618.03" width="47.00" height="11.97" fill="#008000" stroke="#000" stroke-width="1.6"/>
<path d="M1586.50,1618.03V1574.98M1575.00,1574.98H1598.00" stroke="#000" stroke-width="1.6" fill="none"/>
<rect x="1411.50" y="1525.00" width="210.00" height="210.00" fill="none" stroke="#000" stroke-width="1.6"/>
<path d="M1411.50,1630.00H1621.50" stroke="#000" stroke-width="1.6"/>
<path d="M1407.90,1525.00H1411.50M1407.90,1577.50H1411.50M1407.90,1630.00H1411.50M1407.90,1682.50H1411.50M1407.90,1735.00H1411.50M1446.50,1735.00V1738.60M1516.50,1735.00V1738.60M1586.50,1735.00V1738.60" stroke="#000" stroke-width="1.6"/>
<text transform="translate(1406.30,1530.42) scale(1,1.065)" font-size="15.9" font-weight="bold" text-anchor="end">1.0</text>
<text transform="translate(1406.30,1582.92) scale(1,1.065)" font-size="15.9" font-weight="bold" text-anchor="end">0.5</text>
<text transform="translate(1406.30,1635.42) scale(1,1.065)" font-size="15.9" font-weight="bold" text-anchor="end">0</text>
<text transform="translate(1406.30,1687.92) scale(1,1.065)" font-size="15.9" font-weight="bold" text-anchor="end">-0.5</text>
<text transform="translate(1406.30,1740.42) scale(1,1.065)" font-size="15.9" font-weight="bold" text-anchor="end">-1.0</text>
<text transform="translate(1446.50,1754.40) scale(1,1.04)" font-size="14.6" font-weight="bold" text-anchor="middle">No stress</text>
<text transform="translate(1516.50,1754.40) scale(1,1.04)" font-size="14.6" font-weight="bold" text-anchor="middle">CMS-vul</text>
<text transform="translate(1586.50,1754.40) scale(1,1.04)" font-size="14.6" font-weight="bold" text-anchor="middle">CMS-res</text>
<text transform="translate(1516.50,1500.00) scale(1,1.045)" font-size="20.9" font-weight="bold" text-anchor="middle">C12-Carnitine</text>
<text x="1517.00" y="1554.78" font-size="24.2" font-weight="bold" text-anchor="middle" letter-spacing="1.0">*</text>
<text x="1587.00" y="1573.28" font-size="24.2" font-weight="bold" text-anchor="middle" letter-spacing="1.0">*</text>
<rect x="1700.50" y="1630.00" width="47.00" height="57.54" fill="#ffffff" stroke="#000" stroke-width="1.6"/>
<path d="M1724.00,1687.54V1719.46M1712.50,1719.46H1735.50" stroke="#000" stroke-width="1.6" fill="none"/>
<rect x="1770.50" y="1589.05" width="47.00" height="40.95" fill="#000000" stroke="#000" stroke-width="1.6"/>
<path d="M1794.00,1589.05V1559.55M1782.50,1559.55H1805.50" stroke="#000" stroke-width="1.6" fill="none"/>
<rect x="1840.50" y="1615.51" width="47.00" height="14.49" fill="#008000" stroke="#000" stroke-width="1.6"/>
<path d="M1864.00,1615.51V1590.52M1852.50,1590.52H1875.50" stroke="#000" stroke-width="1.6" fill="none"/>
<rect x="1689.00" y="1525.00" width="210.00" height="210.00" fill="none" stroke="#000" stroke-width="1.6"/>
<path d="M1689.00,1630.00H1899.00" stroke="#000" stroke-width="1.6"/>
<path d="M1685.40,1525.00H1689.00M1685.40,1577.50H1689.00M1685.40,1630.00H1689.00M1685.40,1682.50H1689.00M1685.40,1735.00H1689.00M1724.00,1735.00V1738.60M1794.00,1735.00V1738.60M1864.00,1735.00V1738.60" stroke="#000" stroke-width="1.6"/>
<text transform="translate(1683.80,1530.42) scale(1,1.065)" font-size="15.9" font-weight="bold" text-anchor="end">1.0</text>
<text transform="translate(1683.80,1582.92) scale(1,1.065)" font-size="15.9" font-weight="bold" text-anchor="end">0.5</text>
<text transform="translate(1683.80,1635.42) scale(1,1.065)" font-size="15.9" font-weight="bold" text-anchor="end">0</text>
<text transform="translate(1683.80,1687.92) scale(1,1.065)" font-size="15.9" font-weight="bold" text-anchor="end">-0.5</text>
<text transform="translate(1683.80,1740.42) scale(1,1.065)" font-size="15.9" font-weight="bold" text-anchor="end">-1.0</text>
<text transform="translate(1724.00,1754.40) scale(1,1.04)" font-size="14.6" font-weight="bold" text-anchor="middle">No stress</text>
<text transform="translate(1794.00,1754.40) scale(1,1.04)" font-size="14.6" font-weight="bold" text-anchor="middle">CMS-vul</text>
<text transform="translate(1864.00,1754.40) scale(1,1.04)" font-size="14.6" font-weight="bold" text-anchor="middle">CMS-res</text>
<text transform="translate(1794.00,1500.00) scale(1,1.045)" font-size="20.9" font-weight="bold" text-anchor="middle">C16:0-Carnitine</text>
<text x="1794.50" y="1558.28" font-size="24.2" font-weight="bold" text-anchor="middle" letter-spacing="1.0">*</text>
<text x="1864.50" y="1590.78" font-size="24.2" font-weight="bold" text-anchor="middle" letter-spacing="1.0">*</text>
<rect x="605.22" y="1955.90" width="47.00" height="51.13" fill="#ffffff" stroke="#000" stroke-width="1.6"/>
<path d="M628.72,2007.03V2024.49M617.22,2024.49H640.22" stroke="#000" stroke-width="1.6" fill="none"/>
<rect x="675.45" y="1925.18" width="47.00" height="30.72" fill="#000000" stroke="#000" stroke-width="1.6"/>
<path d="M698.95,1925.18V1903.30M687.45,1903.30H710.45" stroke="#000" stroke-width="1.6" fill="none"/>
<rect x="745.68" y="1935.91" width="47.00" height="19.99" fill="#008000" stroke="#000" stroke-width="1.6"/>
<path d="M769.18,1935.91V1913.08M757.68,1913.08H780.68" stroke="#000" stroke-width="1.6" fill="none"/>
<rect x="593.60" y="1850.70" width="210.70" height="210.40" fill="none" stroke="#000" stroke-width="1.6"/>
<path d="M593.60,1955.90H804.30" stroke="#000" stroke-width="1.6"/>
<path d="M590.00,1850.70H593.60M590.00,1903.30H593.60M590.00,1955.90H593.60M590.00,2008.50H593.60M590.00,2061.10H593.60M628.72,2061.10V2064.70M698.95,2061.10V2064.70M769.18,2061.10V2064.70" stroke="#000" stroke-width="1.6"/>
<text transform="translate(588.40,1856.12) scale(1,1.065)" font-size="15.9" font-weight="bold" text-anchor="end">1.0</text>
<text transform="translate(588.40,1908.72) scale(1,1.065)" font-size="15.9" font-weight="bold" text-anchor="end">0.5</text>
<text transform="translate(588.40,1961.32) scale(1,1.065)" font-size="15.9" font-weight="bold" text-anchor="end">0</text>
<text transform="translate(588.40,2013.92) scale(1,1.065)" font-size="15.9" font-weight="bold" text-anchor="end">-0.5</text>
<text transform="translate(588.40,2066.52) scale(1,1.065)" font-size="15.9" font-weight="bold" text-anchor="end">-1.0</text>
<text transform="translate(628.72,2080.50) scale(1,1.04)" font-size="14.6" font-weight="bold" text-anchor="middle">No stress</text>
<text transform="translate(698.95,2080.50) scale(1,1.04)" font-size="14.6" font-weight="bold" text-anchor="middle">CMS-vul</text>
<text transform="translate(769.18,2080.50) scale(1,1.04)" font-size="14.6" font-weight="bold" text-anchor="middle">CMS-res</text>
<text transform="translate(698.95,1825.70) scale(1,1.045)" font-size="20.9" font-weight="bold" text-anchor="middle">C18:0-carnitine</text>
<text transform="translate(548.70,1955.90) rotate(-90)" font-size="19.95" text-anchor="middle">Relative metabolite levels</text>
<text x="699.45" y="1901.58" font-size="24.2" font-weight="bold" text-anchor="middle" letter-spacing="1.0">*</text>
<text x="769.68" y="1911.58" font-size="24.2" font-weight="bold" text-anchor="middle" letter-spacing="1.0">*</text>
<rect x="867.63" y="1955.90" width="47.00" height="53.65" fill="#ffffff" stroke="#000" stroke-width="1.6"/>
<path d="M891.13,2009.55V2039.85M879.63,2039.85H902.63" stroke="#000" stroke-width="1.6" fill="none"/>
<rect x="937.90" y="1915.92" width="47.00" height="39.98" fill="#000000" stroke="#000" stroke-width="1.6"/>
<path d="M961.40,1915.92V1883.73M949.90,1883.73H972.90" stroke="#000" stroke-width="1.6" fill="none"/>
<rect x="1008.17" y="1943.07" width="47.00" height="12.83" fill="#008000" stroke="#000" stroke-width="1.6"/>
<path d="M1031.67,1943.07V1906.98M1020.17,1906.98H1043.17" stroke="#000" stroke-width="1.6" fill="none"/>
<rect x="856.00" y="1850.70" width="210.80" height="210.40" fill="none" stroke="#000" stroke-width="1.6"/>
<path d="M856.00,1955.90H1066.80" stroke="#000" stroke-width="1.6"/>
<path d="M852.40,1850.70H856.00M852.40,1903.30H856.00M852.40,1955.90H856.00M852.40,2008.50H856.00M852.40,2061.10H856.00M891.13,2061.10V2064.70M961.40,2061.10V2064.70M1031.67,2061.10V2064.70" stroke="#000" stroke-width="1.6"/>
<text transform="translate(850.80,1856.12) scale(1,1.065)" font-size="15.9" font-weight="bold" text-anchor="end">1.0</text>
<text transform="translate(850.80,1908.72) scale(1,1.065)" font-size="15.9" font-weight="bold" text-anchor="end">0.5</text>
<text transform="translate(850.80,1961.32) scale(1,1.065)" font-size="15.9" font-weight="bold" text-anchor="end">0</text>
<text transform="translate(850.80,2013.92) scale(1,1.065)" font-size="15.9" font-weight="bold" text-anchor="end">-0.5</text>
<text transform="translate(850.80,2066.52) scale(1,1.065)" font-size="15.9" font-weight="bold" text-anchor="end">-1.0</text>
<text transform="translate(891.13,2080.50) scale(1,1.04)" font-size="14.6" font-weight="bold" text-anchor="middle">No stress</text>
<text transform="translate(961.40,2080.50) scale(1,1.04)" font-size="14.6" font-weight="bold" text-anchor="middle">CMS-vul</text>
<text transform="translate(1031.67,2080.50) scale(1,1.04)" font-size="14.6" font-weight="bold" text-anchor="middle">CMS-res</text>
<text transform="translate(961.40,1825.70) scale(1,1.045)" font-size="20.9" font-weight="bold" text-anchor="middle">C18:1-Carnitine</text>
<text x="961.90" y="1880.18" font-size="24.2" font-weight="bold" text-anchor="middle" letter-spacing="1.0">*</text>
<text x="1032.17" y="1899.08" font-size="24.2" font-weight="bold" text-anchor="middle" letter-spacing="1.0">*</text>
<rect x="1339.17" y="1920.95" width="47.00" height="140.05" fill="#ffffff" stroke="#000" stroke-width="1.6"/>
<path d="M1362.67,1920.95V1904.95M1351.17,1904.95H1374.17" stroke="#000" stroke-width="1.6" fill="none"/>
<rect x="1409.50" y="2034.48" width="47.00" height="26.52" fill="#000000" stroke="#000" stroke-width="1.6"/>
<path d="M1433.00,2034.48V2028.44M1421.50,2028.44H1444.50" stroke="#000" stroke-width="1.6" fill="none"/>
<rect x="1479.83" y="2040.93" width="47.00" height="20.07" fill="#008000" stroke="#000" stroke-width="1.6"/>
<path d="M1503.33,2040.93V2031.53M1491.83,2031.53H1514.83" stroke="#000" stroke-width="1.6" fill="none"/>
<rect x="1327.50" y="1850.50" width="211.00" height="210.50" fill="none" stroke="#000" stroke-width="1.6"/>
<path d="M1323.90,1850.50H1327.50M1323.90,1920.67H1327.50M1323.90,1990.83H1327.50M1323.90,2061.00H1327.50M1362.67,2061.00V2064.60M1433.00,2061.00V2064.60M1503.33,2061.00V2064.60" stroke="#000" stroke-width="1.6"/>
<text transform="translate(1322.30,1855.92) scale(1,1.065)" font-size="15.9" font-weight="bold" text-anchor="end">1.5</text>
<text transform="translate(1322.30,1926.09) scale(1,1.065)" font-size="15.9" font-weight="bold" text-anchor="end">1.0</text>
<text transform="translate(1322.30,1996.25) scale(1,1.065)" font-size="15.9" font-weight="bold" text-anchor="end">0.5</text>
<text transform="translate(1322.30,2066.42) scale(1,1.065)" font-size="15.9" font-weight="bold" text-anchor="end">0</text>
<text transform="translate(1362.67,2080.40) scale(1,1.04)" font-size="14.6" font-weight="bold" text-anchor="middle">No stress</text>
<text transform="translate(1433.00,2080.40) scale(1,1.04)" font-size="14.6" font-weight="bold" text-anchor="middle">CMS-vul</text>
<text transform="translate(1503.33,2080.40) scale(1,1.04)" font-size="14.6" font-weight="bold" text-anchor="middle">CMS-res</text>
<text transform="translate(1433.00,1826.50) scale(1,1.045)" font-size="20.9" font-weight="bold" text-anchor="middle">ATP Energy Charge</text>
<text transform="translate(1287.50,1955.75) rotate(-90)" font-size="19.95" text-anchor="middle">Ratio fold change</text>
<text x="1433.50" y="2029.78" font-size="24.2" font-weight="bold" text-anchor="middle" letter-spacing="1.0">***</text>
<text x="1503.83" y="2032.28" font-size="24.2" font-weight="bold" text-anchor="middle" letter-spacing="1.0">***</text>
<rect x="1651.75" y="2035.00" width="47.00" height="26.00" fill="#ffffff" stroke="#000" stroke-width="1.6"/>
<path d="M1675.25,2035.00V2026.00M1663.75,2026.00H1686.75" stroke="#000" stroke-width="1.6" fill="none"/>
<rect x="1721.25" y="1925.02" width="47.00" height="135.98" fill="#000000" stroke="#000" stroke-width="1.6"/>
<path d="M1744.75,1925.02V1887.58M1733.25,1887.58H1756.25" stroke="#000" stroke-width="1.6" fill="none"/>
<rect x="1790.75" y="2023.04" width="47.00" height="37.96" fill="#008000" stroke="#000" stroke-width="1.6"/>
<path d="M1814.25,2023.04V2011.60M1802.75,2011.60H1825.75" stroke="#000" stroke-width="1.6" fill="none"/>
<rect x="1640.50" y="1853.00" width="208.50" height="208.00" fill="none" stroke="#000" stroke-width="1.6"/>
<path d="M1636.90,1853.00H1640.50M1636.90,1905.00H1640.50M1636.90,1957.00H1640.50M1636.90,2009.00H1640.50M1636.90,2061.00H1640.50M1675.25,2061.00V2064.60M1744.75,2061.00V2064.60M1814.25,2061.00V2064.60" stroke="#000" stroke-width="1.6"/>
<text transform="translate(1635.30,1858.42) scale(1,1.065)" font-size="15.9" font-weight="bold" text-anchor="end">8</text>
<text transform="translate(1635.30,1910.42) scale(1,1.065)" font-size="15.9" font-weight="bold" text-anchor="end">6</text>
<text transform="translate(1635.30,1962.42) scale(1,1.065)" font-size="15.9" font-weight="bold" text-anchor="end">4</text>
<text transform="translate(1635.30,2014.42) scale(1,1.065)" font-size="15.9" font-weight="bold" text-anchor="end">2</text>
<text transform="translate(1635.30,2066.42) scale(1,1.065)" font-size="15.9" font-weight="bold" text-anchor="end">0</text>
<text transform="translate(1675.25,2080.40) scale(1,1.04)" font-size="14.6" font-weight="bold" text-anchor="middle">No stress</text>
<text transform="translate(1744.75,2080.40) scale(1,1.04)" font-size="14.6" font-weight="bold" text-anchor="middle">CMS-vul</text>
<text transform="translate(1814.25,2080.40) scale(1,1.04)" font-size="14.6" font-weight="bold" text-anchor="middle">CMS-res</text>
<text transform="translate(1744.75,1829.00) scale(0.9,1.045)" font-size="20.9" font-weight="bold" text-anchor="middle">NAD<tspan font-size="14.5" dy="-8.5">+</tspan><tspan dy="8.5">/NADH</tspan></text>
<text transform="translate(1594.50,1957.00) rotate(-90)" font-size="19.95" text-anchor="middle">Ratio fold change</text>
<text x="1745.25" y="1885.28" font-size="24.2" font-weight="bold" text-anchor="middle" letter-spacing="1.0">**</text>
<text x="1814.25" y="2000.10" font-size="15.0" font-weight="bold" text-anchor="middle">##</text>
<rect x="605.17" y="2344.70" width="47.00" height="21.99" fill="#ffffff" stroke="#000" stroke-width="1.6"/>
<path d="M628.67,2366.69V2373.39M617.17,2373.39H640.17" stroke="#000" stroke-width="1.6" fill="none"/>
<rect x="675.50" y="2296.75" width="47.00" height="47.95" fill="#000000" stroke="#000" stroke-width="1.6"/>
<path d="M699.00,2296.75V2274.76M687.50,2274.76H710.50" stroke="#000" stroke-width="1.6" fill="none"/>
<rect x="745.83" y="2344.70" width="47.00" height="26.28" fill="#008000" stroke="#000" stroke-width="1.6"/>
<path d="M769.33,2370.98V2403.12M757.83,2403.12H780.83" stroke="#000" stroke-width="1.6" fill="none"/>
<rect x="593.50" y="2240.00" width="211.00" height="209.40" fill="none" stroke="#000" stroke-width="1.6"/>
<path d="M593.50,2344.70H804.50" stroke="#000" stroke-width="1.6"/>
<path d="M589.90,2240.00H593.50M589.90,2292.35H593.50M589.90,2344.70H593.50M589.90,2397.05H593.50M589.90,2449.40H593.50M628.67,2449.40V2453.00M699.00,2449.40V2453.00M769.33,2449.40V2453.00" stroke="#000" stroke-width="1.6"/>
<text transform="translate(588.30,2245.42) scale(1,1.065)" font-size="15.9" font-weight="bold" text-anchor="end">1.0</text>
<text transform="translate(588.30,2297.77) scale(1,1.065)" font-size="15.9" font-weight="bold" text-anchor="end">0.5</text>
<text transform="translate(588.30,2350.12) scale(1,1.065)" font-size="15.9" font-weight="bold" text-anchor="end">0</text>
<text transform="translate(588.30,2402.47) scale(1,1.065)" font-size="15.9" font-weight="bold" text-anchor="end">-0.5</text>
<text transform="translate(588.30,2454.82) scale(1,1.065)" font-size="15.9" font-weight="bold" text-anchor="end">-1.0</text>
<text transform="translate(628.67,2468.80) scale(1,1.04)" font-size="14.6" font-weight="bold" text-anchor="middle">No stress</text>
<text transform="translate(699.00,2468.80) scale(1,1.04)" font-size="14.6" font-weight="bold" text-anchor="middle">CMS-vul</text>
<text transform="translate(769.33,2468.80) scale(1,1.04)" font-size="14.6" font-weight="bold" text-anchor="middle">CMS-res</text>
<text transform="translate(699.00,2215.00) scale(1,1.045)" font-size="20.9" font-weight="bold" text-anchor="middle">Citrullin</text>
<text transform="translate(548.70,2344.70) rotate(-90)" font-size="19.95" text-anchor="middle">Relative metabolite levels</text>
<text x="699.50" y="2272.68" font-size="24.2" font-weight="bold" text-anchor="middle" letter-spacing="1.0">*</text>
<text x="769.33" y="2425.80" font-size="15.0" font-weight="bold" text-anchor="middle">#</text>
<rect x="867.33" y="2309.40" width="47.00" height="20.34" fill="#ffffff" stroke="#000" stroke-width="1.6"/>
<path d="M890.83,2309.40V2292.50M879.33,2292.50H902.33" stroke="#000" stroke-width="1.6" fill="none"/>
<rect x="937.80" y="2305.06" width="47.00" height="24.68" fill="#000000" stroke="#000" stroke-width="1.6"/>
<path d="M961.30,2305.06V2264.23M949.80,2264.23H972.80" stroke="#000" stroke-width="1.6" fill="none"/>
<rect x="1008.27" y="2329.74" width="47.00" height="44.87" fill="#008000" stroke="#000" stroke-width="1.6"/>
<path d="M1031.77,2374.61V2392.26M1020.27,2392.26H1043.27" stroke="#000" stroke-width="1.6" fill="none"/>
<rect x="855.60" y="2240.00" width="211.40" height="209.40" fill="none" stroke="#000" stroke-width="1.6"/>
<path d="M855.60,2329.74H1067.00" stroke="#000" stroke-width="1.6"/>
<path d="M852.00,2240.00H855.60M852.00,2269.91H855.60M852.00,2299.83H855.60M852.00,2329.74H855.60M852.00,2359.66H855.60M852.00,2389.57H855.60M852.00,2419.49H855.60M852.00,2449.40H855.60M890.83,2449.40V2453.00M961.30,2449.40V2453.00M1031.77,2449.40V2453.00" stroke="#000" stroke-width="1.6"/>
<text transform="translate(850.40,2245.42) scale(1,1.065)" font-size="15.9" font-weight="bold" text-anchor="end">0.6</text>
<text transform="translate(850.40,2275.33) scale(1,1.065)" font-size="15.9" font-weight="bold" text-anchor="end">0.4</text>
<text transform="translate(850.40,2305.25) scale(1,1.065)" font-size="15.9" font-weight="bold" text-anchor="end">0.2</text>
<text transform="translate(850.40,2335.16) scale(1,1.065)" font-size="15.9" font-weight="bold" text-anchor="end">0</text>
<text transform="translate(850.40,2365.08) scale(1,1.065)" font-size="15.9" font-weight="bold" text-anchor="end">-0.2</text>
<text transform="translate(850.40,2394.99) scale(1,1.065)" font-size="15.9" font-weight="bold" text-anchor="end">-0.4</text>
<text transform="translate(850.40,2424.90) scale(1,1.065)" font-size="15.9" font-weight="bold" text-anchor="end">-0.6</text>
<text transform="translate(850.40,2454.82) scale(1,1.065)" font-size="15.9" font-weight="bold" text-anchor="end">-0.8</text>
<text transform="translate(890.83,2468.80) scale(1,1.04)" font-size="14.6" font-weight="bold" text-anchor="middle">No stress</text>
<text transform="translate(961.30,2468.80) scale(1,1.04)" font-size="14.6" font-weight="bold" text-anchor="middle">CMS-vul</text>
<text transform="translate(1031.77,2468.80) scale(1,1.04)" font-size="14.6" font-weight="bold" text-anchor="middle">CMS-res</text>
<text transform="translate(961.30,2215.00) scale(1,1.045)" font-size="20.9" font-weight="bold" text-anchor="middle">Arg</text>
<text x="1032.27" y="2418.08" font-size="24.2" font-weight="bold" text-anchor="middle" letter-spacing="1.0">*</text>
<text x="1031.77" y="2425.80" font-size="15.0" font-weight="bold" text-anchor="middle">#</text>
</svg></body></html>
